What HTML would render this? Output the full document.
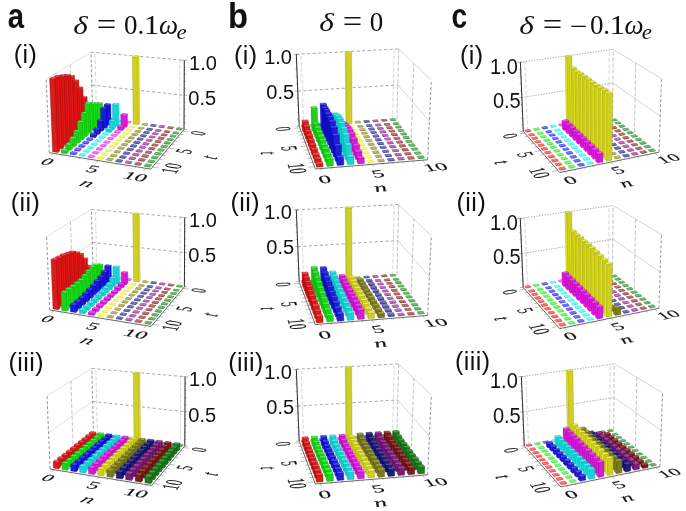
<!DOCTYPE html>
<html><head><meta charset="utf-8"><style>
html,body{margin:0;padding:0;background:#fff;}
svg{display:block;filter:blur(0.35px);}
path{stroke-width:0.35;stroke-linejoin:round} .q{stroke:none}
.s0{fill:rgb(238,15,15);stroke:rgb(158,0,0)}
.f0{fill:rgb(210,31,31);stroke:rgb(158,0,0)}
.t0{fill:rgb(246,76,76);stroke:rgb(158,0,0)}
.u0{fill:rgb(237,71,71)}
.v0{fill:rgb(248,115,115)}
.s1{fill:rgb(15,238,15);stroke:rgb(0,158,0)}
.f1{fill:rgb(31,210,31);stroke:rgb(0,158,0)}
.t1{fill:rgb(76,246,76);stroke:rgb(0,158,0)}
.u1{fill:rgb(71,237,71)}
.v1{fill:rgb(115,248,115)}
.s2{fill:rgb(15,15,238);stroke:rgb(0,0,158)}
.f2{fill:rgb(31,31,210);stroke:rgb(0,0,158)}
.t2{fill:rgb(76,76,246);stroke:rgb(0,0,158)}
.u2{fill:rgb(71,71,237)}
.v2{fill:rgb(115,115,248)}
.s3{fill:rgb(15,238,238);stroke:rgb(0,158,158)}
.f3{fill:rgb(31,210,210);stroke:rgb(0,158,158)}
.t3{fill:rgb(76,246,246);stroke:rgb(0,158,158)}
.u3{fill:rgb(71,237,237)}
.v3{fill:rgb(115,248,248)}
.s4{fill:rgb(238,15,238);stroke:rgb(158,0,158)}
.f4{fill:rgb(210,31,210);stroke:rgb(158,0,158)}
.t4{fill:rgb(246,76,246);stroke:rgb(158,0,158)}
.u4{fill:rgb(237,71,237)}
.v4{fill:rgb(248,115,248)}
.s5{fill:rgb(234,234,24);stroke:rgb(155,155,6)}
.f5{fill:rgb(207,207,38);stroke:rgb(155,155,6)}
.t5{fill:rgb(243,243,83);stroke:rgb(155,155,6)}
.u5{fill:rgb(233,233,78)}
.v5{fill:rgb(245,245,120)}
.s6{fill:rgb(127,127,15);stroke:rgb(79,79,0)}
.f6{fill:rgb(121,121,31);stroke:rgb(79,79,0)}
.t6{fill:rgb(162,162,76);stroke:rgb(79,79,0)}
.u6{fill:rgb(154,154,71)}
.v6{fill:rgb(182,182,115)}
.s7{fill:rgb(15,15,127);stroke:rgb(0,0,79)}
.f7{fill:rgb(31,31,121);stroke:rgb(0,0,79)}
.t7{fill:rgb(76,76,162);stroke:rgb(0,0,79)}
.u7{fill:rgb(71,71,154)}
.v7{fill:rgb(115,115,182)}
.s8{fill:rgb(127,15,127);stroke:rgb(79,0,79)}
.f8{fill:rgb(121,31,121);stroke:rgb(79,0,79)}
.t8{fill:rgb(162,76,162);stroke:rgb(79,0,79)}
.u8{fill:rgb(154,71,154)}
.v8{fill:rgb(182,115,182)}
.s9{fill:rgb(127,15,15);stroke:rgb(79,0,0)}
.f9{fill:rgb(121,31,31);stroke:rgb(79,0,0)}
.t9{fill:rgb(162,76,76);stroke:rgb(79,0,0)}
.u9{fill:rgb(154,71,71)}
.v9{fill:rgb(182,115,115)}
.s10{fill:rgb(15,127,15);stroke:rgb(0,79,0)}
.f10{fill:rgb(31,121,31);stroke:rgb(0,79,0)}
.t10{fill:rgb(76,162,76);stroke:rgb(0,79,0)}
.u10{fill:rgb(71,154,71)}
.v10{fill:rgb(115,182,115)}
</style></head><body>
<svg width="686" height="511" viewBox="0 0 686 511">
<rect width="686" height="511" fill="#fff"/>
<line x1="91.0" y1="52.1" x2="184.3" y2="60.3" stroke="#888" stroke-width="0.75" stroke-dasharray="3,2.5"/>
<line x1="91.9" y1="85.1" x2="184.1" y2="95.3" stroke="#888" stroke-width="0.75" stroke-dasharray="3,2.5"/>
<line x1="96.6" y1="117.9" x2="95.0" y2="52.5" stroke="#bbb" stroke-width="0.6" stroke-dasharray="4,2"/>
<line x1="179.6" y1="128.9" x2="179.8" y2="59.9" stroke="#bbb" stroke-width="0.6" stroke-dasharray="4,2"/>
<line x1="91.0" y1="52.1" x2="46.2" y2="79.2" stroke="#ccc" stroke-width="0.6"/>
<line x1="91.9" y1="85.1" x2="47.8" y2="116.4" stroke="#ccc" stroke-width="0.6"/>
<line x1="72.4" y1="133.9" x2="70.1" y2="64.8" stroke="#999" stroke-width="0.6" stroke-dasharray="4,2"/>
<line x1="49.3" y1="152.7" x2="46.2" y2="79.2" stroke="#666" stroke-width="0.7" stroke-dasharray="3,2"/>
<line x1="92.7" y1="117.4" x2="91.0" y2="52.1" stroke="#666" stroke-width="0.7" stroke-dasharray="3,2"/>
<line x1="184.0" y1="129.5" x2="184.3" y2="60.3" stroke="#bbb" stroke-width="0.6"/>
<line x1="184.0" y1="129.5" x2="184.3" y2="60.3" stroke="#333" stroke-width="1.0"/>
<path d="M184.0 129.5h3.0M184.0 122.7h1.6M184.0 115.9h1.6M184.1 109.1h1.6M184.1 102.2h1.6M184.1 95.3h3.0M184.2 88.4h1.6M184.2 81.4h1.6M184.2 74.4h1.6M184.3 67.4h1.6M184.3 60.3h3.0M184.3 60.3h-2.5" stroke="#333" stroke-width="0.7" fill="none"/>
<line x1="49.3" y1="152.7" x2="150.8" y2="169.1" stroke="#444" stroke-width="0.8"/>
<line x1="150.8" y1="169.1" x2="184.0" y2="129.5" stroke="#444" stroke-width="0.8"/>
<path d="M53.6 153.4L50.9 155.6M182.7 131.1L188.0 131.8M62.3 154.8L60.8 156.1M180.0 134.3L183.1 134.7M71.1 156.2L69.6 157.5M177.2 137.6L180.4 138.0M80.1 157.7L78.6 159.0M174.4 140.9L177.6 141.4M89.1 159.1L87.7 160.5M171.5 144.4L174.7 144.9M98.3 160.6L95.8 163.0M168.5 147.9L174.1 148.8M107.5 162.1L106.2 163.5M165.5 151.6L168.8 152.1M116.9 163.6L115.6 165.0M162.4 155.3L165.7 155.8M126.5 165.2L125.1 166.6M159.2 159.1L162.5 159.6M136.1 166.7L134.8 168.2M155.9 163.0L159.3 163.6M145.9 168.3L143.7 170.8M152.5 167.1L158.4 168.0" stroke="#444" stroke-width="0.6" fill="none"/>
<path class="u0" d="M92.9 117.9l1.7-1.4 4.7 0.6 0 0.8-1.7 1.4-4.7-0.6z"/>
<path class="v0" d="M94.6 116.5l4.7 0.6-1.7 1.5-4.7-0.7z"/>
<path class="u1" d="M100.8 119l1.7-1.4 4.7 0.6 0 0.8-1.6 1.4-4.8-0.6z"/>
<path class="v1" d="M102.5 117.6l4.7 0.6-1.7 1.4-4.7-0.6z"/>
<path class="u2" d="M108.8 120l1.6-1.4 4.8 0.6 0 0.8-1.6 1.5-4.8-0.7z"/>
<path class="v2" d="M110.4 118.6l4.8 0.6-1.6 1.5-4.9-0.7z"/>
<path class="s0" d="M93.2 123l1.8-1.5 0-1.9-1.8 1.4z"/>
<path class="f0" d="M88.5 122.3l4.7 0.7 0-2-4.8-0.6z"/>
<path class="t0" d="M90.2 118.9l4.8 0.7-1.8 1.4-4.8-0.6z"/>
<path class="u3" d="M116.8 121.1l1.6-1.4 4.9 0.6 0 0.8-1.6 1.5-4.9-0.7z"/>
<path class="v3" d="M118.4 119.7l4.9 0.6-1.6 1.5-4.9-0.7z"/>
<path class="u4" d="M125 122.2l1.6-1.5 4.9 0.7 0 0.8-1.6 1.4-4.9-0.6z"/>
<path class="v4" d="M126.6 120.7l4.9 0.7-1.6 1.5-4.9-0.7z"/>
<path class="s1" d="M101.3 124.1l1.7-1.5-0.4-19.7-1.8 1.4z"/>
<path class="f1" d="M96.5 123.4l4.8 0.7-0.5-19.8-4.9-0.6z"/>
<path class="t1" d="M97.7 102.3l4.9 0.6-1.8 1.4-4.9-0.6z"/>
<path class="s5" d="M138.2 124.8l1.6-1.5-0.8-67.2-1.5 1.1z"/>
<path class="f5" d="M133.2 124.1l5 0.7-0.7-67.6-5.1-0.4z"/>
<path class="t5" d="M134 55.6l5 0.5-1.5 1.1-5.1-0.4z"/>
<path class="s2" d="M109.4 125.2l1.7-1.5-0.4-19.8-1.7 1.4z"/>
<path class="f2" d="M104.5 124.5l4.9 0.7-0.4-19.9-4.9-0.6z"/>
<path class="t2" d="M105.8 103.3l4.9 0.6-1.7 1.4-4.9-0.6z"/>
<path class="s0" d="M89.7 126l1.8-1.5-0.4-13.2-1.8 1.4z"/>
<path class="f0" d="M84.8 125.3l4.9 0.7-0.4-13.3-4.8-0.6z"/>
<path class="t0" d="M86.3 110.7l4.8 0.6-1.8 1.4-4.8-0.6z"/>
<path class="u6" d="M141.6 124.4l1.5-1.5 5 0.7 0 0.8-1.5 1.5-5-0.7z"/>
<path class="v6" d="M143.1 122.9l5 0.7-1.5 1.5-5-0.7z"/>
<path class="s3" d="M117.6 126.3l1.7-1.5-0.4-21.2-1.7 1.4z"/>
<path class="f3" d="M112.7 125.6l4.9 0.7-0.4-21.3-5-0.6z"/>
<path class="t3" d="M113.9 103l5 0.6-1.7 1.4-5-0.6z"/>
<path class="s1" d="M97.8 127.1l1.7-1.5-0.5-22.6-1.8 1.4z"/>
<path class="f1" d="M92.9 126.4l4.9 0.7-0.6-22.7-4.9-0.6z"/>
<path class="t1" d="M94.1 102.4l4.9 0.6-1.8 1.4-4.9-0.6z"/>
<path class="u7" d="M150 125.5l1.5-1.5 5.1 0.7 0 0.8-1.5 1.5-5.1-0.7z"/>
<path class="v7" d="M151.5 124l5.1 0.7-1.5 1.5-5.1-0.7z"/>
<path class="s4" d="M125.9 127.4l1.6-1.5-0.1-12-1.7 1.5z"/>
<path class="f4" d="M120.9 126.8l5 0.6-0.2-12-5-0.6z"/>
<path class="t4" d="M122.4 113.3l5 0.6-1.7 1.5-5-0.6z"/>
<path class="s2" d="M106 128.2l1.7-1.5-0.4-19.3-1.8 1.4z"/>
<path class="f2" d="M101 127.5l5 0.7-0.5-19.4-4.9-0.6z"/>
<path class="t2" d="M102.3 106.8l5 0.6-1.8 1.4-4.9-0.6z"/>
<path class="u8" d="M158.5 126.7l1.5-1.6 5.1 0.7 0 0.8-1.4 1.6-5.2-0.7z"/>
<path class="v8" d="M160 125.1l5.1 0.7-1.4 1.6-5.2-0.7z"/>
<path class="s0" d="M86 129l1.8-1.5-0.8-30.8-1.9 1.4z"/>
<path class="f0" d="M81.1 128.3l4.9 0.7-0.9-30.9-4.9-0.6z"/>
<path class="t0" d="M82.1 96.1l4.9 0.6-1.9 1.4-4.9-0.6z"/>
<path class="u5" d="M129.2 127.1l1.6-1.5 5.1 0.6 0 0.8-1.6 1.6-5-0.7z"/>
<path class="v5" d="M130.8 125.6l5.1 0.6-1.6 1.6-5.1-0.7z"/>
<path class="u9" d="M167.2 127.8l1.4-1.5 5.2 0.7 0 0.8-1.4 1.5-5.2-0.7z"/>
<path class="v9" d="M168.5 126.3l5.2 0.7-1.3 1.5-5.3-0.7z"/>
<path class="s3" d="M114.2 129.4l1.7-1.6-0.1-8-1.7 1.5z"/>
<path class="f3" d="M109.3 128.7l4.9 0.7-0.1-8.1-5-0.6z"/>
<path class="t3" d="M110.8 119.2l5 0.6-1.7 1.5-5-0.6z"/>
<path class="s1" d="M94.2 130.2l1.8-1.6-0.7-25.5-1.8 1.4z"/>
<path class="f1" d="M89.3 129.5l4.9 0.7-0.7-25.7-5-0.6z"/>
<path class="t1" d="M90.4 102.5l4.9 0.6-1.8 1.4-5-0.6z"/>
<path class="u6" d="M137.7 128.2l1.5-1.5 5.1 0.7 0 0.8-1.5 1.5-5.1-0.7z"/>
<path class="v6" d="M139.2 126.7l5.1 0.7-1.5 1.5-5.1-0.7z"/>
<path class="u10" d="M175.9 129.8l0-0.8 1.3-1.6 5.3 0.7 0 0.8-1.3 1.6z"/>
<path class="v10" d="M177.2 127.4l5.3 0.7-1.3 1.6-5.3-0.7z"/>
<path class="s4" d="M122.6 130.5l1.7-1.5-0.1-3.4-1.6 1.6z"/>
<path class="f4" d="M117.6 129.8l5 0.7 0-3.3-5.1-0.7z"/>
<path class="t4" d="M119.2 125l5 0.6-1.6 1.6-5.1-0.7z"/>
<path class="u7" d="M146.2 129.4l1.5-1.6 5.2 0.7 0 0.8-1.5 1.6-5.2-0.7z"/>
<path class="v7" d="M147.7 127.8l5.2 0.7-1.5 1.6-5.2-0.7z"/>
<path class="s2" d="M102.4 131.3l1.8-1.5-0.2-10.1-1.8 1.5z"/>
<path class="f2" d="M97.5 130.6l4.9 0.7-0.2-10.1-5-0.6z"/>
<path class="t2" d="M99 119l5 0.7-1.8 1.5-5-0.6z"/>
<path class="s0" d="M82.2 132.1l1.9-1.5-1.3-43.5-1.9 1.4z"/>
<path class="f0" d="M77.3 131.4l4.9 0.7-1.3-43.6-5-0.6z"/>
<path class="t0" d="M77.9 86.6l4.9 0.5-1.9 1.4-5-0.6z"/>
<path class="u5" d="M126 130.2l1.6-1.6 5.1 0.7 0 0.8-1.6 1.6-5.1-0.7z"/>
<path class="v5" d="M127.6 128.6l5.1 0.7-1.6 1.6-5.1-0.7z"/>
<path class="u8" d="M154.8 130.6l1.5-1.6 5.2 0.7 0 0.8-1.4 1.6-5.3-0.7z"/>
<path class="v8" d="M156.3 129l5.2 0.7-1.4 1.6-5.2-0.7z"/>
<path class="s3" d="M110.8 132.5l1.7-1.6 0-2.7-1.8 1.6z"/>
<path class="f3" d="M105.8 131.8l5 0.7-0.1-2.7-5-0.7z"/>
<path class="t3" d="M107.5 127.6l5 0.6-1.8 1.6-5-0.7z"/>
<path class="s1" d="M90.5 133.3l1.8-1.6-0.7-29.1-1.9 1.4z"/>
<path class="f1" d="M85.5 132.6l5 0.7-0.8-29.3-5-0.6z"/>
<path class="t1" d="M86.6 101.9l5 0.7-1.9 1.4-5-0.6z"/>
<path class="u6" d="M134.5 131.4l1.6-1.6 5.1 0.7 0 0.8-1.5 1.6-5.2-0.7z"/>
<path class="v6" d="M136.1 129.8l5.1 0.7-1.5 1.6-5.2-0.7z"/>
<path class="u9" d="M163.6 131.8l1.4-1.6 5.3 0.7 0 0.8-1.4 1.6-5.3-0.7z"/>
<path class="v9" d="M165 130.2l5.3 0.7-1.4 1.6-5.3-0.7z"/>
<path class="u4" d="M114.1 131.6l1.8-1.5 5 0.7 0 1.3-1.7 1.6-5-0.7z"/>
<path class="v4" d="M115.9 130.1l5 0.7-1.7 1.6-5.1-0.8z"/>
<path class="s2" d="M98.8 134.5l1.8-1.6-0.1-4.7-1.8 1.6z"/>
<path class="f2" d="M93.8 133.8l5 0.7-0.1-4.7-5-0.7z"/>
<path class="t2" d="M95.5 127.5l5 0.7-1.8 1.6-5-0.7z"/>
<path class="u7" d="M143.1 132.6l1.6-1.6 5.2 0.7 0 0.8-1.6 1.6-5.2-0.7z"/>
<path class="v7" d="M144.7 131l5.2 0.7-1.6 1.6-5.2-0.7z"/>
<path class="u10" d="M172.4 133l1.4-1.6 5.3 0.7 0 0.8-1.3 1.6-5.4-0.7z"/>
<path class="v10" d="M173.8 131.4l5.3 0.7-1.3 1.6-5.4-0.7z"/>
<path class="s0" d="M78.4 135.3l1.9-1.6-1.6-53.6-2 1.3z"/>
<path class="f0" d="M73.5 134.6l4.9 0.7-1.7-53.9-5-0.6z"/>
<path class="t0" d="M73.7 79.5l5 0.6-2 1.3-5-0.6z"/>
<path class="u5" d="M122.7 133.4l1.7-1.6 5.1 0.7 0.1 0.8-1.7 1.6-5.1-0.7z"/>
<path class="v5" d="M124.3 131.8l5.1 0.7-1.6 1.6-5.2-0.7z"/>
<path class="u8" d="M151.8 133.8l1.6-1.6 5.2 0.7 0 0.8-1.5 1.6-5.3-0.7z"/>
<path class="v8" d="M153.4 132.2l5.2 0.7-1.5 1.6-5.3-0.7z"/>
<path class="u3" d="M102.2 133.7l1.8-1.6 5 0.8 0 1.3-1.7 1.6-5.1-0.7z"/>
<path class="v3" d="M104 132l5 0.8-1.8 1.6-5-0.8z"/>
<path class="s1" d="M86.7 136.6l1.9-1.7-0.6-22.6-1.9 1.5z"/>
<path class="f1" d="M81.7 135.8l5 0.8-0.6-22.8-5.1-0.6z"/>
<path class="t1" d="M83 111.7l5 0.6-1.9 1.5-5.1-0.6z"/>
<path class="u6" d="M131.2 134.6l1.7-1.6 5.2 0.7 0 0.8-1.6 1.7-5.2-0.8z"/>
<path class="v6" d="M132.9 133l5.2 0.7-1.6 1.6-5.3-0.7z"/>
<path class="u9" d="M160.7 135l1.5-1.6 5.3 0.7 0 0.8-1.4 1.7-5.3-0.8z"/>
<path class="v9" d="M162.1 133.4l5.3 0.7-1.4 1.6-5.3-0.7z"/>
<path class="u4" d="M110.7 135.2l1.8-1.6 5.1 0.7 0 1-1.7 1.7-5.1-0.8z"/>
<path class="v4" d="M112.4 133.6l5.1 0.7-1.7 1.6-5.2-0.7z"/>
<path class="s2" d="M95.1 137.8l1.9-1.7-0.1-2.7-1.8 1.6z"/>
<path class="f2" d="M90.1 137l5 0.8 0-2.8-5.1-0.7z"/>
<path class="t2" d="M91.9 132.7l5 0.7-1.8 1.6-5.1-0.7z"/>
<path class="u7" d="M139.9 135.8l1.6-1.6 5.3 0.7 0 0.8-1.6 1.7-5.2-0.8z"/>
<path class="v7" d="M141.5 134.2l5.3 0.7-1.6 1.7-5.3-0.8z"/>
<path class="u10" d="M169.6 136.2l1.4-1.6 5.4 0.7 0 0.9-1.4 1.6-5.4-0.7z"/>
<path class="v10" d="M171 134.6l5.4 0.7-1.4 1.7-5.4-0.8z"/>
<path class="s0" d="M74.5 138.6l1.9-1.6-1.9-61.4-2.1 1.3z"/>
<path class="f0" d="M69.5 137.9l5 0.7-2.1-61.7-5.1-0.5z"/>
<path class="t0" d="M69.4 75.1l5.1 0.5-2.1 1.3-5.1-0.5z"/>
<path class="u5" d="M119.2 136.6l1.8-1.6 5.1 0.7 0 0.9-1.7 1.6-5.2-0.7z"/>
<path class="v5" d="M120.9 135l5.2 0.7-1.7 1.7-5.2-0.8z"/>
<path class="u8" d="M148.8 137.1l1.5-1.7 5.3 0.8 0 0.8-1.5 1.6-5.3-0.7z"/>
<path class="v8" d="M150.3 135.4l5.3 0.8-1.5 1.6-5.4-0.7z"/>
<path class="u3" d="M98.5 136.9l1.8-1.6 5.1 0.7 0.1 1.4-1.8 1.6-5.2-0.7z"/>
<path class="v3" d="M100.3 135.3l5.1 0.7-1.8 1.7-5.1-0.8z"/>
<path class="s1" d="M82.9 139.9l1.9-1.7-0.5-17.3-2 1.6z"/>
<path class="f1" d="M77.8 139.1l5.1 0.8-0.6-17.4-5-0.7z"/>
<path class="t1" d="M79.2 120.2l5.1 0.7-2 1.6-5-0.7z"/>
<path class="u6" d="M127.9 137.9l1.7-1.7 5.2 0.8 0 0.8-1.6 1.7-5.3-0.8z"/>
<path class="v6" d="M129.6 136.2l5.2 0.8-1.6 1.6-5.3-0.7z"/>
<path class="u9" d="M157.7 138.3l1.6-1.7 5.3 0.8 0 0.8-1.5 1.7-5.3-0.7z"/>
<path class="v9" d="M159.2 136.6l5.3 0.8-1.5 1.7-5.3-0.8z"/>
<path class="u4" d="M107.1 138.5l1.8-1.7 5.1 0.8 0 1-1.7 1.7-5.2-0.8z"/>
<path class="v4" d="M108.9 136.8l5.1 0.8-1.7 1.7-5.2-0.8z"/>
<path class="u2" d="M86.2 139l1.9-1.7 5.1 0.8 0.1 1.3-1.9 1.7-5.2-0.7z"/>
<path class="v2" d="M88.1 137.3l5.1 0.8-1.9 1.6-5.1-0.7z"/>
<path class="s0" d="M70.4 142l2.1-1.7-2.2-65.6-2.1 1.3z"/>
<path class="f0" d="M65.4 141.2l5 0.8-2.2-66-5.2-0.6z"/>
<path class="t0" d="M65.1 74.1l5.2 0.6-2.1 1.3-5.2-0.6z"/>
<path class="u7" d="M136.7 139.2l1.6-1.7 5.3 0.7 0 0.9-1.6 1.7-5.3-0.8z"/>
<path class="v7" d="M138.3 137.5l5.3 0.7-1.6 1.7-5.3-0.8z"/>
<path class="u10" d="M166.7 139.6l1.4-1.7 5.5 0.8 0 0.8-1.5 1.7-5.4-0.8z"/>
<path class="v10" d="M168.1 137.9l5.5 0.8-1.5 1.7-5.4-0.8z"/>
<path class="u5" d="M115.7 140l1.8-1.7 5.2 0.8 0 0.8-1.7 1.7-5.2-0.8z"/>
<path class="v5" d="M117.5 138.3l5.2 0.8-1.7 1.6-5.3-0.7z"/>
<path class="u3" d="M94.8 140.6l1.8-1.7 5.2 0.8 0 1-1.8 1.7-5.2-0.8z"/>
<path class="v3" d="M96.6 138.9l5.2 0.8-1.9 1.7-5.1-0.8z"/>
<path class="u8" d="M145.6 140.4l1.6-1.7 5.3 0.8 0 0.8-1.5 1.7-5.4-0.7z"/>
<path class="v8" d="M147.2 138.7l5.3 0.8-1.5 1.7-5.4-0.8z"/>
<path class="s1" d="M78.9 143.2l2-1.7-0.3-11.1-2 1.6z"/>
<path class="f1" d="M73.8 142.5l5.1 0.7-0.3-11.2-5.2-0.7z"/>
<path class="t1" d="M75.5 129.7l5.1 0.7-2 1.6-5.2-0.7z"/>
<path class="u6" d="M124.5 141.3l1.7-1.7 5.3 0.7 0 0.9-1.7 1.7-5.3-0.8z"/>
<path class="v6" d="M126.2 139.6l5.3 0.7-1.7 1.7-5.3-0.7z"/>
<path class="u9" d="M154.6 141.7l1.5-1.7 5.5 0.8 0 0.8-1.6 1.7-5.4-0.7z"/>
<path class="v9" d="M156.1 140l5.4 0.8-1.5 1.7-5.4-0.8z"/>
<path class="u4" d="M103.4 142.1l1.8-1.7 5.3 0.8 0 0.8-1.8 1.7-5.3-0.8z"/>
<path class="v4" d="M105.2 140.4l5.3 0.8-1.9 1.7-5.2-0.8z"/>
<path class="u2" d="M82.3 142.4l2-1.7 5.1 0.7 0 1.4-1.9 1.8-5.2-0.8z"/>
<path class="v2" d="M84.3 140.7l5.1 0.7-1.9 1.7-5.2-0.7z"/>
<path class="s0" d="M66.3 145.4l2.1-1.7-2.4-68.6-2.2 1.4z"/>
<path class="f0" d="M61.2 144.6l5.1 0.8-2.5-68.9-5.2-0.6z"/>
<path class="t0" d="M60.8 74.6l5.2 0.5-2.2 1.4-5.2-0.6z"/>
<path class="u7" d="M133.4 142.6l1.6-1.8 5.4 0.8 0 0.9-1.6 1.7-5.4-0.8z"/>
<path class="v7" d="M135 140.8l5.4 0.8-1.7 1.7-5.3-0.7z"/>
<path class="u10" d="M163.7 143l1.5-1.7 5.5 0.8 0 0.8-1.5 1.8-5.5-0.8z"/>
<path class="v10" d="M165.2 141.3l5.5 0.8-1.5 1.7-5.5-0.8z"/>
<path class="u5" d="M112.2 143.4l1.8-1.7 5.2 0.7 0 0.9-1.7 1.7-5.3-0.8z"/>
<path class="v5" d="M114 141.7l5.2 0.8-1.8 1.7-5.3-0.8z"/>
<path class="u3" d="M90.9 144l1.9-1.7 5.2 0.8 0.1 1-1.9 1.8-5.2-0.8z"/>
<path class="v3" d="M92.9 142.3l5.1 0.8-1.9 1.7-5.2-0.8z"/>
<path class="u8" d="M142.3 143.9l1.7-1.8 5.4 0.8 0 0.9-1.6 1.7-5.4-0.8z"/>
<path class="v8" d="M144 142.1l5.4 0.8-1.6 1.8-5.5-0.8z"/>
<path class="s1" d="M74.9 146.7l2-1.7-0.2-7.8-2.1 1.7z"/>
<path class="f1" d="M69.7 145.9l5.2 0.8-0.3-7.8-5.1-0.7z"/>
<path class="t1" d="M71.5 136.5l5.2 0.7-2.1 1.7-5.1-0.7z"/>
<path class="u6" d="M121 144.7l1.8-1.7 5.3 0.8 0 0.8-1.7 1.8-5.4-0.8z"/>
<path class="v6" d="M122.8 143l5.3 0.8-1.7 1.7-5.4-0.8z"/>
<path class="u9" d="M151.4 145.2l1.6-1.8 5.5 0.8 0 0.9-1.6 1.7-5.5-0.8z"/>
<path class="v9" d="M153 143.4l5.5 0.8-1.6 1.8-5.5-0.8z"/>
<path class="u4" d="M99.7 145.6l1.9-1.8 5.3 0.8 0 0.8-1.8 1.8-5.3-0.8z"/>
<path class="v4" d="M101.5 143.8l5.3 0.8-1.9 1.8-5.3-0.8z"/>
<path class="u2" d="M78.3 145.8l2-1.7 5.2 0.8 0 1.4-2 1.8-5.2-0.9z"/>
<path class="v2" d="M80.3 144.1l5.2 0.8-2 1.7-5.2-0.8z"/>
<path class="s0" d="M62.1 148.9l2.1-1.8-2.6-71.5-2.2 1.4z"/>
<path class="f0" d="M57 148.1l5.1 0.8-2.7-71.9-5.2-0.6z"/>
<path class="t0" d="M56.4 75.1l5.2 0.5-2.2 1.4-5.2-0.6z"/>
<path class="u7" d="M130 146l1.7-1.7 5.4 0.8 0 0.8-1.7 1.8-5.4-0.8z"/>
<path class="v7" d="M131.7 144.3l5.4 0.8-1.7 1.8-5.4-0.9z"/>
<path class="u10" d="M160.6 146.5l1.6-1.7 5.5 0.8 0 0.8-1.5 1.8-5.6-0.8z"/>
<path class="v10" d="M162.2 144.8l5.5 0.8-1.5 1.7-5.6-0.8z"/>
<path class="u5" d="M108.5 146.9l1.8-1.8 5.3 0.8 0.1 0.9-1.9 1.8-5.3-0.8z"/>
<path class="v5" d="M110.3 145.1l5.3 0.8-1.8 1.8-5.3-0.8z"/>
<path class="u3" d="M87 147.5l2-1.7 5.2 0.8 0 1-1.9 1.8-5.3-0.8z"/>
<path class="v3" d="M89 145.8l5.2 0.8-1.9 1.7-5.3-0.8z"/>
<path class="s1" d="M70.7 150.3l2.1-1.8-0.2-5-2 1.8z"/>
<path class="f1" d="M65.5 149.5l5.2 0.8-0.1-5-5.2-0.8z"/>
<path class="t1" d="M67.5 142.7l5.1 0.8-2 1.8-5.2-0.8z"/>
<path class="u8" d="M139 147.4l1.7-1.8 5.5 0.8 0 0.9-1.7 1.8-5.5-0.9z"/>
<path class="v8" d="M140.7 145.6l5.5 0.8-1.7 1.8-5.5-0.8z"/>
<path class="u6" d="M117.4 148.2l1.8-1.7 5.4 0.8 0 0.8-1.8 1.8-5.4-0.8z"/>
<path class="v6" d="M119.2 146.5l5.4 0.8-1.8 1.8-5.4-0.8z"/>
<path class="u9" d="M148.2 148.8l1.6-1.8 5.6 0.8 0 0.8-1.6 1.8-5.6-0.8z"/>
<path class="v9" d="M149.8 147l5.6 0.8-1.6 1.8-5.6-0.8z"/>
<path class="u4" d="M95.8 149.1l1.9-1.8 5.3 0.8 0.1 0.9-1.9 1.8-5.4-0.8z"/>
<path class="v4" d="M97.7 147.3l5.3 0.8-1.9 1.8-5.3-0.8z"/>
<path class="u2" d="M74.2 149.4l2-1.8 5.3 0.8 0 1.4-2 1.8-5.3-0.8z"/>
<path class="v2" d="M76.2 147.6l5.3 0.8-2.1 1.8-5.2-0.8z"/>
<path class="s0" d="M57.8 152.5l2.1-1.8-2.8-73.1-2.2 1.4z"/>
<path class="f0" d="M52.6 151.7l5.2 0.8-2.9-73.5-5.3-0.6z"/>
<path class="t0" d="M51.9 77l5.2 0.6-2.2 1.4-5.3-0.6z"/>
<path class="u7" d="M126.5 149.6l1.7-1.8 5.5 0.8 0 0.9-1.7 1.8-5.5-0.8z"/>
<path class="v7" d="M128.2 147.8l5.5 0.8-1.8 1.9-5.4-0.9z"/>
<path class="u10" d="M157.5 150.1l1.6-1.8 5.6 0.9 0 0.8-1.6 1.8-5.6-0.8z"/>
<path class="v10" d="M159.1 148.3l5.6 0.9-1.6 1.8-5.6-0.9z"/>
<path class="u5" d="M104.7 150.5l1.9-1.8 5.4 0.8 0 0.9-1.9 1.8-5.4-0.8z"/>
<path class="v5" d="M106.6 148.7l5.4 0.8-1.9 1.8-5.4-0.8z"/>
<path class="u3" d="M83 151.1l2-1.8 5.3 0.9 0 1-2 1.8-5.3-0.8z"/>
<path class="v3" d="M85 149.3l5.3 0.8-2 1.9-5.3-0.9z"/>
<path class="s1" d="M66.5 153.9l2.1-1.8-0.1-2.9-2.1 1.8z"/>
<path class="f1" d="M61.2 153.1l5.3 0.8-0.1-2.9-5.3-0.8z"/>
<path class="t1" d="M63.3 148.4l5.2 0.8-2.1 1.8-5.3-0.8z"/>
<path class="u8" d="M135.6 151l1.7-1.8 5.5 0.8 0.1 0.9-1.7 1.8-5.6-0.8z"/>
<path class="v8" d="M137.3 149.2l5.6 0.8-1.7 1.9-5.6-0.9z"/>
<path class="u6" d="M113.7 151.9l1.9-1.9 5.4 0.9 0 0.9-1.8 1.8-5.4-0.8z"/>
<path class="v6" d="M115.6 150.1l5.4 0.8-1.8 1.8-5.5-0.8z"/>
<path class="u4" d="M91.8 152.8l2-1.9 5.4 0.9 0 0.8-1.9 1.9-5.4-0.9z"/>
<path class="v4" d="M93.8 150.9l5.4 0.9-2 1.8-5.3-0.9z"/>
<path class="u9" d="M144.9 152.4l1.7-1.8 5.6 0.8 0 0.9-1.7 1.8-5.6-0.8z"/>
<path class="v9" d="M146.6 150.6l5.5 0.8-1.6 1.9-5.6-0.9z"/>
<path class="u2" d="M69.9 153l2.2-1.8 5.3 0.8 0 1.5-2.1 1.8-5.3-0.8z"/>
<path class="v2" d="M72.1 151.2l5.2 0.8-2.1 1.9-5.3-0.9z"/>
<path class="u7" d="M122.9 153.3l1.8-1.9 5.5 0.9 0 0.9-1.8 1.8-5.5-0.8z"/>
<path class="v7" d="M124.7 151.4l5.5 0.9-1.8 1.8-5.5-0.8z"/>
<path class="u10" d="M154.3 153.8l1.6-1.8 5.7 0.8 0 0.9-1.6 1.9-5.7-0.9z"/>
<path class="v10" d="M155.9 152l5.7 0.8-1.6 1.9-5.7-0.9z"/>
<path class="u5" d="M100.9 154.2l1.9-1.9 5.4 0.9 0 0.8-1.9 1.9-5.4-0.9z"/>
<path class="v5" d="M102.8 152.3l5.4 0.9-1.9 1.8-5.4-0.8z"/>
<path class="u3" d="M78.8 154.8l2.1-1.8 5.3 0.8 0.1 1.1-2.1 1.9-5.3-0.9z"/>
<path class="v3" d="M80.9 153l5.3 0.8-2 1.9-5.4-0.9z"/>
<path class="u8" d="M132.1 154.7l1.8-1.9 5.6 0.9 0 0.9-1.7 1.9-5.7-0.9z"/>
<path class="v8" d="M133.9 152.9l5.6 0.8-1.8 1.9-5.6-0.9z"/>
<path class="u6" d="M110 155.6l1.9-1.9 5.5 0.9 0 0.9-1.9 1.9-5.5-0.9z"/>
<path class="v6" d="M111.9 153.7l5.5 0.9-1.9 1.9-5.5-0.9z"/>
<path class="u4" d="M87.8 156.5l2-1.9 5.5 0.9 0 0.8-2 1.9-5.5-0.8z"/>
<path class="v4" d="M89.8 154.6l5.5 0.9-2.1 1.9-5.4-0.9z"/>
<path class="u9" d="M141.5 156.2l1.7-1.9 5.7 0.8 0 0.9-1.7 1.9-5.7-0.9z"/>
<path class="v9" d="M143.2 154.3l5.7 0.8-1.7 1.9-5.7-0.8z"/>
<path class="u7" d="M119.2 157.1l1.8-1.8 5.6 0.8 0 0.9-1.8 1.9-5.6-0.9z"/>
<path class="v7" d="M121.1 155.2l5.5 0.8-1.8 1.9-5.6-0.9z"/>
<path class="u10" d="M151 157.6l1.6-1.9 5.8 0.9 0 0.9-1.7 1.9-5.7-0.9z"/>
<path class="v10" d="M152.6 155.7l5.8 0.9-1.7 1.9-5.7-0.9z"/>
<path class="u5" d="M96.9 157.9l2-1.9 5.5 0.9 0 0.9-2 1.9-5.5-0.9z"/>
<path class="v5" d="M98.9 156l5.5 0.9-2 1.9-5.5-0.9z"/>
<path class="u8" d="M128.6 158.5l1.8-1.9 5.6 0.9 0 0.9-1.8 1.9-5.6-0.9z"/>
<path class="v8" d="M130.4 156.6l5.6 0.9-1.8 1.9-5.6-0.9z"/>
<path class="u6" d="M106.1 159.4l1.9-1.9 5.6 0.9 0 0.9-1.9 1.9-5.6-0.9z"/>
<path class="v6" d="M108.1 157.5l5.5 0.9-1.9 1.9-5.6-0.9z"/>
<path class="u9" d="M138 160l1.8-1.9 5.7 0.9 0 0.9-1.7 1.9-5.8-0.9z"/>
<path class="v9" d="M139.8 158.1l5.7 0.9-1.7 1.9-5.8-0.9z"/>
<path class="u7" d="M115.4 160.9l1.9-1.9 5.7 0.9 0 0.9-1.9 1.9-5.7-0.9z"/>
<path class="v7" d="M117.3 159l5.7 0.9-1.9 1.9-5.7-0.9z"/>
<path class="u10" d="M147.6 161.5l1.7-1.9 5.8 0.9 0 0.9-1.7 1.9-5.8-0.9z"/>
<path class="v10" d="M149.3 159.6l5.8 0.9-1.7 1.9-5.8-0.9z"/>
<path class="u8" d="M124.9 162.4l1.8-1.9 5.7 0.9 0 0.9-1.8 1.9-5.7-0.9z"/>
<path class="v8" d="M126.7 160.5l5.7 0.9-1.8 1.9-5.7-0.9z"/>
<path class="u9" d="M134.4 164l1.8-2 5.8 0.9 0 0.9-1.7 2-5.8-0.9z"/>
<path class="v9" d="M136.2 162l5.8 0.9-1.8 2-5.8-0.9z"/>
<path class="u10" d="M144.1 165.5l1.8-2 5.8 0.9 0 0.9-1.7 2.1-5.8-1z"/>
<path class="v10" d="M145.9 163.5l5.8 0.9-1.7 2.1-5.9-1z"/>
<g font-family="Liberation Serif" fill="#111" stroke="#111" stroke-width="0.15">
<text transform="matrix(1.5507,0.2614,-0.8135,0.6784,47.60,161.50)" font-size="13" text-anchor="middle" dominant-baseline="central">0</text>
<text transform="matrix(1.6516,0.2783,-0.7351,0.7173,92.70,169.00)" font-size="13" text-anchor="middle" dominant-baseline="central">5</text>
<text transform="matrix(1.7525,0.2956,-0.6556,0.7571,135.50,176.50)" font-size="13" text-anchor="middle" dominant-baseline="central">10</text>
<text transform="matrix(1.7211,0.3077,-0.7817,0.7839,87.40,182.90)" font-size="13" font-style="italic" text-anchor="middle" dominant-baseline="central">n</text>
<text transform="matrix(0.4392,-0.5669,1.5829,0.2121,198.00,133.20)" font-size="13" text-anchor="middle" dominant-baseline="central">0</text>
<text transform="matrix(0.4992,-0.6450,1.6733,0.2461,184.10,151.50)" font-size="13" text-anchor="middle" dominant-baseline="central">5</text>
<text transform="matrix(0.5572,-0.7212,1.7549,0.2796,171.50,168.30)" font-size="13" text-anchor="middle" dominant-baseline="central">10</text>
<text transform="matrix(0.4546,-0.6738,1.7416,0.2586,209.20,157.40)" font-size="13" font-style="italic" text-anchor="middle" dominant-baseline="central">t</text>
</g>
<line x1="91.4" y1="209.4" x2="184.7" y2="217.6" stroke="#888" stroke-width="0.75" stroke-dasharray="3,2.5"/>
<line x1="92.3" y1="242.4" x2="184.5" y2="252.6" stroke="#888" stroke-width="0.75" stroke-dasharray="3,2.5"/>
<line x1="97.0" y1="275.2" x2="95.4" y2="209.8" stroke="#bbb" stroke-width="0.6" stroke-dasharray="4,2"/>
<line x1="180.0" y1="286.2" x2="180.2" y2="217.2" stroke="#bbb" stroke-width="0.6" stroke-dasharray="4,2"/>
<line x1="91.4" y1="209.4" x2="46.6" y2="236.5" stroke="#ccc" stroke-width="0.6"/>
<line x1="92.3" y1="242.4" x2="48.2" y2="273.7" stroke="#ccc" stroke-width="0.6"/>
<line x1="72.8" y1="291.2" x2="70.5" y2="222.1" stroke="#999" stroke-width="0.6" stroke-dasharray="4,2"/>
<line x1="49.7" y1="310.0" x2="46.6" y2="236.5" stroke="#666" stroke-width="0.7" stroke-dasharray="3,2"/>
<line x1="93.1" y1="274.7" x2="91.4" y2="209.4" stroke="#666" stroke-width="0.7" stroke-dasharray="3,2"/>
<line x1="184.4" y1="286.8" x2="184.7" y2="217.6" stroke="#bbb" stroke-width="0.6"/>
<line x1="184.4" y1="286.8" x2="184.7" y2="217.6" stroke="#333" stroke-width="1.0"/>
<path d="M184.4 286.8h3.0M184.4 280.0h1.6M184.4 273.2h1.6M184.5 266.4h1.6M184.5 259.5h1.6M184.5 252.6h3.0M184.6 245.7h1.6M184.6 238.7h1.6M184.6 231.7h1.6M184.7 224.7h1.6M184.7 217.6h3.0M184.7 217.6h-2.5" stroke="#333" stroke-width="0.7" fill="none"/>
<line x1="49.7" y1="310.0" x2="151.2" y2="326.4" stroke="#444" stroke-width="0.8"/>
<line x1="151.2" y1="326.4" x2="184.4" y2="286.8" stroke="#444" stroke-width="0.8"/>
<path d="M54.0 310.7L51.3 312.9M183.1 288.4L188.4 289.1M62.7 312.1L61.2 313.4M180.4 291.6L183.5 292.0M71.5 313.5L70.0 314.8M177.6 294.9L180.8 295.3M80.5 315.0L79.0 316.3M174.8 298.2L178.0 298.7M89.5 316.4L88.1 317.8M171.9 301.7L175.1 302.2M98.7 317.9L96.2 320.3M168.9 305.2L174.5 306.1M107.9 319.4L106.6 320.8M165.9 308.9L169.2 309.4M117.3 320.9L116.0 322.3M162.8 312.6L166.1 313.1M126.9 322.5L125.5 323.9M159.6 316.4L162.9 316.9M136.5 324.0L135.2 325.5M156.3 320.3L159.7 320.9M146.3 325.6L144.1 328.1M152.9 324.4L158.8 325.3" stroke="#444" stroke-width="0.6" fill="none"/>
<path class="u0" d="M93.3 275.2l1.7-1.4 4.7 0.6 0 0.8-1.7 1.4-4.7-0.6z"/>
<path class="v0" d="M95 273.8l4.7 0.6-1.7 1.5-4.7-0.7z"/>
<path class="u1" d="M101.2 276.3l1.7-1.5 4.7 0.7 0 0.7-1.6 1.5-4.8-0.6z"/>
<path class="v1" d="M102.9 274.9l4.7 0.6-1.7 1.4-4.7-0.6z"/>
<path class="u2" d="M109.2 277.3l1.6-1.4 4.8 0.6 0 0.8-1.6 1.5-4.8-0.7z"/>
<path class="v2" d="M110.8 275.9l4.8 0.6-1.6 1.5-4.9-0.7z"/>
<path class="s0" d="M93.6 280.3l1.8-1.5-0.1-5.2-1.8 1.5z"/>
<path class="f0" d="M88.9 279.6l4.7 0.7-0.1-5.2-4.8-0.7z"/>
<path class="t0" d="M90.5 273l4.8 0.6-1.8 1.5-4.8-0.7z"/>
<path class="u3" d="M117.2 278.4l1.6-1.4 4.9 0.6 0 0.8-1.6 1.4-4.9-0.6z"/>
<path class="v3" d="M118.8 277l4.9 0.6-1.6 1.5-4.9-0.7z"/>
<path class="u4" d="M125.4 279.5l1.6-1.5 4.9 0.7 0 0.8-1.6 1.5-4.9-0.7z"/>
<path class="v4" d="M127 278l4.9 0.7-1.6 1.5-4.9-0.7z"/>
<path class="s1" d="M101.7 281.4l1.7-1.5-0.4-15.7-1.7 1.4z"/>
<path class="f1" d="M96.9 280.7l4.8 0.7-0.4-15.8-4.8-0.6z"/>
<path class="t1" d="M98.2 263.6l4.8 0.6-1.7 1.4-4.8-0.6z"/>
<path class="s5" d="M138.6 282.1l1.6-1.5-0.8-67.2-1.5 1.1z"/>
<path class="f5" d="M133.6 281.4l5 0.7-0.7-67.6-5.1-0.4z"/>
<path class="t5" d="M134.4 212.9l5 0.5-1.5 1.1-5.1-0.4z"/>
<path class="s2" d="M109.8 282.5l1.7-1.5-0.3-15.8-1.7 1.4z"/>
<path class="f2" d="M104.9 281.8l4.9 0.7-0.3-15.9-4.9-0.6z"/>
<path class="t2" d="M106.3 264.6l4.9 0.6-1.7 1.4-4.9-0.6z"/>
<path class="s0" d="M90.1 283.3l1.8-1.5-0.5-16.5-1.8 1.4z"/>
<path class="f0" d="M85.2 282.6l4.9 0.7-0.5-16.6-4.8-0.6z"/>
<path class="t0" d="M86.6 264.7l4.8 0.6-1.8 1.4-4.8-0.6z"/>
<path class="u6" d="M142 281.7l1.5-1.5 5 0.7 0 0.8-1.5 1.5-5-0.7z"/>
<path class="v6" d="M143.5 280.2l5 0.7-1.5 1.5-5-0.7z"/>
<path class="s3" d="M118 283.6l1.7-1.5-0.3-15.9-1.7 1.4z"/>
<path class="f3" d="M113.1 282.9l4.9 0.7-0.3-16-4.9-0.6z"/>
<path class="t3" d="M114.4 265.6l5 0.6-1.7 1.4-4.9-0.6z"/>
<path class="s1" d="M98.2 284.4l1.7-1.5-0.4-18.6-1.8 1.4z"/>
<path class="f1" d="M93.3 283.7l4.9 0.7-0.5-18.7-4.9-0.6z"/>
<path class="t1" d="M94.6 263.7l4.9 0.6-1.8 1.4-4.9-0.6z"/>
<path class="u7" d="M150.4 282.8l1.5-1.5 5.1 0.7 0 0.8-1.5 1.5-5.1-0.7z"/>
<path class="v7" d="M151.9 281.3l5.1 0.7-1.5 1.5-5.1-0.7z"/>
<path class="s4" d="M126.3 284.7l1.6-1.5-0.1-11.3-1.7 1.5z"/>
<path class="f4" d="M121.3 284.1l5 0.6-0.2-11.3-5-0.7z"/>
<path class="t4" d="M122.8 271.3l5 0.6-1.7 1.5-5-0.7z"/>
<path class="s2" d="M106.4 285.5l1.7-1.5-0.3-13.3-1.7 1.5z"/>
<path class="f2" d="M101.4 284.8l5 0.7-0.3-13.3-5-0.7z"/>
<path class="t2" d="M102.9 270.1l4.9 0.6-1.7 1.5-5-0.7z"/>
<path class="u8" d="M158.9 284l1.5-1.6 5.1 0.7 0 0.8-1.4 1.6-5.2-0.7z"/>
<path class="v8" d="M160.4 282.4l5.1 0.7-1.4 1.6-5.2-0.7z"/>
<path class="s0" d="M86.4 286.3l1.8-1.5-0.7-26.7-1.9 1.4z"/>
<path class="f0" d="M81.5 285.6l4.9 0.7-0.8-26.8-4.9-0.6z"/>
<path class="t0" d="M82.6 257.5l4.9 0.6-1.9 1.4-4.9-0.6z"/>
<path class="u5" d="M129.7 284.4l1.6-1.5 5.1 0.6 0 0.8-1.6 1.6-5-0.7z"/>
<path class="v5" d="M131.2 282.9l5.1 0.6-1.6 1.6-5.1-0.7z"/>
<path class="u9" d="M167.6 285.1l1.4-1.5 5.2 0.7 0 0.8-1.4 1.5-5.2-0.7z"/>
<path class="v9" d="M168.9 283.6l5.2 0.7-1.3 1.5-5.3-0.7z"/>
<path class="s3" d="M114.6 286.7l1.7-1.6-0.1-8-1.7 1.5z"/>
<path class="f3" d="M109.7 286l4.9 0.7-0.1-8.1-5-0.6z"/>
<path class="t3" d="M111.2 276.5l5 0.6-1.7 1.5-5-0.6z"/>
<path class="s1" d="M94.6 287.5l1.8-1.6-0.5-20.1-1.9 1.5z"/>
<path class="f1" d="M89.7 286.8l4.9 0.7-0.6-20.2-4.9-0.7z"/>
<path class="t1" d="M90.9 265.2l5 0.6-1.9 1.5-4.9-0.7z"/>
<path class="u6" d="M138.1 285.5l1.5-1.5 5.1 0.7 0 0.8-1.5 1.5-5.1-0.7z"/>
<path class="v6" d="M139.6 284l5.1 0.7-1.5 1.5-5.1-0.7z"/>
<path class="u10" d="M176.3 287.1l0-0.8 1.3-1.6 5.3 0.7 0 0.8-1.3 1.6z"/>
<path class="v10" d="M177.6 284.7l5.3 0.7-1.3 1.6-5.3-0.7z"/>
<path class="s4" d="M123 287.8l1.7-1.5-0.1-3.4-1.6 1.6z"/>
<path class="f4" d="M118 287.1l5 0.7 0-3.3-5.1-0.7z"/>
<path class="t4" d="M119.6 282.3l5 0.6-1.6 1.6-5.1-0.7z"/>
<path class="u7" d="M146.6 286.7l1.5-1.6 5.2 0.7 0 0.8-1.5 1.6-5.2-0.7z"/>
<path class="v7" d="M148.1 285.1l5.2 0.7-1.5 1.6-5.2-0.7z"/>
<path class="s2" d="M102.8 288.6l1.8-1.5-0.3-11.4-1.7 1.5z"/>
<path class="f2" d="M97.9 287.9l4.9 0.7-0.2-11.4-5-0.7z"/>
<path class="t2" d="M99.4 275l4.9 0.7-1.7 1.5-5-0.7z"/>
<path class="s0" d="M82.6 289.4l1.9-1.5-1-34.5-1.9 1.4z"/>
<path class="f0" d="M77.7 288.7l4.9 0.7-1-34.6-5-0.6z"/>
<path class="t0" d="M78.6 252.8l4.9 0.6-1.9 1.4-5-0.6z"/>
<path class="u5" d="M126.4 287.5l1.6-1.6 5.1 0.7 0 0.8-1.6 1.6-5.1-0.7z"/>
<path class="v5" d="M128 285.9l5.1 0.7-1.6 1.6-5.1-0.7z"/>
<path class="u8" d="M155.2 287.9l1.5-1.6 5.2 0.7 0 0.8-1.4 1.6-5.3-0.7z"/>
<path class="v8" d="M156.7 286.3l5.2 0.7-1.4 1.6-5.2-0.7z"/>
<path class="s3" d="M111.2 289.8l1.7-1.6-0.1-5.3-1.7 1.5z"/>
<path class="f3" d="M106.2 289.1l5 0.7-0.1-5.4-5.1-0.7z"/>
<path class="t3" d="M107.8 282.2l5 0.7-1.7 1.5-5.1-0.7z"/>
<path class="s1" d="M90.9 290.6l1.8-1.6-0.5-18.9-1.8 1.5z"/>
<path class="f1" d="M85.9 289.9l5 0.7-0.5-19-5-0.7z"/>
<path class="t1" d="M87.3 269.5l4.9 0.6-1.8 1.5-5-0.7z"/>
<path class="u6" d="M134.9 288.7l1.6-1.6 5.1 0.7 0 0.8-1.5 1.6-5.2-0.7z"/>
<path class="v6" d="M136.5 287.1l5.1 0.7-1.5 1.6-5.2-0.7z"/>
<path class="u9" d="M164 289.1l1.4-1.6 5.3 0.7 0 0.8-1.4 1.6-5.3-0.7z"/>
<path class="v9" d="M165.4 287.5l5.3 0.7-1.4 1.6-5.3-0.7z"/>
<path class="s4" d="M119.7 291l1.6-1.6 0-2.7-1.7 1.6z"/>
<path class="f4" d="M114.6 290.3l5.1 0.7-0.1-2.7-5.1-0.7z"/>
<path class="t4" d="M116.2 286l5.1 0.7-1.7 1.6-5.1-0.7z"/>
<path class="s2" d="M99.2 291.8l1.8-1.6-0.2-10.1-1.8 1.5z"/>
<path class="f2" d="M94.2 291.1l5 0.7-0.2-10.2-5.1-0.7z"/>
<path class="t2" d="M95.8 279.4l5 0.7-1.8 1.5-5.1-0.7z"/>
<path class="u7" d="M143.5 289.9l1.6-1.6 5.2 0.7 0 0.8-1.6 1.6-5.2-0.7z"/>
<path class="v7" d="M145.1 288.3l5.2 0.7-1.6 1.6-5.2-0.7z"/>
<path class="u10" d="M172.8 290.3l1.4-1.6 5.3 0.7 0 0.8-1.3 1.6-5.4-0.7z"/>
<path class="v10" d="M174.2 288.7l5.3 0.7-1.3 1.6-5.4-0.7z"/>
<path class="s0" d="M78.8 292.6l1.9-1.6-1.2-39-1.9 1.4z"/>
<path class="f0" d="M73.9 291.9l4.9 0.7-1.2-39.2-5.1-0.6z"/>
<path class="t0" d="M74.5 251.4l5 0.6-1.9 1.4-5.1-0.6z"/>
<path class="u5" d="M123 290.7l1.7-1.6 5.1 0.7 0.1 0.8-1.7 1.6-5.1-0.7z"/>
<path class="v5" d="M124.7 289.1l5.1 0.7-1.6 1.6-5.2-0.7z"/>
<path class="u8" d="M152.2 291.1l1.6-1.6 5.2 0.7 0 0.8-1.5 1.6-5.3-0.7z"/>
<path class="v8" d="M153.8 289.5l5.2 0.7-1.5 1.6-5.3-0.7z"/>
<path class="s3" d="M107.7 293l1.7-1.6-0.1-4.7-1.7 1.6z"/>
<path class="f3" d="M102.6 292.3l5.1 0.7-0.1-4.7-5.1-0.8z"/>
<path class="t3" d="M104.3 286l5 0.7-1.7 1.6-5.1-0.8z"/>
<path class="s1" d="M87.1 293.9l1.9-1.7-0.5-17.7-1.9 1.5z"/>
<path class="f1" d="M82.1 293.1l5 0.8-0.5-17.9-5-0.7z"/>
<path class="t1" d="M83.5 273.8l5 0.7-1.9 1.5-5-0.7z"/>
<path class="u6" d="M131.7 291.9l1.7-1.6 5.2 0.7 0 0.8-1.6 1.6-5.2-0.7z"/>
<path class="v6" d="M133.3 290.3l5.2 0.7-1.6 1.6-5.3-0.7z"/>
<path class="u9" d="M161.1 292.3l1.5-1.6 5.3 0.7 0 0.8-1.4 1.7-5.3-0.8z"/>
<path class="v9" d="M162.5 290.7l5.3 0.7-1.4 1.6-5.3-0.7z"/>
<path class="s4" d="M116.2 294.3l1.7-1.7 0-2-1.7 1.6z"/>
<path class="f4" d="M111.1 293.5l5.1 0.8 0-2.1-5.2-0.7z"/>
<path class="t4" d="M112.8 289.9l5.1 0.7-1.7 1.6-5.2-0.7z"/>
<path class="s2" d="M95.5 295.1l1.9-1.7-0.2-8.9-1.9 1.6z"/>
<path class="f2" d="M90.5 294.3l5 0.8-0.2-9-5.1-0.7z"/>
<path class="t2" d="M92.1 283.8l5.1 0.7-1.9 1.6-5.1-0.7z"/>
<path class="u7" d="M140.3 293.1l1.6-1.6 5.3 0.7 0 0.8-1.6 1.7-5.2-0.7z"/>
<path class="v7" d="M141.9 291.5l5.3 0.7-1.6 1.7-5.3-0.8z"/>
<path class="s0" d="M74.9 295.9l1.9-1.6-1.3-43-2.1 1.4z"/>
<path class="f0" d="M69.9 295.2l5 0.7-1.5-43.2-5-0.6z"/>
<path class="t0" d="M70.4 250.7l5.1 0.6-2.1 1.4-5-0.6z"/>
<path class="u10" d="M170 293.5l1.4-1.6 5.4 0.7 0 0.9-1.4 1.6-5.4-0.7z"/>
<path class="v10" d="M171.4 291.9l5.4 0.7-1.4 1.7-5.4-0.8z"/>
<path class="u5" d="M119.6 293.9l1.8-1.6 5.1 0.7 0 0.9-1.7 1.6-5.2-0.7z"/>
<path class="v5" d="M121.3 292.3l5.2 0.7-1.7 1.7-5.2-0.8z"/>
<path class="u8" d="M149.2 294.4l1.5-1.7 5.3 0.7 0 0.9-1.5 1.7-5.3-0.8z"/>
<path class="v8" d="M150.7 292.7l5.3 0.8-1.5 1.6-5.4-0.7z"/>
<path class="s3" d="M104.1 296.3l1.8-1.6-0.1-4.1-1.8 1.6z"/>
<path class="f3" d="M98.9 295.6l5.2 0.7-0.1-4.1-5.2-0.7z"/>
<path class="t3" d="M100.7 289.8l5.1 0.8-1.8 1.6-5.2-0.7z"/>
<path class="s1" d="M83.3 297.2l1.9-1.7-0.5-16.6-1.9 1.6z"/>
<path class="f1" d="M78.2 296.4l5.1 0.8-0.5-16.7-5.1-0.7z"/>
<path class="t1" d="M79.7 278.2l5 0.7-1.9 1.6-5.1-0.7z"/>
<path class="u6" d="M128.3 295.2l1.7-1.7 5.2 0.8 0 0.8-1.6 1.7-5.3-0.8z"/>
<path class="v6" d="M130 293.5l5.2 0.8-1.6 1.6-5.3-0.7z"/>
<path class="u9" d="M158.1 295.6l1.6-1.6 5.3 0.7 0 0.8-1.5 1.7-5.3-0.8z"/>
<path class="v9" d="M159.6 293.9l5.3 0.8-1.5 1.7-5.3-0.8z"/>
<path class="s4" d="M112.7 297.6l1.7-1.7 0-2-1.8 1.6z"/>
<path class="f4" d="M107.5 296.8l5.2 0.8-0.1-2.1-5.2-0.7z"/>
<path class="t4" d="M109.2 293.1l5.2 0.8-1.8 1.6-5.2-0.7z"/>
<path class="s2" d="M91.8 298.4l1.9-1.6-0.3-8.4-1.9 1.7z"/>
<path class="f2" d="M86.7 297.7l5.1 0.7-0.3-8.3-5.1-0.8z"/>
<path class="t2" d="M88.3 287.7l5.1 0.7-1.9 1.7-5.1-0.8z"/>
<path class="s0" d="M70.8 299.3l2.1-1.7-1.5-44.9-2.1 1.5z"/>
<path class="f0" d="M65.8 298.5l5 0.8-1.5-45.1-5.1-0.6z"/>
<path class="t0" d="M66.3 252.1l5.1 0.6-2.1 1.5-5.1-0.6z"/>
<path class="u7" d="M137.1 296.4l1.6-1.6 5.3 0.7 0 0.9-1.6 1.6-5.3-0.7z"/>
<path class="v7" d="M138.7 294.8l5.3 0.7-1.6 1.7-5.3-0.8z"/>
<path class="u10" d="M167.1 296.9l1.4-1.7 5.5 0.8 0 0.8-1.5 1.7-5.4-0.8z"/>
<path class="v10" d="M168.5 295.2l5.5 0.8-1.5 1.7-5.4-0.8z"/>
<path class="u5" d="M116.1 297.3l1.8-1.7 5.2 0.8 0 0.8-1.7 1.7-5.2-0.8z"/>
<path class="v5" d="M117.9 295.6l5.2 0.8-1.7 1.6-5.3-0.7z"/>
<path class="s3" d="M100.4 299.7l1.8-1.7-0.1-4.2-1.8 1.7z"/>
<path class="f3" d="M95.2 298.9l5.2 0.8-0.1-4.2-5.2-0.7z"/>
<path class="t3" d="M97 293.1l5.1 0.7-1.8 1.7-5.2-0.7z"/>
<path class="u8" d="M146 297.7l1.6-1.7 5.3 0.8 0 0.8-1.5 1.7-5.4-0.7z"/>
<path class="v8" d="M147.6 296l5.3 0.8-1.5 1.7-5.4-0.8z"/>
<path class="s1" d="M79.3 300.5l2-1.7-0.5-16.7-2 1.6z"/>
<path class="f1" d="M74.2 299.8l5.1 0.7-0.5-16.8-5.1-0.7z"/>
<path class="t1" d="M75.7 281.4l5.1 0.7-2 1.6-5.1-0.7z"/>
<path class="u6" d="M124.9 298.6l1.7-1.7 5.3 0.7 0 0.9-1.7 1.7-5.3-0.8z"/>
<path class="v6" d="M126.6 296.9l5.3 0.7-1.7 1.7-5.3-0.7z"/>
<path class="u9" d="M155 299l1.5-1.7 5.5 0.8 0 0.8-1.6 1.7-5.4-0.7z"/>
<path class="v9" d="M156.5 297.3l5.4 0.8-1.5 1.7-5.4-0.8z"/>
<path class="s4" d="M109.1 301l1.8-1.7-0.1-2.1-1.8 1.7z"/>
<path class="f4" d="M103.8 300.2l5.3 0.8-0.1-2.1-5.2-0.8z"/>
<path class="t4" d="M105.6 296.4l5.2 0.8-1.8 1.7-5.2-0.8z"/>
<path class="s2" d="M87.9 301.9l1.9-1.8-0.2-7.7-1.9 1.7z"/>
<path class="f2" d="M82.7 301.1l5.2 0.8-0.2-7.8-5.2-0.7z"/>
<path class="t2" d="M84.5 291.7l5.1 0.7-1.9 1.7-5.2-0.7z"/>
<path class="s0" d="M66.7 302.7l2.1-1.7-1.7-46.8-2.1 1.5z"/>
<path class="f0" d="M61.6 301.9l5.1 0.8-1.7-47-5.1-0.7z"/>
<path class="t0" d="M62 253.6l5.1 0.6-2.1 1.5-5.1-0.7z"/>
<path class="u7" d="M133.8 299.9l1.6-1.7 5.4 0.8 0 0.9-1.6 1.7-5.4-0.8z"/>
<path class="v7" d="M135.4 298.1l5.4 0.8-1.7 1.7-5.3-0.7z"/>
<path class="u10" d="M164.1 300.3l1.5-1.7 5.5 0.8 0 0.8-1.5 1.8-5.5-0.8z"/>
<path class="v10" d="M165.6 298.6l5.5 0.8-1.5 1.7-5.5-0.8z"/>
<path class="u5" d="M112.5 300.7l1.8-1.7 5.2 0.8 0 0.8-1.7 1.7-5.3-0.8z"/>
<path class="v5" d="M114.4 299l5.2 0.8-1.8 1.7-5.3-0.8z"/>
<path class="s3" d="M96.6 303.2l1.9-1.8-0.1-3.5-1.9 1.7z"/>
<path class="f3" d="M91.3 302.4l5.3 0.8-0.1-3.6-5.2-0.7z"/>
<path class="t3" d="M93.2 297.2l5.2 0.7-1.9 1.7-5.2-0.7z"/>
<path class="u8" d="M142.7 301.2l1.7-1.8 5.4 0.8 0 0.9-1.6 1.7-5.4-0.8z"/>
<path class="v8" d="M144.4 299.4l5.4 0.8-1.6 1.8-5.5-0.8z"/>
<path class="s1" d="M75.3 304l2-1.7-0.5-17-2.1 1.7z"/>
<path class="f1" d="M70.1 303.2l5.2 0.8-0.6-17-5.2-0.7z"/>
<path class="t1" d="M71.6 284.6l5.2 0.7-2.1 1.7-5.2-0.7z"/>
<path class="u6" d="M121.4 302l1.8-1.7 5.3 0.8 0 0.8-1.7 1.8-5.4-0.8z"/>
<path class="v6" d="M123.2 300.3l5.3 0.8-1.7 1.7-5.4-0.8z"/>
<path class="u9" d="M151.8 302.5l1.6-1.8 5.5 0.8 0 0.9-1.6 1.8-5.5-0.8z"/>
<path class="v9" d="M153.4 300.7l5.5 0.8-1.6 1.8-5.5-0.8z"/>
<path class="s4" d="M105.4 304.5l1.8-1.7 0-2.2-1.9 1.8z"/>
<path class="f4" d="M100.1 303.7l5.3 0.8-0.1-2.1-5.3-0.8z"/>
<path class="t4" d="M101.9 299.8l5.3 0.8-1.9 1.8-5.3-0.8z"/>
<path class="s2" d="M83.9 305.4l2-1.8-0.2-7.1-2 1.7z"/>
<path class="f2" d="M78.7 304.6l5.2 0.8-0.2-7.2-5.2-0.7z"/>
<path class="t2" d="M80.5 295.8l5.2 0.7-2 1.7-5.2-0.7z"/>
<path class="s0" d="M62.5 306.2l2.1-1.8-1.7-48-2.2 1.5z"/>
<path class="f0" d="M57.4 305.4l5.1 0.8-1.8-48.3-5.2-0.6z"/>
<path class="t0" d="M57.7 255.8l5.2 0.6-2.2 1.5-5.2-0.6z"/>
<path class="u7" d="M130.4 303.3l1.7-1.7 5.4 0.8 0 0.8-1.7 1.8-5.4-0.8z"/>
<path class="v7" d="M132.1 301.6l5.4 0.8-1.7 1.8-5.4-0.9z"/>
<path class="u10" d="M161 303.8l1.6-1.7 5.5 0.8 0 0.8-1.5 1.8-5.6-0.8z"/>
<path class="v10" d="M162.6 302.1l5.5 0.8-1.5 1.7-5.6-0.8z"/>
<path class="u5" d="M108.9 304.2l1.8-1.8 5.3 0.8 0.1 0.9-1.9 1.8-5.3-0.9z"/>
<path class="v5" d="M110.7 302.4l5.3 0.8-1.8 1.8-5.3-0.8z"/>
<path class="s3" d="M92.7 306.7l1.9-1.8-0.1-3.5-1.9 1.7z"/>
<path class="f3" d="M87.4 305.9l5.3 0.8-0.1-3.6-5.3-0.8z"/>
<path class="t3" d="M89.3 300.6l5.2 0.8-1.9 1.7-5.3-0.8z"/>
<path class="s1" d="M71.1 307.6l2.1-1.8-0.6-17.9-2.1 1.7z"/>
<path class="f1" d="M65.9 306.8l5.2 0.8-0.6-18-5.2-0.7z"/>
<path class="t1" d="M67.4 287.2l5.2 0.7-2.1 1.7-5.2-0.7z"/>
<path class="u8" d="M139.4 304.7l1.7-1.8 5.5 0.8 0 0.9-1.7 1.8-5.5-0.8z"/>
<path class="v8" d="M141.1 302.9l5.5 0.8-1.7 1.8-5.5-0.8z"/>
<path class="u6" d="M117.8 305.6l1.8-1.8 5.4 0.8 0 0.8-1.8 1.8-5.4-0.8z"/>
<path class="v6" d="M119.6 303.8l5.4 0.8-1.8 1.8-5.4-0.8z"/>
<path class="u9" d="M148.6 306.1l1.6-1.8 5.6 0.8 0 0.8-1.6 1.9-5.6-0.9z"/>
<path class="v9" d="M150.2 304.3l5.6 0.8-1.6 1.8-5.6-0.8z"/>
<path class="s4" d="M101.6 308.1l1.9-1.8-0.1-2.2-1.9 1.8z"/>
<path class="f4" d="M96.2 307.3l5.4 0.8-0.1-2.2-5.3-0.8z"/>
<path class="t4" d="M98.1 303.3l5.3 0.8-1.9 1.8-5.3-0.8z"/>
<path class="s2" d="M79.9 309l2-1.9-0.2-7.1-2.1 1.8z"/>
<path class="f2" d="M74.6 308.1l5.3 0.9-0.3-7.2-5.2-0.8z"/>
<path class="t2" d="M76.4 299.2l5.3 0.8-2.1 1.8-5.2-0.8z"/>
<path class="s0" d="M58.2 309.8l2.1-1.8-1.8-49.3-2.3 1.5z"/>
<path class="f0" d="M53 309l5.2 0.8-2-49.6-5.2-0.6z"/>
<path class="t0" d="M53.2 258l5.3 0.7-2.3 1.5-5.2-0.6z"/>
<path class="u7" d="M126.9 306.9l1.7-1.8 5.5 0.8 0 0.9-1.7 1.8-5.5-0.8z"/>
<path class="v7" d="M128.6 305.1l5.5 0.8-1.8 1.9-5.4-0.9z"/>
<path class="u10" d="M157.9 307.4l1.6-1.8 5.6 0.8 0 0.9-1.6 1.9-5.6-0.9z"/>
<path class="v10" d="M159.5 305.6l5.6 0.9-1.6 1.8-5.6-0.9z"/>
<path class="u5" d="M105.1 307.8l1.9-1.8 5.4 0.8 0 0.9-1.9 1.8-5.4-0.9z"/>
<path class="v5" d="M107 306l5.4 0.8-1.9 1.8-5.4-0.8z"/>
<path class="s3" d="M88.7 310.4l2-1.9-0.1-3.6-2 1.8z"/>
<path class="f3" d="M83.4 309.5l5.3 0.9-0.1-3.7-5.3-0.8z"/>
<path class="t3" d="M85.3 304.1l5.3 0.8-2 1.8-5.3-0.8z"/>
<path class="s1" d="M66.9 311.2l2.1-1.8-0.6-18.1-2.2 1.8z"/>
<path class="f1" d="M61.6 310.4l5.3 0.8-0.7-18.1-5.2-0.8z"/>
<path class="t1" d="M63.1 290.6l5.3 0.7-2.2 1.8-5.2-0.8z"/>
<path class="u8" d="M136 308.3l1.7-1.8 5.5 0.8 0.1 0.9-1.7 1.8-5.6-0.8z"/>
<path class="v8" d="M137.7 306.5l5.6 0.8-1.7 1.9-5.6-0.9z"/>
<path class="u6" d="M114.1 309.2l1.9-1.8 5.4 0.8 0 0.8-1.8 1.9-5.4-0.9z"/>
<path class="v6" d="M116 307.4l5.4 0.8-1.8 1.8-5.5-0.8z"/>
<path class="s4" d="M97.7 311.8l1.9-1.9 0-2.1-2 1.8z"/>
<path class="f4" d="M92.3 310.9l5.4 0.9-0.1-2.2-5.4-0.9z"/>
<path class="t4" d="M94.2 306.9l5.4 0.9-2 1.8-5.4-0.9z"/>
<path class="u9" d="M145.3 309.7l1.7-1.8 5.6 0.8 0 0.9-1.7 1.8-5.6-0.8z"/>
<path class="v9" d="M147 307.9l5.5 0.8-1.6 1.9-5.6-0.9z"/>
<path class="s2" d="M75.7 312.6l2.1-1.8-0.2-7.2-2.1 1.8z"/>
<path class="f2" d="M70.4 311.8l5.3 0.8-0.2-7.2-5.4-0.9z"/>
<path class="t2" d="M72.3 302.7l5.3 0.9-2.1 1.8-5.4-0.9z"/>
<path class="u7" d="M123.3 310.6l1.8-1.9 5.5 0.9 0 0.9-1.8 1.8-5.5-0.8z"/>
<path class="v7" d="M125.1 308.7l5.5 0.9-1.8 1.8-5.5-0.8z"/>
<path class="u10" d="M154.7 311.1l1.6-1.8 5.7 0.8 0 0.9-1.6 1.9-5.7-0.9z"/>
<path class="v10" d="M156.3 309.3l5.7 0.8-1.6 1.9-5.7-0.9z"/>
<path class="u5" d="M101.3 311.5l1.9-1.9 5.4 0.9 0 0.8-1.9 1.9-5.4-0.9z"/>
<path class="v5" d="M103.2 309.6l5.4 0.9-1.9 1.8-5.4-0.8z"/>
<path class="s3" d="M84.6 314.1l2.1-1.9-0.1-3.6-2.1 1.8z"/>
<path class="f3" d="M79.3 313.2l5.3 0.9-0.1-3.7-5.4-0.8z"/>
<path class="t3" d="M81.2 307.7l5.4 0.9-2.1 1.8-5.4-0.8z"/>
<path class="u8" d="M132.5 312l1.8-1.8 5.6 0.8 0 0.9-1.7 1.9-5.7-0.9z"/>
<path class="v8" d="M134.3 310.2l5.6 0.8-1.8 1.9-5.6-0.9z"/>
<path class="u6" d="M110.4 312.9l1.9-1.9 5.5 0.9 0 0.9-1.9 1.8-5.5-0.8z"/>
<path class="v6" d="M112.3 311l5.5 0.9-1.9 1.9-5.5-0.9z"/>
<path class="s4" d="M93.7 315.5l2-1.9-0.1-2.2-2 1.9z"/>
<path class="f4" d="M88.2 314.7l5.5 0.8-0.1-2.2-5.4-0.8z"/>
<path class="t4" d="M90.2 310.6l5.4 0.8-2 1.9-5.4-0.8z"/>
<path class="u9" d="M141.9 313.5l1.7-1.9 5.7 0.8 0 0.9-1.7 1.9-5.7-0.8z"/>
<path class="v9" d="M143.6 311.6l5.7 0.8-1.7 1.9-5.7-0.8z"/>
<path class="u7" d="M119.6 314.4l1.8-1.9 5.6 0.8 0 0.9-1.8 1.9-5.6-0.9z"/>
<path class="v7" d="M121.5 312.5l5.5 0.8-1.8 1.9-5.6-0.9z"/>
<path class="u10" d="M151.4 314.9l1.6-1.9 5.8 0.9 0 0.9-1.7 1.9-5.7-0.9z"/>
<path class="v10" d="M153 313l5.8 0.9-1.7 1.9-5.7-0.9z"/>
<path class="u5" d="M97.3 315.2l2-1.9 5.5 0.9 0 0.9-2 1.9-5.5-0.9z"/>
<path class="v5" d="M99.3 313.3l5.5 0.9-2 1.9-5.5-0.9z"/>
<path class="u8" d="M128.9 315.8l1.8-1.9 5.6 0.9 0 0.9-1.8 1.9-5.6-0.9z"/>
<path class="v8" d="M130.8 313.9l5.6 0.9-1.8 1.9-5.6-0.9z"/>
<path class="u6" d="M106.5 316.7l1.9-1.9 5.6 0.9 0 0.9-1.9 1.9-5.6-0.9z"/>
<path class="v6" d="M108.5 314.8l5.5 0.9-1.9 1.9-5.6-0.9z"/>
<path class="u9" d="M138.4 317.3l1.8-1.9 5.7 0.9 0 0.9-1.7 1.9-5.8-0.9z"/>
<path class="v9" d="M140.2 315.4l5.7 0.9-1.7 1.9-5.8-0.9z"/>
<path class="u7" d="M115.8 318.2l1.9-1.9 5.7 0.9 0 0.8-1.9 2-5.7-0.9z"/>
<path class="v7" d="M117.7 316.3l5.7 0.9-1.9 1.9-5.7-0.9z"/>
<path class="u10" d="M148 318.8l1.7-1.9 5.8 0.9 0 0.9-1.7 1.9-5.8-0.9z"/>
<path class="v10" d="M149.7 316.9l5.8 0.9-1.7 1.9-5.8-0.9z"/>
<path class="u8" d="M125.3 319.7l1.8-1.9 5.7 0.9 0 0.9-1.8 1.9-5.7-0.9z"/>
<path class="v8" d="M127.1 317.8l5.7 0.9-1.8 1.9-5.7-0.9z"/>
<path class="u9" d="M134.8 321.3l1.8-2 5.8 0.9 0 0.9-1.7 2-5.8-0.9z"/>
<path class="v9" d="M136.6 319.3l5.8 0.9-1.8 2-5.8-0.9z"/>
<path class="u10" d="M144.5 322.8l1.8-2 5.8 0.9 0 0.9-1.7 2.1-5.8-1z"/>
<path class="v10" d="M146.3 320.8l5.8 0.9-1.7 2.1-5.9-1z"/>
<g font-family="Liberation Serif" fill="#111" stroke="#111" stroke-width="0.15">
<text transform="matrix(1.5507,0.2614,-0.8135,0.6784,48.00,318.80)" font-size="13" text-anchor="middle" dominant-baseline="central">0</text>
<text transform="matrix(1.6516,0.2783,-0.7351,0.7173,93.10,326.30)" font-size="13" text-anchor="middle" dominant-baseline="central">5</text>
<text transform="matrix(1.7525,0.2956,-0.6556,0.7571,135.90,333.80)" font-size="13" text-anchor="middle" dominant-baseline="central">10</text>
<text transform="matrix(1.7211,0.3077,-0.7817,0.7839,87.80,340.20)" font-size="13" font-style="italic" text-anchor="middle" dominant-baseline="central">n</text>
<text transform="matrix(0.4392,-0.5669,1.5829,0.2121,198.40,290.50)" font-size="13" text-anchor="middle" dominant-baseline="central">0</text>
<text transform="matrix(0.4992,-0.6450,1.6733,0.2461,184.50,308.80)" font-size="13" text-anchor="middle" dominant-baseline="central">5</text>
<text transform="matrix(0.5572,-0.7212,1.7549,0.2796,171.90,325.60)" font-size="13" text-anchor="middle" dominant-baseline="central">10</text>
<text transform="matrix(0.4546,-0.6738,1.7416,0.2586,209.60,314.70)" font-size="13" font-style="italic" text-anchor="middle" dominant-baseline="central">t</text>
</g>
<line x1="91.8" y1="368.5" x2="185.1" y2="376.7" stroke="#888" stroke-width="0.75" stroke-dasharray="3,2.5"/>
<line x1="92.7" y1="401.5" x2="184.9" y2="411.7" stroke="#888" stroke-width="0.75" stroke-dasharray="3,2.5"/>
<line x1="97.4" y1="434.3" x2="95.8" y2="368.9" stroke="#bbb" stroke-width="0.6" stroke-dasharray="4,2"/>
<line x1="180.4" y1="445.3" x2="180.6" y2="376.3" stroke="#bbb" stroke-width="0.6" stroke-dasharray="4,2"/>
<line x1="91.8" y1="368.5" x2="47.0" y2="395.6" stroke="#ccc" stroke-width="0.6"/>
<line x1="92.7" y1="401.5" x2="48.6" y2="432.8" stroke="#ccc" stroke-width="0.6"/>
<line x1="73.2" y1="450.3" x2="70.9" y2="381.2" stroke="#999" stroke-width="0.6" stroke-dasharray="4,2"/>
<line x1="50.1" y1="469.1" x2="47.0" y2="395.6" stroke="#666" stroke-width="0.7" stroke-dasharray="3,2"/>
<line x1="93.5" y1="433.8" x2="91.8" y2="368.5" stroke="#666" stroke-width="0.7" stroke-dasharray="3,2"/>
<line x1="184.8" y1="445.9" x2="185.1" y2="376.7" stroke="#bbb" stroke-width="0.6"/>
<line x1="184.8" y1="445.9" x2="185.1" y2="376.7" stroke="#333" stroke-width="1.0"/>
<path d="M184.8 445.9h3.0M184.8 439.1h1.6M184.8 432.3h1.6M184.9 425.5h1.6M184.9 418.6h1.6M184.9 411.7h3.0M185.0 404.8h1.6M185.0 397.8h1.6M185.0 390.8h1.6M185.1 383.8h1.6M185.1 376.7h3.0M185.1 376.7h-2.5" stroke="#333" stroke-width="0.7" fill="none"/>
<line x1="50.1" y1="469.1" x2="151.6" y2="485.5" stroke="#444" stroke-width="0.8"/>
<line x1="151.6" y1="485.5" x2="184.8" y2="445.9" stroke="#444" stroke-width="0.8"/>
<path d="M54.4 469.8L51.7 472.0M183.5 447.5L188.8 448.2M63.1 471.2L61.6 472.5M180.8 450.7L183.9 451.1M71.9 472.6L70.4 473.9M178.0 454.0L181.2 454.4M80.9 474.1L79.4 475.4M175.2 457.3L178.4 457.8M89.9 475.5L88.5 476.9M172.3 460.8L175.5 461.3M99.1 477.0L96.6 479.4M169.3 464.3L174.9 465.2M108.3 478.5L107.0 479.9M166.3 468.0L169.6 468.5M117.7 480.0L116.4 481.4M163.2 471.7L166.5 472.2M127.3 481.6L125.9 483.0M160.0 475.5L163.3 476.0M136.9 483.1L135.6 484.6M156.7 479.4L160.1 480.0M146.7 484.7L144.5 487.2M153.3 483.5L159.2 484.4" stroke="#444" stroke-width="0.6" fill="none"/>
<path class="u0" d="M93.7 434.3l1.7-1.4 4.7 0.6 0 0.8-1.7 1.4-4.7-0.6z"/>
<path class="v0" d="M95.4 432.9l4.7 0.6-1.7 1.5-4.7-0.7z"/>
<path class="u1" d="M101.6 435.4l1.7-1.4 4.7 0.6 0 0.8-1.6 1.4-4.8-0.6z"/>
<path class="v1" d="M103.3 434l4.7 0.6-1.7 1.4-4.7-0.6z"/>
<path class="u2" d="M109.5 436.4l1.6-1.4 4.8 0.6 0 0.8-1.6 1.5-4.8-0.7z"/>
<path class="v2" d="M111.2 435l4.8 0.6-1.6 1.5-4.9-0.7z"/>
<path class="s0" d="M94 439.4l1.8-1.5-0.1-5.8-1.8 1.4z"/>
<path class="f0" d="M89.3 438.7l4.7 0.7-0.1-5.9-4.8-0.6z"/>
<path class="t0" d="M90.9 431.4l4.8 0.7-1.8 1.4-4.8-0.6z"/>
<path class="u3" d="M117.6 437.5l1.6-1.4 4.9 0.6 0 0.8-1.6 1.5-4.9-0.7z"/>
<path class="v3" d="M119.2 436.1l4.9 0.6-1.6 1.5-4.9-0.7z"/>
<path class="s1" d="M102.1 440.5l1.7-1.5-0.1-5.9-1.8 1.5z"/>
<path class="f1" d="M97.3 439.8l4.8 0.7-0.2-5.9-4.8-0.7z"/>
<path class="t1" d="M98.9 432.5l4.8 0.6-1.8 1.5-4.8-0.7z"/>
<path class="u4" d="M125.8 438.6l1.6-1.5 4.9 0.7 0 0.8-1.6 1.4-4.9-0.6z"/>
<path class="v4" d="M127.4 437.1l4.9 0.7-1.6 1.5-4.9-0.7z"/>
<path class="s5" d="M139 441.2l1.6-1.5-0.8-67.2-1.5 1.1z"/>
<path class="f5" d="M134 440.5l5 0.7-0.7-67.6-5.1-0.4z"/>
<path class="t5" d="M134.8 372l5 0.5-1.5 1.1-5.1-0.4z"/>
<path class="s2" d="M110.2 441.6l1.7-1.5-0.1-5.9-1.7 1.4z"/>
<path class="f2" d="M105.3 440.9l4.9 0.7-0.1-6-4.9-0.6z"/>
<path class="t2" d="M106.9 433.5l4.9 0.7-1.7 1.4-4.9-0.6z"/>
<path class="s0" d="M90.5 442.4l1.8-1.5-0.2-5.9-1.8 1.4z"/>
<path class="f0" d="M85.6 441.7l4.9 0.7-0.2-6-4.8-0.6z"/>
<path class="t0" d="M87.3 434.3l4.8 0.7-1.8 1.4-4.8-0.6z"/>
<path class="u6" d="M142.4 440.8l1.5-1.5 5 0.7 0 0.8-1.5 1.5-5-0.7z"/>
<path class="v6" d="M143.9 439.3l5 0.7-1.5 1.5-5-0.7z"/>
<path class="s3" d="M118.4 442.7l1.7-1.5-0.1-5.9-1.7 1.4z"/>
<path class="f3" d="M113.5 442l4.9 0.7-0.1-6-4.9-0.6z"/>
<path class="t3" d="M115 434.6l5 0.7-1.7 1.4-4.9-0.6z"/>
<path class="s1" d="M98.6 443.5l1.7-1.5-0.1-6-1.8 1.5z"/>
<path class="f1" d="M93.7 442.8l4.9 0.7-0.2-6-4.9-0.6z"/>
<path class="t1" d="M95.3 435.4l4.9 0.6-1.8 1.5-4.9-0.6z"/>
<path class="u7" d="M150.8 441.9l1.5-1.5 5.1 0.7 0 0.8-1.5 1.5-5.1-0.7z"/>
<path class="v7" d="M152.3 440.4l5.1 0.7-1.5 1.5-5.1-0.7z"/>
<path class="s4" d="M126.7 443.8l1.6-1.5-0.1-6-1.6 1.5z"/>
<path class="f4" d="M121.7 443.2l5 0.6-0.1-6-5-0.6z"/>
<path class="t4" d="M123.3 435.7l4.9 0.6-1.6 1.5-5-0.6z"/>
<path class="s2" d="M106.8 444.6l1.7-1.5-0.1-6-1.8 1.5z"/>
<path class="f2" d="M101.8 443.9l5 0.7-0.2-6-4.9-0.6z"/>
<path class="t2" d="M103.4 436.5l5 0.6-1.8 1.5-4.9-0.6z"/>
<path class="u8" d="M159.3 443.1l1.5-1.6 5.1 0.7 0 0.8-1.4 1.6-5.2-0.7z"/>
<path class="v8" d="M160.8 441.5l5.1 0.7-1.4 1.6-5.2-0.7z"/>
<path class="s0" d="M86.8 445.4l1.8-1.5-0.1-6-1.9 1.5z"/>
<path class="f0" d="M81.9 444.7l4.9 0.7-0.2-6-4.8-0.7z"/>
<path class="t0" d="M83.6 437.3l4.9 0.6-1.9 1.5-4.8-0.7z"/>
<path class="s5" d="M135.1 445l1.6-1.6-0.1-6-1.6 1.6z"/>
<path class="f5" d="M130.1 444.3l5 0.7-0.1-6-5-0.7z"/>
<path class="t5" d="M131.6 436.8l5 0.6-1.6 1.6-5-0.7z"/>
<path class="u9" d="M167.9 444.2l1.4-1.5 5.2 0.7 0 0.8-1.4 1.5-5.2-0.7z"/>
<path class="v9" d="M169.3 442.7l5.2 0.7-1.3 1.5-5.3-0.7z"/>
<path class="s3" d="M115 445.8l1.7-1.6-0.1-6-1.7 1.5z"/>
<path class="f3" d="M110.1 445.1l4.9 0.7-0.1-6.1-5-0.6z"/>
<path class="t3" d="M111.7 437.6l4.9 0.6-1.7 1.5-5-0.6z"/>
<path class="s1" d="M95 446.6l1.8-1.6-0.2-6-1.8 1.5z"/>
<path class="f1" d="M90.1 445.9l4.9 0.7-0.2-6.1-4.9-0.6z"/>
<path class="t1" d="M91.7 438.4l4.9 0.6-1.8 1.5-4.9-0.6z"/>
<path class="s6" d="M143.6 446.1l1.5-1.5 0-6-1.6 1.5z"/>
<path class="f6" d="M138.5 445.4l5.1 0.7-0.1-6-5.1-0.7z"/>
<path class="t6" d="M140 437.9l5.1 0.7-1.6 1.5-5.1-0.7z"/>
<path class="u10" d="M176.7 446.2l0-0.8 1.3-1.6 5.3 0.7 0 0.8-1.3 1.6z"/>
<path class="v10" d="M178 443.8l5.3 0.7-1.3 1.6-5.3-0.7z"/>
<path class="s4" d="M123.4 446.9l1.7-1.5-0.1-6.1-1.7 1.6z"/>
<path class="f4" d="M118.4 446.2l5 0.7-0.1-6-5-0.7z"/>
<path class="t4" d="M120 438.7l5 0.6-1.7 1.6-5-0.7z"/>
<path class="s7" d="M152.2 447.3l1.5-1.6 0-6-1.6 1.5z"/>
<path class="f7" d="M147 446.6l5.2 0.7-0.1-6.1-5.1-0.7z"/>
<path class="t7" d="M148.5 439l5.2 0.7-1.6 1.5-5.1-0.7z"/>
<path class="s2" d="M103.2 447.7l1.8-1.5-0.1-6.1-1.8 1.6z"/>
<path class="f2" d="M98.3 447l4.9 0.7-0.1-6-5-0.7z"/>
<path class="t2" d="M99.9 439.5l5 0.6-1.8 1.6-5-0.7z"/>
<path class="s0" d="M83 448.5l1.9-1.5-0.2-6.1-1.8 1.6z"/>
<path class="f0" d="M78.1 447.8l4.9 0.7-0.1-6-5-0.7z"/>
<path class="t0" d="M79.9 440.3l4.8 0.6-1.8 1.6-5-0.7z"/>
<path class="s5" d="M131.9 448.1l1.6-1.6-0.1-6-1.6 1.5z"/>
<path class="f5" d="M126.8 447.4l5.1 0.7-0.1-6.1-5.1-0.7z"/>
<path class="t5" d="M128.3 439.8l5.1 0.7-1.6 1.5-5.1-0.7z"/>
<path class="s8" d="M160.9 448.5l1.4-1.6 0-6.1-1.4 1.6z"/>
<path class="f8" d="M155.7 447.8l5.2 0.7 0-6.1-5.3-0.7z"/>
<path class="t8" d="M157.1 440.1l5.2 0.7-1.4 1.6-5.3-0.7z"/>
<path class="s3" d="M111.6 448.9l1.7-1.6-0.1-6-1.7 1.5z"/>
<path class="f3" d="M106.6 448.2l5 0.7-0.1-6.1-5.1-0.7z"/>
<path class="t3" d="M108.2 440.6l5 0.7-1.7 1.5-5.1-0.7z"/>
<path class="s1" d="M91.3 449.7l1.8-1.6-0.1-6-1.9 1.5z"/>
<path class="f1" d="M86.3 449l5 0.7-0.2-6.1-4.9-0.7z"/>
<path class="t1" d="M88 441.4l5 0.7-1.9 1.5-4.9-0.7z"/>
<path class="s6" d="M140.5 449.3l1.5-1.6 0-6.1-1.6 1.6z"/>
<path class="f6" d="M135.3 448.6l5.2 0.7-0.1-6.1-5.2-0.7z"/>
<path class="t6" d="M136.8 440.9l5.2 0.7-1.6 1.6-5.2-0.7z"/>
<path class="s9" d="M169.7 449.7l1.4-1.6 0-6.1-1.4 1.5z"/>
<path class="f9" d="M164.4 449l5.3 0.7 0-6.2-5.3-0.7z"/>
<path class="t9" d="M165.8 441.3l5.3 0.7-1.4 1.5-5.3-0.7z"/>
<path class="s4" d="M120.1 450.1l1.6-1.6-0.1-6.1-1.7 1.6z"/>
<path class="f4" d="M115 449.4l5.1 0.7-0.2-6.1-5.1-0.7z"/>
<path class="t4" d="M116.6 441.7l5 0.7-1.7 1.6-5.1-0.7z"/>
<path class="s2" d="M99.6 450.9l1.8-1.6-0.1-6.1-1.8 1.6z"/>
<path class="f2" d="M94.6 450.2l5 0.7-0.1-6.1-5-0.7z"/>
<path class="t2" d="M96.3 442.5l5 0.7-1.8 1.6-5-0.7z"/>
<path class="s7" d="M149.1 450.5l1.6-1.6-0.1-6.1-1.5 1.6z"/>
<path class="f7" d="M143.9 449.8l5.2 0.7 0-6.1-5.2-0.8z"/>
<path class="t7" d="M145.4 442.1l5.2 0.7-1.5 1.6-5.2-0.8z"/>
<path class="s10" d="M178.6 450.9l1.3-1.6 0.1-6.2-1.4 1.6z"/>
<path class="f10" d="M173.2 450.2l5.4 0.7 0-6.2-5.4-0.7z"/>
<path class="t10" d="M174.6 442.4l5.4 0.7-1.4 1.6-5.4-0.7z"/>
<path class="s0" d="M79.2 451.7l1.9-1.6-0.2-6.1-1.9 1.6z"/>
<path class="f0" d="M74.3 451l4.9 0.7-0.2-6.1-5-0.7z"/>
<path class="t0" d="M76 443.3l4.9 0.7-1.9 1.6-5-0.7z"/>
<path class="s5" d="M128.6 451.3l1.7-1.6-0.1-6.1-1.7 1.6z"/>
<path class="f5" d="M123.5 450.6l5.1 0.7-0.1-6.1-5.1-0.7z"/>
<path class="t5" d="M125 442.9l5.2 0.7-1.7 1.6-5.1-0.7z"/>
<path class="s8" d="M157.9 451.7l1.5-1.6 0-6.2-1.5 1.6z"/>
<path class="f8" d="M152.6 451l5.3 0.7 0-6.2-5.3-0.7z"/>
<path class="t8" d="M154.1 443.2l5.3 0.7-1.5 1.6-5.3-0.7z"/>
<path class="s3" d="M108.1 452.1l1.7-1.6-0.1-6.1-1.8 1.6z"/>
<path class="f3" d="M103 451.4l5.1 0.7-0.2-6.1-5.1-0.7z"/>
<path class="t3" d="M104.6 443.7l5.1 0.7-1.8 1.6-5.1-0.7z"/>
<path class="s1" d="M87.5 453l1.9-1.7-0.2-6.1-1.9 1.6z"/>
<path class="f1" d="M82.5 452.2l5 0.8-0.2-6.2-5-0.7z"/>
<path class="t1" d="M84.3 444.5l4.9 0.7-1.9 1.6-5-0.7z"/>
<path class="s6" d="M137.3 452.6l1.6-1.7-0.1-6.1-1.6 1.6z"/>
<path class="f6" d="M132.1 451.8l5.2 0.8-0.1-6.2-5.2-0.8z"/>
<path class="t6" d="M133.6 444.1l5.2 0.7-1.6 1.6-5.2-0.8z"/>
<path class="s9" d="M166.8 453l1.4-1.7 0-6.2-1.4 1.6z"/>
<path class="f9" d="M161.5 452.2l5.3 0.8 0-6.3-5.4-0.7z"/>
<path class="t9" d="M162.9 444.4l5.3 0.7-1.4 1.6-5.4-0.7z"/>
<path class="s4" d="M116.6 453.4l1.7-1.7-0.1-6.1-1.7 1.6z"/>
<path class="f4" d="M111.5 452.6l5.1 0.8-0.1-6.2-5.2-0.7z"/>
<path class="t4" d="M113.1 444.9l5.1 0.7-1.7 1.6-5.2-0.7z"/>
<path class="s2" d="M95.9 454.2l1.9-1.7-0.2-6.1-1.8 1.6z"/>
<path class="f2" d="M90.9 453.4l5 0.8-0.1-6.2-5.1-0.7z"/>
<path class="t2" d="M92.6 445.7l5 0.7-1.8 1.6-5.1-0.7z"/>
<path class="s0" d="M75.3 455l1.9-1.6-0.2-6.2-1.9 1.6z"/>
<path class="f0" d="M70.3 454.3l5 0.7-0.2-6.2-5-0.7z"/>
<path class="t0" d="M72.1 446.5l4.9 0.7-1.9 1.6-5-0.7z"/>
<path class="s7" d="M146 453.8l1.6-1.7-0.1-6.1-1.5 1.6z"/>
<path class="f7" d="M140.8 453l5.2 0.8 0-6.2-5.3-0.8z"/>
<path class="t7" d="M142.3 445.2l5.2 0.8-1.5 1.6-5.3-0.8z"/>
<path class="s10" d="M175.8 454.2l1.4-1.6 0-6.3-1.4 1.7z"/>
<path class="f10" d="M170.4 453.5l5.4 0.7 0-6.2-5.4-0.8z"/>
<path class="t10" d="M171.8 445.6l5.4 0.7-1.4 1.7-5.4-0.8z"/>
<path class="s5" d="M125.2 454.6l1.7-1.6-0.1-6.2-1.7 1.6z"/>
<path class="f5" d="M120 453.9l5.2 0.7-0.1-6.2-5.2-0.7z"/>
<path class="t5" d="M121.7 446.1l5.1 0.7-1.7 1.6-5.2-0.7z"/>
<path class="s8" d="M154.9 455l1.5-1.6 0-6.2-1.6 1.6z"/>
<path class="f8" d="M149.6 454.3l5.3 0.7-0.1-6.2-5.3-0.7z"/>
<path class="t8" d="M151.1 446.4l5.3 0.8-1.6 1.6-5.3-0.7z"/>
<path class="s3" d="M104.5 455.4l1.8-1.6-0.2-6.2-1.8 1.6z"/>
<path class="f3" d="M99.3 454.7l5.2 0.7-0.2-6.2-5.1-0.7z"/>
<path class="t3" d="M101 446.9l5.1 0.7-1.8 1.6-5.1-0.7z"/>
<path class="s1" d="M83.7 456.3l1.9-1.7-0.2-6.2-1.9 1.6z"/>
<path class="f1" d="M78.6 455.5l5.1 0.8-0.2-6.3-5.1-0.7z"/>
<path class="t1" d="M80.4 447.7l5 0.7-1.9 1.6-5.1-0.7z"/>
<path class="s6" d="M134 455.9l1.6-1.7 0-6.2-1.7 1.6z"/>
<path class="f6" d="M128.7 455.1l5.3 0.8-0.1-6.3-5.3-0.7z"/>
<path class="t6" d="M130.3 447.3l5.3 0.7-1.7 1.6-5.3-0.7z"/>
<path class="s9" d="M163.8 456.3l1.5-1.7 0-6.2-1.5 1.6z"/>
<path class="f9" d="M158.5 455.6l5.3 0.7 0-6.3-5.4-0.7z"/>
<path class="t9" d="M159.9 447.6l5.4 0.8-1.5 1.6-5.4-0.7z"/>
<path class="s4" d="M113.1 456.7l1.7-1.7-0.1-6.2-1.8 1.6z"/>
<path class="f4" d="M107.9 455.9l5.2 0.8-0.2-6.3-5.1-0.7z"/>
<path class="t4" d="M109.6 448.1l5.1 0.7-1.8 1.6-5.1-0.7z"/>
<path class="s2" d="M92.2 457.5l1.9-1.6-0.2-6.3-1.9 1.7z"/>
<path class="f2" d="M87.1 456.8l5.1 0.7-0.2-6.2-5.1-0.8z"/>
<path class="t2" d="M88.8 448.9l5.1 0.7-1.9 1.7-5.1-0.8z"/>
<path class="s0" d="M71.2 458.4l2.1-1.7-0.2-6.3-2.1 1.7z"/>
<path class="f0" d="M66.2 457.6l5 0.8-0.2-6.3-5-0.7z"/>
<path class="t0" d="M68 449.7l5.1 0.7-2.1 1.7-5-0.7z"/>
<path class="s7" d="M142.8 457.1l1.6-1.6 0-6.3-1.6 1.7z"/>
<path class="f7" d="M137.5 456.4l5.3 0.7 0-6.2-5.4-0.8z"/>
<path class="t7" d="M139.1 448.5l5.3 0.7-1.6 1.7-5.4-0.8z"/>
<path class="s10" d="M172.9 457.6l1.5-1.7 0-6.3-1.5 1.7z"/>
<path class="f10" d="M167.5 456.8l5.4 0.8 0-6.3-5.4-0.8z"/>
<path class="t10" d="M168.9 448.9l5.5 0.7-1.5 1.7-5.4-0.8z"/>
<path class="s5" d="M121.8 458l1.7-1.7-0.1-6.3-1.7 1.7z"/>
<path class="f5" d="M116.5 457.2l5.3 0.8-0.1-6.3-5.3-0.8z"/>
<path class="t5" d="M118.2 449.3l5.2 0.7-1.7 1.7-5.3-0.8z"/>
<path class="s3" d="M100.8 458.8l1.8-1.7-0.1-6.2-1.9 1.6z"/>
<path class="f3" d="M95.6 458l5.2 0.8-0.2-6.3-5.2-0.7z"/>
<path class="t3" d="M97.3 450.1l5.2 0.8-1.9 1.6-5.2-0.7z"/>
<path class="s8" d="M151.8 458.4l1.5-1.7 0-6.3-1.6 1.7z"/>
<path class="f8" d="M146.4 457.7l5.4 0.7-0.1-6.3-5.4-0.7z"/>
<path class="t8" d="M147.9 449.7l5.4 0.7-1.6 1.7-5.4-0.7z"/>
<path class="s1" d="M79.7 459.6l2-1.7-0.2-6.2-2 1.7z"/>
<path class="f1" d="M74.6 458.9l5.1 0.7-0.2-6.2-5.1-0.8z"/>
<path class="t1" d="M76.4 450.9l5.1 0.8-2 1.7-5.1-0.8z"/>
<path class="s6" d="M130.6 459.3l1.7-1.7-0.1-6.3-1.7 1.6z"/>
<path class="f6" d="M125.3 458.5l5.3 0.8-0.1-6.4-5.3-0.7z"/>
<path class="t6" d="M126.9 450.5l5.3 0.8-1.7 1.6-5.3-0.7z"/>
<path class="s9" d="M160.8 459.7l1.5-1.7 0-6.3-1.5 1.7z"/>
<path class="f9" d="M155.4 459l5.4 0.7 0-6.3-5.5-0.8z"/>
<path class="t9" d="M156.9 450.9l5.4 0.8-1.5 1.7-5.5-0.8z"/>
<path class="s4" d="M109.5 460.1l1.8-1.7-0.2-6.3-1.8 1.7z"/>
<path class="f4" d="M104.2 459.3l5.3 0.8-0.2-6.3-5.2-0.8z"/>
<path class="t4" d="M105.9 451.4l5.2 0.7-1.8 1.7-5.2-0.8z"/>
<path class="s2" d="M88.3 461l1.9-1.8-0.1-6.3-2 1.7z"/>
<path class="f2" d="M83.1 460.2l5.2 0.8-0.2-6.4-5.2-0.7z"/>
<path class="t2" d="M84.9 452.2l5.2 0.7-2 1.7-5.2-0.7z"/>
<path class="s0" d="M67.1 461.8l2.1-1.7-0.2-6.3-2.1 1.7z"/>
<path class="f0" d="M62 461l5.1 0.8-0.2-6.3-5.1-0.8z"/>
<path class="t0" d="M63.9 453l5.1 0.8-2.1 1.7-5.1-0.8z"/>
<path class="s7" d="M139.5 460.6l1.7-1.7-0.1-6.4-1.6 1.7z"/>
<path class="f7" d="M134.2 459.8l5.3 0.8 0-6.4-5.4-0.7z"/>
<path class="t7" d="M135.8 451.8l5.3 0.7-1.6 1.7-5.4-0.7z"/>
<path class="s10" d="M170 461.1l1.5-1.8 0-6.3-1.5 1.7z"/>
<path class="f10" d="M164.5 460.3l5.5 0.8 0-6.4-5.5-0.8z"/>
<path class="t10" d="M166 452.2l5.5 0.8-1.5 1.7-5.5-0.8z"/>
<path class="s5" d="M118.3 461.4l1.7-1.7-0.1-6.3-1.8 1.7z"/>
<path class="f5" d="M113 460.6l5.3 0.8-0.2-6.3-5.3-0.8z"/>
<path class="t5" d="M114.6 452.6l5.3 0.8-1.8 1.7-5.3-0.8z"/>
<path class="s3" d="M97 462.3l1.9-1.8-0.2-6.3-1.9 1.7z"/>
<path class="f3" d="M91.7 461.5l5.3 0.8-0.2-6.4-5.2-0.8z"/>
<path class="t3" d="M93.5 453.4l5.2 0.8-1.9 1.7-5.2-0.8z"/>
<path class="s8" d="M148.6 461.9l1.6-1.7-0.1-6.4-1.6 1.7z"/>
<path class="f8" d="M143.2 461.1l5.4 0.8-0.1-6.4-5.4-0.8z"/>
<path class="t8" d="M144.7 453l5.4 0.8-1.6 1.7-5.4-0.8z"/>
<path class="s1" d="M75.7 463.1l2-1.7-0.2-6.4-2 1.8z"/>
<path class="f1" d="M70.5 462.3l5.2 0.8-0.2-6.3-5.2-0.8z"/>
<path class="t1" d="M72.4 454.3l5.1 0.7-2 1.8-5.2-0.8z"/>
<path class="s6" d="M127.2 462.8l1.7-1.8-0.1-6.4-1.7 1.8z"/>
<path class="f6" d="M121.8 462l5.4 0.8-0.1-6.4-5.4-0.8z"/>
<path class="t6" d="M123.5 453.9l5.3 0.7-1.7 1.8-5.4-0.8z"/>
<path class="s9" d="M157.7 463.3l1.6-1.8 0-6.4-1.6 1.7z"/>
<path class="f9" d="M152.2 462.4l5.5 0.9 0-6.5-5.5-0.8z"/>
<path class="t9" d="M153.8 454.3l5.5 0.8-1.6 1.7-5.5-0.8z"/>
<path class="s4" d="M105.8 463.6l1.8-1.7-0.1-6.4-1.9 1.7z"/>
<path class="f4" d="M100.5 462.8l5.3 0.8-0.2-6.4-5.3-0.8z"/>
<path class="t4" d="M102.2 454.7l5.3 0.8-1.9 1.7-5.3-0.8z"/>
<path class="s2" d="M84.3 464.5l2-1.8-0.2-6.4-2 1.8z"/>
<path class="f2" d="M79.1 463.7l5.2 0.8-0.2-6.4-5.2-0.8z"/>
<path class="t2" d="M80.9 455.6l5.2 0.7-2 1.8-5.2-0.8z"/>
<path class="s0" d="M62.9 465.3l2.1-1.8-0.2-6.3-2.1 1.7z"/>
<path class="f0" d="M57.8 464.5l5.1 0.8-0.2-6.4-5.2-0.8z"/>
<path class="t0" d="M59.7 456.4l5.1 0.8-2.1 1.7-5.2-0.8z"/>
<path class="s7" d="M136.2 464.1l1.7-1.8-0.1-6.4-1.7 1.8z"/>
<path class="f7" d="M130.8 463.3l5.4 0.8-0.1-6.4-5.4-0.8z"/>
<path class="t7" d="M132.4 455.2l5.4 0.7-1.7 1.8-5.4-0.8z"/>
<path class="s10" d="M167 464.6l1.5-1.8 0-6.4-1.5 1.7z"/>
<path class="f10" d="M161.4 463.8l5.6 0.8 0-6.5-5.6-0.8z"/>
<path class="t10" d="M162.9 455.6l5.6 0.8-1.5 1.7-5.6-0.8z"/>
<path class="s5" d="M114.6 465l1.9-1.8-0.2-6.4-1.8 1.7z"/>
<path class="f5" d="M109.3 464.1l5.3 0.9-0.1-6.5-5.3-0.8z"/>
<path class="t5" d="M111 456l5.3 0.8-1.8 1.7-5.3-0.8z"/>
<path class="s3" d="M93.1 465.8l1.9-1.8-0.1-6.4-2 1.8z"/>
<path class="f3" d="M87.8 465l5.3 0.8-0.2-6.4-5.3-0.8z"/>
<path class="t3" d="M89.6 456.9l5.3 0.7-2 1.8-5.3-0.8z"/>
<path class="s1" d="M71.5 466.7l2.1-1.8-0.2-6.4-2.1 1.7z"/>
<path class="f1" d="M66.3 465.9l5.2 0.8-0.2-6.5-5.2-0.8z"/>
<path class="t1" d="M68.2 457.7l5.2 0.8-2.1 1.7-5.2-0.8z"/>
<path class="s8" d="M145.3 465.5l1.7-1.8-0.1-6.5-1.6 1.8z"/>
<path class="f8" d="M139.8 464.7l5.5 0.8 0-6.5-5.5-0.8z"/>
<path class="t8" d="M141.4 456.5l5.5 0.7-1.6 1.8-5.5-0.8z"/>
<path class="s6" d="M123.6 466.3l1.8-1.8-0.1-6.4-1.8 1.8z"/>
<path class="f6" d="M118.2 465.5l5.4 0.8-0.1-6.4-5.4-0.8z"/>
<path class="t6" d="M119.9 457.3l5.4 0.8-1.8 1.8-5.4-0.8z"/>
<path class="s9" d="M154.6 466.9l1.6-1.9-0.1-6.4-1.6 1.7z"/>
<path class="f9" d="M149 466l5.6 0.9-0.1-6.6-5.5-0.8z"/>
<path class="t9" d="M150.6 457.8l5.5 0.8-1.6 1.7-5.5-0.8z"/>
<path class="s4" d="M102 467.2l1.9-1.8-0.2-6.4-1.9 1.7z"/>
<path class="f4" d="M96.6 466.4l5.4 0.8-0.2-6.5-5.3-0.8z"/>
<path class="t4" d="M98.4 458.2l5.3 0.8-1.9 1.7-5.3-0.8z"/>
<path class="s0" d="M58.6 468.9l2.1-1.8-0.2-6.4-2.2 1.7z"/>
<path class="f0" d="M53.4 468.1l5.2 0.8-0.3-6.5-5.2-0.8z"/>
<path class="t0" d="M55.3 459.9l5.2 0.8-2.2 1.7-5.2-0.8z"/>
<path class="s2" d="M80.3 468.1l2-1.9-0.2-6.4-2 1.8z"/>
<path class="f2" d="M75 467.2l5.3 0.9-0.2-6.5-5.3-0.8z"/>
<path class="t2" d="M76.9 459l5.2 0.8-2 1.8-5.3-0.8z"/>
<path class="s7" d="M132.8 467.7l1.7-1.8-0.1-6.5-1.7 1.8z"/>
<path class="f7" d="M127.3 466.9l5.5 0.8-0.1-6.5-5.5-0.8z"/>
<path class="t7" d="M128.9 458.6l5.5 0.8-1.7 1.8-5.5-0.8z"/>
<path class="s10" d="M163.9 468.2l1.6-1.8 0-6.5-1.6 1.8z"/>
<path class="f10" d="M158.3 467.4l5.6 0.8 0-6.5-5.6-0.8z"/>
<path class="t10" d="M159.8 459.1l5.7 0.8-1.6 1.8-5.6-0.8z"/>
<path class="s5" d="M110.9 468.6l1.9-1.8-0.1-6.5-1.9 1.8z"/>
<path class="f5" d="M105.5 467.7l5.4 0.9-0.1-6.5-5.4-0.8z"/>
<path class="t5" d="M107.3 459.5l5.4 0.8-1.9 1.8-5.4-0.8z"/>
<path class="s3" d="M89.1 469.5l2-1.9-0.2-6.4-2 1.7z"/>
<path class="f3" d="M83.8 468.6l5.3 0.9-0.2-6.6-5.3-0.8z"/>
<path class="t3" d="M85.6 460.3l5.3 0.9-2 1.7-5.3-0.8z"/>
<path class="s1" d="M67.3 470.3l2.1-1.8-0.2-6.5-2.2 1.8z"/>
<path class="f1" d="M62 469.5l5.3 0.8-0.3-6.5-5.2-0.8z"/>
<path class="t1" d="M64 461.2l5.2 0.8-2.2 1.8-5.2-0.8z"/>
<path class="s8" d="M142 469.1l1.7-1.8-0.1-6.5-1.7 1.8z"/>
<path class="f8" d="M136.4 468.3l5.6 0.8-0.1-6.5-5.5-0.8z"/>
<path class="t8" d="M138.1 460l5.5 0.8-1.7 1.8-5.5-0.8z"/>
<path class="s6" d="M120 470l1.8-1.8-0.1-6.6-1.8 1.8z"/>
<path class="f6" d="M114.6 469.1l5.4 0.9-0.1-6.6-5.5-0.8z"/>
<path class="t6" d="M116.3 460.8l5.4 0.8-1.8 1.8-5.5-0.8z"/>
<path class="s4" d="M98.1 470.9l1.9-1.9-0.1-6.5-2 1.8z"/>
<path class="f4" d="M92.7 470l5.4 0.9-0.2-6.6-5.4-0.8z"/>
<path class="t4" d="M94.5 461.7l5.4 0.8-2 1.8-5.4-0.8z"/>
<path class="s9" d="M151.3 470.5l1.7-1.8-0.1-6.6-1.6 1.9z"/>
<path class="f9" d="M145.7 469.7l5.6 0.8 0-6.5-5.7-0.9z"/>
<path class="t9" d="M147.3 461.3l5.6 0.8-1.6 1.9-5.7-0.9z"/>
<path class="s2" d="M76.1 471.7l2.1-1.8-0.2-6.5-2.1 1.8z"/>
<path class="f2" d="M70.8 470.9l5.3 0.8-0.2-6.5-5.3-0.8z"/>
<path class="t2" d="M72.7 462.6l5.3 0.8-2.1 1.8-5.3-0.8z"/>
<path class="s7" d="M129.2 471.4l1.8-1.8-0.1-6.6-1.8 1.8z"/>
<path class="f7" d="M123.7 470.6l5.5 0.8-0.1-6.6-5.5-0.8z"/>
<path class="t7" d="M125.4 462.2l5.5 0.8-1.8 1.8-5.5-0.8z"/>
<path class="s10" d="M160.8 472l1.6-1.9-0.1-6.6-1.5 1.9z"/>
<path class="f10" d="M155.1 471.1l5.7 0.9 0-6.6-5.8-0.9z"/>
<path class="t10" d="M156.7 462.7l5.6 0.8-1.5 1.9-5.8-0.9z"/>
<path class="s5" d="M107.1 472.3l1.9-1.9-0.1-6.5-1.9 1.8z"/>
<path class="f5" d="M101.7 471.4l5.4 0.9-0.1-6.6-5.5-0.8z"/>
<path class="t5" d="M103.5 463.1l5.4 0.8-1.9 1.8-5.5-0.8z"/>
<path class="s3" d="M85 473.2l2.1-1.9-0.2-6.5-2.1 1.8z"/>
<path class="f3" d="M79.7 472.3l5.3 0.9-0.2-6.6-5.4-0.8z"/>
<path class="t3" d="M81.5 463.9l5.4 0.9-2.1 1.8-5.4-0.8z"/>
<path class="s8" d="M138.5 472.9l1.8-1.9-0.1-6.6-1.7 1.8z"/>
<path class="f8" d="M132.9 472l5.6 0.9 0-6.7-5.6-0.8z"/>
<path class="t8" d="M134.6 463.6l5.6 0.8-1.7 1.8-5.6-0.8z"/>
<path class="s6" d="M116.3 473.7l1.9-1.8-0.1-6.6-1.9 1.8z"/>
<path class="f6" d="M110.8 472.9l5.5 0.8-0.1-6.6-5.5-0.8z"/>
<path class="t6" d="M112.6 464.4l5.5 0.9-1.9 1.8-5.5-0.8z"/>
<path class="s4" d="M94.1 474.6l2-1.9-0.2-6.5-2 1.8z"/>
<path class="f4" d="M88.6 473.8l5.5 0.8-0.2-6.6-5.5-0.8z"/>
<path class="t4" d="M90.5 465.3l5.4 0.9-2 1.8-5.5-0.8z"/>
<path class="s9" d="M148 474.3l1.7-1.9-0.1-6.6-1.7 1.9z"/>
<path class="f9" d="M142.3 473.4l5.7 0.9-0.1-6.6-5.7-0.9z"/>
<path class="t9" d="M144 465l5.6 0.8-1.7 1.9-5.7-0.9z"/>
<path class="s7" d="M125.6 475.2l1.8-1.9-0.1-6.6-1.8 1.9z"/>
<path class="f7" d="M120 474.3l5.6 0.9-0.1-6.6-5.6-0.9z"/>
<path class="t7" d="M121.8 465.8l5.5 0.9-1.8 1.9-5.6-0.9z"/>
<path class="s10" d="M157.5 475.8l1.7-1.9-0.1-6.7-1.6 1.9z"/>
<path class="f10" d="M151.8 474.9l5.7 0.9 0-6.7-5.8-0.9z"/>
<path class="t10" d="M153.4 466.4l5.7 0.8-1.6 1.9-5.8-0.9z"/>
<path class="s5" d="M103.2 476.1l2-1.9-0.2-6.6-1.9 1.8z"/>
<path class="f5" d="M97.7 475.2l5.5 0.9-0.1-6.7-5.5-0.8z"/>
<path class="t5" d="M99.5 466.7l5.5 0.9-1.9 1.8-5.5-0.8z"/>
<path class="s8" d="M135 476.7l1.8-1.9-0.1-6.7-1.8 1.9z"/>
<path class="f8" d="M129.4 475.8l5.6 0.9-0.1-6.7-5.6-0.9z"/>
<path class="t8" d="M131.1 467.3l5.6 0.8-1.8 1.9-5.6-0.9z"/>
<path class="s6" d="M112.5 477.6l1.9-1.9-0.1-6.7-1.9 1.9z"/>
<path class="f6" d="M106.9 476.7l5.6 0.9-0.1-6.7-5.6-0.9z"/>
<path class="t6" d="M108.7 468.1l5.6 0.9-1.9 1.9-5.6-0.9z"/>
<path class="s9" d="M144.6 478.2l1.7-1.9-0.1-6.7-1.7 1.9z"/>
<path class="f9" d="M138.8 477.3l5.8 0.9-0.1-6.7-5.7-0.9z"/>
<path class="t9" d="M140.5 468.7l5.7 0.9-1.7 1.9-5.7-0.9z"/>
<path class="s7" d="M121.9 479.1l1.9-1.9-0.1-6.7-1.9 1.9z"/>
<path class="f7" d="M116.3 478.2l5.6 0.9-0.1-6.7-5.7-0.9z"/>
<path class="t7" d="M118 469.6l5.7 0.9-1.9 1.9-5.7-0.9z"/>
<path class="s10" d="M154.2 479.7l1.7-1.9 0-6.8-1.7 2z"/>
<path class="f10" d="M148.4 478.8l5.8 0.9 0-6.7-5.8-0.9z"/>
<path class="t10" d="M150.1 470.1l5.8 0.9-1.7 2-5.8-0.9z"/>
<path class="s8" d="M131.4 480.6l1.8-1.9-0.1-6.8-1.8 2z"/>
<path class="f8" d="M125.7 479.7l5.7 0.9-0.1-6.7-5.7-0.9z"/>
<path class="t8" d="M127.4 471l5.7 0.9-1.8 2-5.7-0.9z"/>
<path class="s9" d="M141.1 482.2l1.7-2 0-6.8-1.8 2z"/>
<path class="f9" d="M135.3 481.3l5.8 0.9-0.1-6.8-5.8-0.9z"/>
<path class="t9" d="M137 472.5l5.8 0.9-1.8 2-5.8-0.9z"/>
<path class="s10" d="M150.8 483.8l1.7-2.1 0-6.8-1.7 2z"/>
<path class="f10" d="M144.9 482.8l5.9 1 0-6.9-5.9-0.9z"/>
<path class="t10" d="M146.6 474l5.9 0.9-1.7 2-5.9-0.9z"/>
<g font-family="Liberation Serif" fill="#111" stroke="#111" stroke-width="0.15">
<text transform="matrix(1.5507,0.2614,-0.8135,0.6784,48.40,477.90)" font-size="13" text-anchor="middle" dominant-baseline="central">0</text>
<text transform="matrix(1.6516,0.2783,-0.7351,0.7173,93.50,485.40)" font-size="13" text-anchor="middle" dominant-baseline="central">5</text>
<text transform="matrix(1.7525,0.2956,-0.6556,0.7571,136.30,492.90)" font-size="13" text-anchor="middle" dominant-baseline="central">10</text>
<text transform="matrix(1.7211,0.3077,-0.7817,0.7839,88.20,499.30)" font-size="13" font-style="italic" text-anchor="middle" dominant-baseline="central">n</text>
<text transform="matrix(0.4392,-0.5669,1.5829,0.2121,198.80,449.60)" font-size="13" text-anchor="middle" dominant-baseline="central">0</text>
<text transform="matrix(0.4992,-0.6450,1.6733,0.2461,184.90,467.90)" font-size="13" text-anchor="middle" dominant-baseline="central">5</text>
<text transform="matrix(0.5572,-0.7212,1.7549,0.2796,172.30,484.70)" font-size="13" text-anchor="middle" dominant-baseline="central">10</text>
<text transform="matrix(0.4546,-0.6738,1.7416,0.2586,210.00,473.80)" font-size="13" font-style="italic" text-anchor="middle" dominant-baseline="central">t</text>
</g>
<line x1="296.3" y1="54.3" x2="398.7" y2="48.9" stroke="#888" stroke-width="0.75" stroke-dasharray="3,2.5"/>
<line x1="297.8" y1="91.1" x2="397.8" y2="84.9" stroke="#888" stroke-width="0.75" stroke-dasharray="3,2.5"/>
<line x1="303.7" y1="125.9" x2="301.1" y2="54.0" stroke="#bbb" stroke-width="0.6" stroke-dasharray="4,2"/>
<line x1="392.6" y1="119.6" x2="394.1" y2="49.2" stroke="#bbb" stroke-width="0.6" stroke-dasharray="4,2"/>
<line x1="398.7" y1="48.9" x2="431.3" y2="80.2" stroke="#bbb" stroke-width="0.6"/>
<line x1="397.8" y1="84.9" x2="429.4" y2="121.1" stroke="#bbb" stroke-width="0.6"/>
<line x1="411.2" y1="138.1" x2="413.8" y2="63.4" stroke="#999" stroke-width="0.6" stroke-dasharray="4,2"/>
<line x1="427.6" y1="159.8" x2="431.3" y2="80.2" stroke="#666" stroke-width="0.7" stroke-dasharray="3,2"/>
<line x1="396.9" y1="119.3" x2="398.7" y2="48.9" stroke="#999" stroke-width="0.6" stroke-dasharray="4,2"/>
<line x1="299.2" y1="126.2" x2="296.3" y2="54.3" stroke="#bbb" stroke-width="0.6"/>
<line x1="299.2" y1="126.2" x2="296.3" y2="54.3" stroke="#333" stroke-width="1.0"/>
<path d="M299.2 126.2h-3.0M298.9 119.3h-1.6M298.6 112.4h-1.6M298.3 105.3h-1.6M298.1 98.3h-1.6M297.8 91.1h-3.0M297.5 83.9h-1.6M297.2 76.6h-1.6M296.9 69.2h-1.6M296.6 61.8h-1.6M296.3 54.3h-3.0M296.3 54.3h2.5" stroke="#333" stroke-width="0.7" fill="none"/>
<line x1="315.3" y1="169.0" x2="427.6" y2="159.8" stroke="#444" stroke-width="0.8"/>
<line x1="315.3" y1="169.0" x2="299.2" y2="126.2" stroke="#444" stroke-width="0.8"/>
<path d="M320.5 168.6L321.6 171.3M299.8 127.9L294.3 128.3M331.0 167.7L331.7 169.3M301.1 131.4L297.9 131.6M341.4 166.9L342.1 168.5M302.4 134.9L299.1 135.1M351.7 166.0L352.5 167.6M303.8 138.5L300.5 138.8M362.0 165.2L362.9 166.7M305.2 142.2L301.8 142.5M372.3 164.4L373.8 167.0M306.6 146.1L300.8 146.5M382.5 163.5L383.4 165.1M308.1 150.0L304.7 150.2M392.6 162.7L393.5 164.2M309.6 154.0L306.1 154.3M402.7 161.9L403.7 163.4M311.2 158.2L307.6 158.4M412.7 161.0L413.7 162.5M312.8 162.4L309.2 162.7M422.6 160.2L424.6 162.8M314.5 166.8L308.2 167.3" stroke="#444" stroke-width="0.6" fill="none"/>
<path class="u10" d="M389.7 119.5l0-0.8 5.3-0.4 1.2 1.6-0.1 0.8-5.2 0.4z"/>
<path class="v10" d="M389.7 118.7l5.3-0.4 1.2 1.6-5.3 0.4z"/>
<path class="u9" d="M381 120.1l0-0.8 5.3-0.4 1.1 1.6 0 0.8-5.2 0.4z"/>
<path class="v9" d="M381 119.3l5.3-0.4 1.1 1.6-5.2 0.4z"/>
<path class="u8" d="M372.3 120.7l0-0.8 5.2-0.4 1.1 1.6 0 0.9-5.2 0.3z"/>
<path class="v8" d="M372.3 119.9l5.2-0.4 1.1 1.6-5.2 0.4z"/>
<path class="u7" d="M363.5 120.5l5.3-0.4 1 1.7 0 0.8-5.3 0.4-1-1.7z"/>
<path class="v7" d="M363.5 120.5l5.3-0.4 1 1.7-5.3 0.3z"/>
<path class="u6" d="M354.7 121.1l5.3-0.3 1 1.6 0 0.8-5.4 0.4-0.9-1.6z"/>
<path class="v6" d="M354.7 121.1l5.3-0.3 1 1.6-5.4 0.4z"/>
<path class="u10" d="M392.7 123.5l0-0.8 5.3-0.4 1.2 1.7 0 0.8-5.3 0.4z"/>
<path class="v10" d="M392.7 122.7l5.3-0.4 1.2 1.7-5.3 0.4z"/>
<path class="s5" d="M346.7 124.2l-0.9-1.6-0.6-71.1 0.9 1.2z"/>
<path class="f5" d="M346.7 124.2l5.4-0.4-0.4-71.4-5.6 0.3z"/>
<path class="t5" d="M345.2 51.5l5.5-0.3 1 1.2-5.6 0.3z"/>
<path class="u4" d="M336.9 122.4l5.3-0.4 0.9 1.7 0.1 0.8-5.4 0.4-0.9-1.7z"/>
<path class="v4" d="M336.9 122.4l5.3-0.4 0.9 1.7-5.3 0.3z"/>
<path class="u9" d="M383.9 124.2l0-0.9 5.3-0.3 1.2 1.6 0 0.8-5.4 0.4z"/>
<path class="v9" d="M383.9 123.3l5.3-0.3 1.2 1.6-5.4 0.4z"/>
<path class="u3" d="M327.9 123l5.4-0.4 0.9 1.7 0 0.8-5.4 0.4-0.8-1.7z"/>
<path class="v3" d="M327.9 123l5.4-0.4 0.9 1.7-5.5 0.4z"/>
<path class="u8" d="M375 124.8l0-0.8 5.3-0.4 1.2 1.7-0.1 0.8-5.3 0.4z"/>
<path class="v8" d="M375 124l5.3-0.4 1.2 1.7-5.4 0.3z"/>
<path class="u2" d="M318.9 123.7l5.4-0.4 0.7 1.6 0.1 0.9-5.5 0.4-0.7-1.7z"/>
<path class="v2" d="M318.9 123.7l5.4-0.4 0.8 1.6-5.4 0.4z"/>
<path class="u1" d="M309.9 124.3l5.4-0.4 0.8 1.7 0 0.8-5.5 0.4-0.7-1.7z"/>
<path class="v1" d="M309.9 124.3l5.4-0.4 0.8 1.7-5.5 0.4z"/>
<path class="u7" d="M366.1 124.6l5.3-0.4 1.1 1.7 0 0.8-5.4 0.4-1-1.7z"/>
<path class="v7" d="M366.1 124.6l5.3-0.4 1.1 1.7-5.4 0.4z"/>
<path class="u0" d="M300.8 124.9l5.5-0.3 0.7 1.6 0 0.8-5.5 0.4-0.6-1.6z"/>
<path class="v0" d="M300.8 124.9l5.5-0.3 0.7 1.6-5.5 0.4z"/>
<path class="u10" d="M395.1 126.9l0-0.9 5.4-0.4 1.3 1.7-0.1 0.9-5.3 0.4z"/>
<path class="v10" d="M395.1 126l5.4-0.4 1.3 1.7-5.4 0.4z"/>
<path class="u6" d="M357.1 125.3l5.4-0.4 1 1.7 0 0.8-5.4 0.4-1-1.7z"/>
<path class="v6" d="M357.1 125.3l5.4-0.4 1 1.7-5.4 0.3z"/>
<path class="u5" d="M348.1 125.9l5.4-0.4 1 1.7 0 0.8-5.4 0.4-1-1.7z"/>
<path class="v5" d="M348.1 125.9l5.4-0.4 1 1.7-5.4 0.4z"/>
<path class="u9" d="M386.2 127.5l0-0.8 5.4-0.4 1.2 1.7 0 0.8-5.4 0.4z"/>
<path class="v9" d="M386.2 126.7l5.4-0.4 1.2 1.7-5.4 0.4z"/>
<path class="s4" d="M340 129.1l-0.9-1.7-0.1-5.6 0.9 1.7z"/>
<path class="f4" d="M340 129.1l5.4-0.4 0-5.6-5.5 0.4z"/>
<path class="t4" d="M339 121.8l5.5-0.3 0.9 1.6-5.5 0.4z"/>
<path class="u8" d="M377.2 128.2l0-0.9 5.4-0.3 1.2 1.6 0 0.9-5.5 0.4z"/>
<path class="v8" d="M377.2 127.3l5.4-0.4 1.2 1.8-5.4 0.3z"/>
<path class="s3" d="M330.8 129.7l-0.8-1.7-0.3-13.9 0.9 1.6z"/>
<path class="f3" d="M330.8 129.7l5.5-0.4-0.2-13.9-5.5 0.3z"/>
<path class="t3" d="M329.7 114.1l5.5-0.4 0.9 1.7-5.5 0.3z"/>
<path class="u7" d="M368.2 128l5.4-0.4 1.1 1.7 0 0.9-5.4 0.4-1.1-1.8z"/>
<path class="v7" d="M368.2 128l5.4-0.4 1.1 1.7-5.4 0.4z"/>
<path class="s2" d="M321.7 130.4l-0.8-1.7-0.7-25.3 0.8 1.6z"/>
<path class="f2" d="M321.7 130.4l5.5-0.4-0.6-25.4-5.6 0.4z"/>
<path class="t2" d="M320.2 103.4l5.6-0.4 0.8 1.6-5.6 0.4z"/>
<path class="u10" d="M397.6 130.3l0-0.9 5.4-0.4 1.4 1.8-0.1 0.8-5.4 0.4z"/>
<path class="v10" d="M397.6 129.4l5.5-0.3 1.3 1.7-5.5 0.4z"/>
<path class="s1" d="M312.4 131.1l-0.7-1.8-0.7-22.5 0.7 1.6z"/>
<path class="f1" d="M312.4 131.1l5.6-0.4-0.7-22.6-5.6 0.3z"/>
<path class="t1" d="M311 106.8l5.6-0.3 0.7 1.6-5.6 0.3z"/>
<path class="u6" d="M359.1 128.7l5.5-0.3 1 1.7 0 0.8-5.4 0.4-1.1-1.7z"/>
<path class="v6" d="M359.1 128.7l5.5-0.4 1 1.7-5.4 0.4z"/>
<path class="s0" d="M303.2 131.7l-0.7-1.7-0.4-9.8 0.7 1.7z"/>
<path class="f0" d="M303.2 131.7l5.5-0.4-0.3-9.8-5.6 0.4z"/>
<path class="t0" d="M302.1 120.2l5.6-0.4 0.7 1.7-5.6 0.4z"/>
<path class="u5" d="M350 129.3l5.5-0.4 1 1.7 0 0.9-5.5 0.4-1-1.7z"/>
<path class="v5" d="M350 129.3l5.5-0.4 1 1.7-5.5 0.4z"/>
<path class="u9" d="M388.6 130.9l0-0.9 5.4-0.4 1.3 1.8 0 0.8-5.5 0.4z"/>
<path class="v9" d="M388.6 130.1l5.4-0.4 1.3 1.8-5.5 0.4z"/>
<path class="s4" d="M341.8 132.6l-0.9-1.8-0.1-8.4 0.9 1.7z"/>
<path class="f4" d="M341.8 132.6l5.5-0.4-0.1-8.5-5.5 0.4z"/>
<path class="t4" d="M340.8 122.4l5.5-0.4 0.9 1.7-5.5 0.4z"/>
<path class="u8" d="M379.5 131.6l0-0.8 5.5-0.4 1.2 1.7-0.1 0.9-5.5 0.4z"/>
<path class="v8" d="M379.5 130.8l5.5-0.4 1.2 1.7-5.5 0.4z"/>
<path class="s3" d="M332.5 133.2l-0.8-1.7-0.4-18.4 0.9 1.7z"/>
<path class="f3" d="M332.5 133.2l5.6-0.4-0.3-18.4-5.6 0.4z"/>
<path class="t3" d="M331.3 113.1l5.6-0.4 0.9 1.7-5.6 0.4z"/>
<path class="u7" d="M370.4 132.3l0-0.9 5.4-0.4 1.2 1.8 0 0.8-5.5 0.5z"/>
<path class="v7" d="M370.4 131.5l5.5-0.4 1.1 1.7-5.5 0.4z"/>
<path class="s2" d="M323.2 133.9l-0.8-1.7-0.6-25.6 0.8 1.6z"/>
<path class="f2" d="M323.2 133.9l5.6-0.4-0.5-25.7-5.7 0.4z"/>
<path class="t2" d="M321.8 106.6l5.7-0.4 0.8 1.6-5.7 0.4z"/>
<path class="u10" d="M400.2 133.8l0-0.8 5.5-0.5 1.3 1.8 0 0.9-5.5 0.4z"/>
<path class="v10" d="M400.2 132.9l5.5-0.4 1.3 1.8-5.5 0.4z"/>
<path class="s1" d="M313.9 134.6l-0.7-1.8-0.4-10.5 0.8 1.7z"/>
<path class="f1" d="M313.9 134.6l5.6-0.4-0.3-10.6-5.6 0.4z"/>
<path class="t1" d="M312.8 122.3l5.7-0.4 0.7 1.7-5.6 0.4z"/>
<path class="u6" d="M361.2 132.1l5.5-0.4 1.1 1.8 0 0.8-5.6 0.5-1-1.8z"/>
<path class="v6" d="M361.2 132.1l5.5-0.4 1.1 1.8-5.6 0.4z"/>
<path class="s0" d="M304.5 135.3l-0.7-1.8-0.3-8.5 0.7 1.8z"/>
<path class="f0" d="M304.5 135.3l5.7-0.4-0.3-8.5-5.7 0.4z"/>
<path class="t0" d="M303.5 125l5.7-0.4 0.7 1.8-5.7 0.4z"/>
<path class="u9" d="M391 134.5l0-0.9 5.6-0.4 1.2 1.8 0 0.9-5.5 0.4z"/>
<path class="v9" d="M391 133.6l5.5-0.4 1.3 1.8-5.5 0.4z"/>
<path class="u5" d="M352 132.8l5.5-0.4 1 1.8 0 0.8-5.5 0.4-1-1.8z"/>
<path class="v5" d="M352 132.8l5.5-0.4 1 1.8-5.5 0.4z"/>
<path class="s4" d="M343.6 136.1l-0.9-1.8-0.1-10.6 0.9 1.7z"/>
<path class="f4" d="M343.6 136.1l5.6-0.4 0-10.7-5.7 0.4z"/>
<path class="t4" d="M342.6 123.7l5.6-0.4 1 1.7-5.7 0.4z"/>
<path class="u8" d="M381.8 135.2l0-0.9 5.6-0.4 1.2 1.8 0 0.9-5.6 0.4z"/>
<path class="v8" d="M381.8 134.3l5.6-0.4 1.2 1.8-5.6 0.4z"/>
<path class="s3" d="M334.3 136.8l-0.9-1.8-0.4-21.4 0.9 1.7z"/>
<path class="f3" d="M334.3 136.8l5.6-0.4-0.3-21.5-5.7 0.4z"/>
<path class="t3" d="M333 113.6l5.7-0.4 0.9 1.7-5.7 0.4z"/>
<path class="u7" d="M372.6 135.8l0-0.8 5.6-0.4 1.1 1.8 0 0.8-5.6 0.5z"/>
<path class="v7" d="M372.6 135l5.6-0.4 1.1 1.8-5.6 0.4z"/>
<path class="s2" d="M324.9 137.5l-0.8-1.8-0.7-26.6 0.9 1.7z"/>
<path class="f2" d="M324.9 137.5l5.6-0.4-0.5-26.7-5.7 0.4z"/>
<path class="t2" d="M323.4 109.1l5.7-0.4 0.9 1.7-5.7 0.4z"/>
<path class="u10" d="M402.8 137.4l0-0.9 5.6-0.4 1.4 1.8-0.1 0.9-5.5 0.4z"/>
<path class="v10" d="M402.8 136.5l5.6-0.4 1.4 1.8-5.6 0.5z"/>
<path class="s1" d="M315.4 138.2l-0.7-1.8-0.3-10 0.7 1.8z"/>
<path class="f1" d="M315.4 138.2l5.7-0.4-0.3-10-5.7 0.4z"/>
<path class="t1" d="M314.4 126.4l5.6-0.4 0.8 1.8-5.7 0.4z"/>
<path class="u6" d="M363.3 136.6l0-0.9 5.6-0.4 1.1 1.8 0 0.9-5.6 0.4z"/>
<path class="v6" d="M363.3 135.7l5.6-0.4 1.1 1.8-5.6 0.4z"/>
<path class="s0" d="M305.9 138.9l-0.7-1.8-0.2-7.1 0.7 1.8z"/>
<path class="f0" d="M305.9 138.9l5.7-0.4-0.2-7.1-5.7 0.4z"/>
<path class="t0" d="M305 130l5.7-0.4 0.7 1.8-5.7 0.4z"/>
<path class="u9" d="M393.5 138.1l0.1-0.9 5.5-0.4 1.3 1.8 0 0.9-5.6 0.4z"/>
<path class="v9" d="M393.6 137.2l5.5-0.4 1.3 1.9-5.6 0.4z"/>
<path class="u5" d="M354 136.4l5.6-0.4 1 1.8 0 0.8-5.6 0.5-1-1.9z"/>
<path class="v5" d="M354 136.4l5.6-0.4 1 1.8-5.6 0.4z"/>
<path class="s4" d="M345.6 139.8l-1-1.9-0.1-12.1 0.9 1.7z"/>
<path class="f4" d="M345.6 139.8l5.6-0.4 0-12.3-5.8 0.4z"/>
<path class="t4" d="M344.5 125.8l5.7-0.4 1 1.7-5.8 0.4z"/>
<path class="u8" d="M384.2 138.8l0-0.9 5.6-0.4 1.3 1.9 0 0.8-5.6 0.4z"/>
<path class="v8" d="M384.2 137.9l5.6-0.4 1.3 1.9-5.6 0.4z"/>
<path class="s3" d="M336.1 140.5l-0.9-1.9-0.4-23.8 0.9 1.7z"/>
<path class="f3" d="M336.1 140.5l5.7-0.4-0.3-24-5.8 0.4z"/>
<path class="t3" d="M334.8 114.8l5.7-0.4 1 1.7-5.8 0.4z"/>
<path class="u7" d="M374.9 138.7l5.6-0.4 1.2 1.9 0 0.8-5.7 0.5-1.1-1.9z"/>
<path class="v7" d="M374.9 138.6l5.6-0.4 1.2 1.9-5.6 0.4z"/>
<path class="s2" d="M326.5 141.2l-0.8-1.8-0.6-26.9 0.9 1.7z"/>
<path class="f2" d="M326.5 141.2l5.8-0.4-0.5-27-5.8 0.4z"/>
<path class="t2" d="M325.1 112.5l5.8-0.4 0.9 1.7-5.8 0.4z"/>
<path class="u10" d="M405.5 141.1l0-0.9 5.6-0.4 1.5 1.9-0.1 0.8-5.6 0.5z"/>
<path class="v10" d="M405.5 140.2l5.6-0.4 1.5 1.9-5.7 0.4z"/>
<path class="s1" d="M317 141.9l-0.8-1.8-0.3-9.4 0.8 1.8z"/>
<path class="f1" d="M317 141.9l5.7-0.4-0.2-9.4-5.8 0.4z"/>
<path class="t1" d="M315.9 130.7l5.8-0.4 0.8 1.8-5.8 0.4z"/>
<path class="u6" d="M365.5 140.2l0-0.8 5.6-0.5 1.2 1.9 0 0.9-5.7 0.4z"/>
<path class="v6" d="M365.5 139.4l5.6-0.5 1.2 1.9-5.7 0.4z"/>
<path class="s0" d="M307.3 142.7l-0.7-1.9-0.2-6.5 0.7 1.8z"/>
<path class="f0" d="M307.3 142.7l5.8-0.5-0.2-6.5-5.8 0.4z"/>
<path class="t0" d="M306.4 134.3l5.8-0.4 0.7 1.8-5.8 0.4z"/>
<path class="u9" d="M396.1 141.8l0.1-0.9 5.6-0.4 1.3 1.9 0 0.9-5.7 0.4z"/>
<path class="v9" d="M396.1 140.9l5.7-0.4 1.3 1.9-5.6 0.4z"/>
<path class="u5" d="M356 140.1l5.7-0.5 1.1 1.9 0 0.9-5.7 0.4-1.1-1.9z"/>
<path class="v5" d="M356 140.1l5.7-0.5 1.1 1.9-5.7 0.4z"/>
<path class="s4" d="M347.5 143.5l-1-1.8-0.1-13.1 1 1.8z"/>
<path class="f4" d="M347.5 143.5l5.8-0.4-0.1-13.1-5.8 0.4z"/>
<path class="t4" d="M346.4 128.6l5.8-0.4 1 1.8-5.8 0.4z"/>
<path class="u8" d="M386.7 142.5l0-0.8 5.7-0.5 1.3 1.9-0.1 0.9-5.6 0.4z"/>
<path class="v8" d="M386.7 141.7l5.7-0.5 1.3 1.9-5.7 0.5z"/>
<path class="s3" d="M337.9 144.3l-0.9-1.9-0.4-24.9 1 1.8z"/>
<path class="f3" d="M337.9 144.3l5.8-0.5-0.3-25-5.8 0.5z"/>
<path class="t3" d="M336.6 117.5l5.8-0.4 1 1.7-5.8 0.5z"/>
<path class="u7" d="M377.2 143.2l0-0.8 5.7-0.4 1.3 1.8 0 0.9-5.8 0.5z"/>
<path class="v7" d="M377.2 142.4l5.7-0.4 1.3 1.9-5.8 0.4z"/>
<path class="s2" d="M328.3 145l-0.9-1.9-0.6-27.2 0.9 1.8z"/>
<path class="f2" d="M328.3 145l5.8-0.4-0.5-27.3-5.9 0.4z"/>
<path class="t2" d="M326.8 115.9l5.9-0.4 0.9 1.8-5.9 0.4z"/>
<path class="u10" d="M408.3 144.9l0-0.9 5.7-0.4 1.4 1.9 0 0.9-5.7 0.4z"/>
<path class="v10" d="M408.3 144l5.7-0.4 1.4 1.9-5.7 0.4z"/>
<path class="u6" d="M367.7 144l0-0.9 5.7-0.4 1.2 1.9 0 0.9-5.8 0.4z"/>
<path class="v6" d="M367.7 143.1l5.7-0.4 1.2 1.9-5.8 0.4z"/>
<path class="s1" d="M318.6 145.7l-0.8-1.9-0.3-8.7 0.8 1.9z"/>
<path class="f1" d="M318.6 145.7l5.8-0.4-0.2-8.8-5.9 0.5z"/>
<path class="t1" d="M317.5 135.1l5.8-0.4 0.9 1.8-5.9 0.5z"/>
<path class="s0" d="M308.8 146.5l-0.7-1.9-0.2-5.9 0.7 1.9z"/>
<path class="f0" d="M308.8 146.5l5.9-0.5-0.2-5.8-5.9 0.4z"/>
<path class="t0" d="M307.9 138.7l5.8-0.4 0.8 1.9-5.9 0.4z"/>
<path class="u9" d="M398.8 145.6l0-0.9 5.7-0.4 1.4 1.9 0 0.9-5.8 0.5z"/>
<path class="v9" d="M398.8 144.7l5.7-0.4 1.4 1.9-5.7 0.5z"/>
<path class="u5" d="M358.1 143.8l5.8-0.4 1.1 1.9 0 0.9-5.8 0.4-1.1-1.9z"/>
<path class="v5" d="M358.1 143.8l5.8-0.4 1.1 1.9-5.8 0.5z"/>
<path class="s4" d="M349.5 147.4l-1-1.9-0.1-13.2 1 1.8z"/>
<path class="f4" d="M349.5 147.4l5.8-0.5 0-13.2-5.9 0.4z"/>
<path class="t4" d="M348.4 132.3l5.8-0.5 1.1 1.9-5.9 0.4z"/>
<path class="u8" d="M389.2 146.4l0-0.9 5.8-0.5 1.3 2 0 0.9-5.8 0.4z"/>
<path class="v8" d="M389.2 145.5l5.8-0.5 1.3 2-5.8 0.4z"/>
<path class="s3" d="M339.8 148.1l-0.9-1.9-0.4-24.4 1 1.8z"/>
<path class="f3" d="M339.8 148.1l5.8-0.4-0.2-24.5-5.9 0.4z"/>
<path class="t3" d="M338.5 121.8l5.9-0.4 1 1.8-5.9 0.4z"/>
<path class="u7" d="M379.6 147.1l0-0.9 5.8-0.4 1.3 1.9 0 0.9-5.8 0.5z"/>
<path class="v7" d="M379.6 146.2l5.8-0.4 1.3 1.9-5.8 0.5z"/>
<path class="u10" d="M411.1 148.8l0.1-0.9 5.7-0.5 1.5 2 0 0.9-5.8 0.5z"/>
<path class="v10" d="M411.1 147.9l5.8-0.5 1.5 2-5.8 0.5z"/>
<path class="s2" d="M330 148.9l-0.9-2-0.5-26.7 0.9 1.8z"/>
<path class="f2" d="M330 148.9l5.9-0.4-0.4-26.9-6 0.4z"/>
<path class="t2" d="M328.6 120.2l5.9-0.4 1 1.8-6 0.4z"/>
<path class="u6" d="M370 147.8l0-0.8 5.8-0.5 1.2 2 0 0.9-5.8 0.4z"/>
<path class="v6" d="M370 147l5.8-0.5 1.2 2-5.8 0.4z"/>
<path class="s1" d="M320.2 149.7l-0.8-2-0.3-8.8 0.9 1.9z"/>
<path class="f1" d="M320.2 149.7l5.9-0.5-0.2-8.8-5.9 0.4z"/>
<path class="t1" d="M319.1 138.9l5.9-0.5 0.9 2-5.9 0.4z"/>
<path class="u9" d="M401.5 149.5l0-0.9 5.8-0.4 1.4 2 0 0.9-5.8 0.4z"/>
<path class="v9" d="M401.5 148.6l5.8-0.4 1.4 2-5.8 0.4z"/>
<path class="s0" d="M310.3 150.4l-0.7-2-0.2-5.1 0.8 2z"/>
<path class="f0" d="M310.3 150.4l6-0.4-0.2-5.2-5.9 0.5z"/>
<path class="t0" d="M309.4 143.3l5.9-0.4 0.8 1.9-5.9 0.5z"/>
<path class="u5" d="M360.3 147.7l5.8-0.4 1.2 1.9 0 0.9-5.9 0.5-1.1-2z"/>
<path class="v5" d="M360.3 147.7l5.8-0.4 1.2 1.9-5.9 0.5z"/>
<path class="u8" d="M391.8 150.3l0-0.9 5.9-0.4 1.3 2 0 0.8-5.8 0.5z"/>
<path class="v8" d="M391.8 149.4l5.9-0.4 1.3 1.9-5.8 0.5z"/>
<path class="s4" d="M351.6 151.4l-1-2-0.1-11.9 1 2z"/>
<path class="f4" d="M351.6 151.4l5.9-0.5 0-11.9-6 0.5z"/>
<path class="t4" d="M350.5 137.5l5.9-0.4 1.1 1.9-6 0.5z"/>
<path class="s3" d="M341.7 152.1l-0.9-2-0.3-23.1 1 1.8z"/>
<path class="f3" d="M341.7 152.1l6-0.4-0.2-23.3-6 0.4z"/>
<path class="t3" d="M340.5 127l5.9-0.5 1.1 1.9-6 0.4z"/>
<path class="u7" d="M382.1 151.1l0-0.9 5.9-0.5 1.3 2-0.1 0.9-5.8 0.5z"/>
<path class="v7" d="M382.1 150.2l5.9-0.5 1.3 2-5.9 0.5z"/>
<path class="u10" d="M414 152.8l0.1-0.9 5.8-0.5 1.5 2 0 0.9-5.9 0.5z"/>
<path class="v10" d="M414.1 151.9l5.8-0.5 1.5 2-5.8 0.5z"/>
<path class="s2" d="M331.8 152.9l-0.9-2-0.4-24.7 0.9 1.8z"/>
<path class="f2" d="M331.8 152.9l6-0.5-0.4-24.8-6 0.4z"/>
<path class="t2" d="M330.5 126.2l6-0.5 0.9 1.9-6 0.4z"/>
<path class="u6" d="M372.3 151.8l0.1-0.9 5.8-0.4 1.3 2-0.1 0.9-5.9 0.5z"/>
<path class="v6" d="M372.3 150.9l5.9-0.4 1.3 2-6 0.5z"/>
<path class="s1" d="M321.9 153.7l-0.9-2-0.2-8.2 0.9 2z"/>
<path class="f1" d="M321.9 153.7l6-0.5-0.2-8.2-6 0.5z"/>
<path class="t1" d="M320.8 143.5l6-0.5 0.9 2-6 0.5z"/>
<path class="u9" d="M404.3 153.6l0-0.9 5.9-0.5 1.4 2 0 0.9-5.9 0.5z"/>
<path class="v9" d="M404.3 152.7l5.9-0.5 1.4 2-5.9 0.5z"/>
<path class="s0" d="M311.9 154.5l-0.8-2.1-0.1-4.4 0.7 2z"/>
<path class="f0" d="M311.9 154.5l6-0.5-0.1-4.5-6.1 0.5z"/>
<path class="t0" d="M311 148l5.9-0.5 0.9 2-6.1 0.5z"/>
<path class="u5" d="M362.5 151.7l5.9-0.5 1.2 2.1 0 0.9-5.9 0.4-1.2-2z"/>
<path class="v5" d="M362.5 151.7l5.9-0.5 1.2 2.1-5.9 0.4z"/>
<path class="u8" d="M394.5 154.3l0-0.9 5.9-0.4 1.4 2 0 0.9-5.9 0.5z"/>
<path class="v8" d="M394.5 153.4l5.9-0.4 1.4 2-5.9 0.5z"/>
<path class="s4" d="M353.7 155.4l-1-2-0.1-9.7 1.1 2z"/>
<path class="f4" d="M353.7 155.4l6-0.4 0-9.8-6 0.5z"/>
<path class="t4" d="M352.6 143.7l6-0.5 1.1 2-6 0.5z"/>
<path class="s3" d="M343.7 156.2l-1-2-0.2-21.2 1 2z"/>
<path class="f3" d="M343.7 156.2l6-0.5-0.1-21.2-6.1 0.5z"/>
<path class="t3" d="M342.5 133l6-0.4 1.1 1.9-6.1 0.5z"/>
<path class="u7" d="M384.6 155.1l0.1-0.9 5.9-0.4 1.3 2 0 0.9-5.9 0.5z"/>
<path class="v7" d="M384.7 154.2l5.9-0.4 1.3 2-5.9 0.5z"/>
<path class="u10" d="M417 156.9l0.1-0.9 5.9-0.5 1.6 2.1-0.1 0.9-5.9 0.5z"/>
<path class="v10" d="M417.1 156l5.9-0.5 1.5 2.1-5.9 0.5z"/>
<path class="s2" d="M333.7 157l-0.9-2.1-0.4-21.1 0.9 1.9z"/>
<path class="f2" d="M333.7 157l6-0.5-0.3-21.2-6.1 0.4z"/>
<path class="t2" d="M332.4 133.8l6.1-0.5 0.9 2-6.1 0.4z"/>
<path class="u6" d="M374.8 155.9l0-0.9 5.9-0.5 1.3 2.1 0 0.9-6 0.5z"/>
<path class="v6" d="M374.8 155l5.9-0.5 1.3 2.1-6 0.5z"/>
<path class="s1" d="M323.6 157.8l-0.9-2.1-0.2-8.2 0.9 2z"/>
<path class="f1" d="M323.6 157.8l6.1-0.5-0.2-8.3-6.1 0.5z"/>
<path class="t1" d="M322.5 147.5l6.1-0.5 0.9 2-6.1 0.5z"/>
<path class="u9" d="M407.2 157.7l0-0.9 5.9-0.5 1.5 2.1 0 0.9-6 0.5z"/>
<path class="v9" d="M407.2 156.8l5.9-0.5 1.5 2.1-5.9 0.5z"/>
<path class="s0" d="M313.5 158.6l-0.8-2.1-0.1-3.7 0.8 2.1z"/>
<path class="f0" d="M313.5 158.6l6.1-0.5-0.1-3.7-6.1 0.5z"/>
<path class="t0" d="M312.6 152.8l6-0.5 0.9 2.1-6.1 0.5z"/>
<path class="u5" d="M364.8 155.8l6-0.5 1.2 2.1 0 0.9-6 0.5-1.2-2.1z"/>
<path class="v5" d="M364.8 155.8l6-0.5 1.2 2.1-6 0.5z"/>
<path class="u8" d="M397.2 158.5l0.1-0.9 5.9-0.5 1.5 2.1-0.1 0.9-6 0.5z"/>
<path class="v8" d="M397.3 157.6l5.9-0.5 1.5 2.1-6 0.5z"/>
<path class="s4" d="M355.9 159.6l-1.1-2.1 0-7.5 1.1 2z"/>
<path class="f4" d="M355.9 159.6l6.1-0.5 0-7.5-6.1 0.4z"/>
<path class="t4" d="M354.8 150l6-0.5 1.2 2.1-6.1 0.4z"/>
<path class="s3" d="M345.8 160.4l-1-2.1-0.2-15.2 1 2.1z"/>
<path class="f3" d="M345.8 160.4l6.1-0.5-0.1-15.2-6.2 0.5z"/>
<path class="t3" d="M344.6 143.1l6.1-0.4 1.1 2-6.2 0.5z"/>
<path class="u7" d="M387.3 159.3l0-0.9 6-0.5 1.3 2.1 0 0.9-6 0.5z"/>
<path class="v7" d="M387.3 158.4l6-0.5 1.4 2.1-6.1 0.5z"/>
<path class="s2" d="M335.6 161.2l-0.9-2.1-0.3-15.2 1 2z"/>
<path class="f2" d="M335.6 161.2l6.1-0.4-0.2-15.3-6.1 0.4z"/>
<path class="t2" d="M334.4 143.9l6.1-0.5 1 2.1-6.1 0.4z"/>
<path class="u6" d="M377.2 160.1l0-0.9 6.1-0.5 1.3 2.1 0 1-6.1 0.5z"/>
<path class="v6" d="M377.2 159.2l6.1-0.5 1.3 2.1-6.1 0.5z"/>
<path class="s1" d="M325.4 162.1l-0.9-2.2-0.2-7.6 0.9 2.1z"/>
<path class="f1" d="M325.4 162.1l6.1-0.5-0.1-7.6-6.2 0.4z"/>
<path class="t1" d="M324.3 152.3l6.1-0.4 1 2.1-6.2 0.4z"/>
<path class="s0" d="M315.1 162.9l-0.8-2.2-0.1-3.7 0.8 2.1z"/>
<path class="f0" d="M315.1 162.9l6.2-0.5-0.1-3.8-6.2 0.5z"/>
<path class="t0" d="M314.2 157l6.1-0.5 0.9 2.1-6.2 0.5z"/>
<path class="u5" d="M367.2 160l6-0.5 1.3 2.2-0.1 0.9-6 0.5-1.2-2.2z"/>
<path class="v5" d="M367.2 160l6-0.5 1.3 2.2-6.1 0.5z"/>
<path class="s4" d="M358.2 163.9l-1.2-2.1 0-5.4 1.1 2.2z"/>
<path class="f4" d="M358.2 163.9l6.1-0.5 0-5.3-6.2 0.5z"/>
<path class="t4" d="M357 156.4l6.1-0.5 1.2 2.2-6.2 0.5z"/>
<path class="s3" d="M347.9 164.8l-1.1-2.2 0-7.7 1 2.2z"/>
<path class="f3" d="M347.9 164.8l6.2-0.5-0.1-7.7-6.2 0.5z"/>
<path class="t3" d="M346.8 154.9l6.1-0.5 1.1 2.2-6.2 0.5z"/>
<path class="s2" d="M337.6 165.6l-1-2.2-0.1-7.6 1 2.1z"/>
<path class="f2" d="M337.6 165.6l6.2-0.5-0.1-7.7-6.2 0.5z"/>
<path class="t2" d="M336.5 155.8l6.2-0.5 1 2.1-6.2 0.5z"/>
<path class="s1" d="M327.2 166.4l-0.9-2.2-0.2-6.9 1 2.2z"/>
<path class="f1" d="M327.2 166.4l6.2-0.5-0.1-6.9-6.2 0.5z"/>
<path class="t1" d="M326.1 157.3l6.3-0.5 0.9 2.2-6.2 0.5z"/>
<path class="s0" d="M316.8 167.3l-0.9-2.2 0-3.1 0.8 2.2z"/>
<path class="f0" d="M316.8 167.3l6.3-0.5-0.1-3.1-6.3 0.5z"/>
<path class="t0" d="M315.9 162l6.2-0.5 0.9 2.2-6.3 0.5z"/>
<g font-family="Liberation Serif" fill="#111" stroke="#111" stroke-width="0.15">
<text transform="matrix(1.8949,-0.1609,0.3313,0.8412,324.70,179.20)" font-size="13" text-anchor="middle" dominant-baseline="central">0</text>
<text transform="matrix(1.8372,-0.1555,0.4618,0.8126,377.90,173.60)" font-size="13" text-anchor="middle" dominant-baseline="central">5</text>
<text transform="matrix(1.7723,-0.1491,0.5958,0.7790,435.20,166.90)" font-size="13" text-anchor="middle" dominant-baseline="central">10</text>
<text transform="matrix(1.9160,-0.1691,0.4872,0.8848,379.90,187.40)" font-size="13" font-style="italic" text-anchor="middle" dominant-baseline="central">n</text>
<text transform="matrix(0.1893,0.5996,-1.6165,0.1152,283.60,128.90)" font-size="13" text-anchor="middle" dominant-baseline="central">0</text>
<text transform="matrix(0.2154,0.6889,-1.7303,0.1321,288.90,148.50)" font-size="13" text-anchor="middle" dominant-baseline="central">5</text>
<text transform="matrix(0.2520,0.7858,-1.8440,0.1504,297.60,168.40)" font-size="13" text-anchor="middle" dominant-baseline="central">10</text>
<text transform="matrix(0.1707,0.7092,-1.7645,0.1359,268.90,152.80)" font-size="13" font-style="italic" text-anchor="middle" dominant-baseline="central">t</text>
</g>
<line x1="296.3" y1="209.9" x2="398.7" y2="204.5" stroke="#888" stroke-width="0.75" stroke-dasharray="3,2.5"/>
<line x1="297.8" y1="246.7" x2="397.8" y2="240.5" stroke="#888" stroke-width="0.75" stroke-dasharray="3,2.5"/>
<line x1="303.7" y1="281.5" x2="301.1" y2="209.6" stroke="#bbb" stroke-width="0.6" stroke-dasharray="4,2"/>
<line x1="392.6" y1="275.2" x2="394.1" y2="204.8" stroke="#bbb" stroke-width="0.6" stroke-dasharray="4,2"/>
<line x1="398.7" y1="204.5" x2="431.3" y2="235.8" stroke="#bbb" stroke-width="0.6"/>
<line x1="397.8" y1="240.5" x2="429.4" y2="276.7" stroke="#bbb" stroke-width="0.6"/>
<line x1="411.2" y1="293.7" x2="413.8" y2="219.0" stroke="#999" stroke-width="0.6" stroke-dasharray="4,2"/>
<line x1="427.6" y1="315.4" x2="431.3" y2="235.8" stroke="#666" stroke-width="0.7" stroke-dasharray="3,2"/>
<line x1="396.9" y1="274.9" x2="398.7" y2="204.5" stroke="#999" stroke-width="0.6" stroke-dasharray="4,2"/>
<line x1="299.2" y1="281.8" x2="296.3" y2="209.9" stroke="#bbb" stroke-width="0.6"/>
<line x1="299.2" y1="281.8" x2="296.3" y2="209.9" stroke="#333" stroke-width="1.0"/>
<path d="M299.2 281.8h-3.0M298.9 274.9h-1.6M298.6 268.0h-1.6M298.3 260.9h-1.6M298.1 253.9h-1.6M297.8 246.7h-3.0M297.5 239.5h-1.6M297.2 232.2h-1.6M296.9 224.8h-1.6M296.6 217.4h-1.6M296.3 209.9h-3.0M296.3 209.9h2.5" stroke="#333" stroke-width="0.7" fill="none"/>
<line x1="315.3" y1="324.6" x2="427.6" y2="315.4" stroke="#444" stroke-width="0.8"/>
<line x1="315.3" y1="324.6" x2="299.2" y2="281.8" stroke="#444" stroke-width="0.8"/>
<path d="M320.5 324.2L321.6 326.9M299.8 283.5L294.3 283.9M331.0 323.3L331.7 324.9M301.1 287.0L297.9 287.2M341.4 322.5L342.1 324.1M302.4 290.5L299.1 290.7M351.7 321.6L352.5 323.2M303.8 294.1L300.5 294.4M362.0 320.8L362.9 322.3M305.2 297.8L301.8 298.1M372.3 320.0L373.8 322.6M306.6 301.7L300.8 302.1M382.5 319.1L383.4 320.7M308.1 305.6L304.7 305.8M392.6 318.3L393.5 319.8M309.6 309.6L306.1 309.9M402.7 317.5L403.7 319.0M311.2 313.8L307.6 314.0M412.7 316.6L413.7 318.1M312.8 318.0L309.2 318.3M422.6 315.8L424.6 318.4M314.5 322.4L308.2 322.9" stroke="#444" stroke-width="0.6" fill="none"/>
<path class="u10" d="M389.7 275.1l0-0.8 5.3-0.4 1.2 1.6-0.1 0.8-5.2 0.4z"/>
<path class="v10" d="M389.7 274.3l5.3-0.4 1.2 1.6-5.3 0.4z"/>
<path class="u9" d="M381 275.7l0-0.8 5.3-0.4 1.1 1.6 0 0.8-5.2 0.4z"/>
<path class="v9" d="M381 274.9l5.3-0.4 1.1 1.6-5.2 0.4z"/>
<path class="u8" d="M372.3 276.3l0-0.8 5.2-0.4 1.1 1.6 0 0.9-5.2 0.3z"/>
<path class="v8" d="M372.3 275.5l5.2-0.4 1.1 1.6-5.2 0.4z"/>
<path class="u7" d="M363.5 276.1l5.3-0.4 1 1.7 0 0.8-5.3 0.4-1-1.7z"/>
<path class="v7" d="M363.5 276.1l5.3-0.4 1 1.7-5.3 0.3z"/>
<path class="u6" d="M354.7 276.7l5.3-0.3 1 1.6 0 0.8-5.4 0.4-0.9-1.6z"/>
<path class="v6" d="M354.7 276.7l5.3-0.3 1 1.6-5.4 0.4z"/>
<path class="u10" d="M392.7 279.1l0-0.8 5.3-0.4 1.2 1.7 0 0.8-5.3 0.4z"/>
<path class="v10" d="M392.7 278.3l5.3-0.4 1.2 1.7-5.3 0.4z"/>
<path class="s5" d="M346.7 279.8l-0.9-1.6-0.6-71.1 0.9 1.2z"/>
<path class="f5" d="M346.7 279.8l5.4-0.4-0.4-71.4-5.6 0.3z"/>
<path class="t5" d="M345.2 207.1l5.5-0.3 1 1.2-5.6 0.3z"/>
<path class="u4" d="M336.9 278l5.3-0.4 0.9 1.7 0.1 0.8-5.4 0.4-0.9-1.7z"/>
<path class="v4" d="M336.9 278l5.3-0.4 0.9 1.7-5.3 0.3z"/>
<path class="u9" d="M383.9 279.8l0-0.9 5.3-0.3 1.2 1.6 0 0.8-5.4 0.4z"/>
<path class="v9" d="M383.9 278.9l5.3-0.3 1.2 1.6-5.4 0.4z"/>
<path class="u3" d="M327.9 278.6l5.4-0.4 0.9 1.7 0 0.8-5.4 0.4-0.8-1.7z"/>
<path class="v3" d="M327.9 278.6l5.4-0.4 0.9 1.7-5.5 0.4z"/>
<path class="u8" d="M375 280.4l0-0.8 5.3-0.4 1.2 1.7-0.1 0.8-5.3 0.4z"/>
<path class="v8" d="M375 279.6l5.3-0.4 1.2 1.7-5.4 0.3z"/>
<path class="u2" d="M318.9 279.3l5.4-0.4 0.7 1.6 0.1 0.9-5.5 0.4-0.7-1.7z"/>
<path class="v2" d="M318.9 279.3l5.4-0.4 0.8 1.6-5.4 0.4z"/>
<path class="u1" d="M309.9 279.9l5.4-0.4 0.8 1.7 0 0.8-5.5 0.4-0.7-1.7z"/>
<path class="v1" d="M309.9 279.9l5.4-0.4 0.8 1.7-5.5 0.4z"/>
<path class="u7" d="M366.1 281l0-1.7 5.3-0.4 1.1 1.7 0 1.7-5.4 0.4z"/>
<path class="v7" d="M366.1 279.3l5.3-0.4 1.1 1.7-5.4 0.4z"/>
<path class="u0" d="M300.8 280.5l5.5-0.3 0.7 1.6 0 0.8-5.5 0.4-0.6-1.6z"/>
<path class="v0" d="M300.8 280.5l5.5-0.3 0.7 1.6-5.5 0.4z"/>
<path class="u10" d="M395.1 282.5l0-0.9 5.4-0.4 1.3 1.7-0.1 0.9-5.3 0.4z"/>
<path class="v10" d="M395.1 281.6l5.4-0.4 1.3 1.7-5.4 0.4z"/>
<path class="s6" d="M358.1 283.4l-1-1.7 0-3.5 1 1.7z"/>
<path class="f6" d="M358.1 283.4l5.4-0.4 0-3.5-5.4 0.4z"/>
<path class="t6" d="M357.1 278.2l5.4-0.3 1 1.6-5.4 0.4z"/>
<path class="s5" d="M349.1 284l-1-1.7 0-6.2 0.9 1.7z"/>
<path class="f5" d="M349.1 284l5.4-0.4 0-6.2-5.5 0.4z"/>
<path class="t5" d="M348.1 276.1l5.4-0.4 1 1.7-5.5 0.4z"/>
<path class="u9" d="M386.2 283.1l0-0.8 5.4-0.4 1.2 1.7 0 0.8-5.4 0.4z"/>
<path class="v9" d="M386.2 282.3l5.4-0.4 1.2 1.7-5.4 0.4z"/>
<path class="s4" d="M340 284.7l-0.9-1.7-0.1-8.3 0.9 1.6z"/>
<path class="f4" d="M340 284.7l5.4-0.4 0-8.4-5.5 0.4z"/>
<path class="t4" d="M339 274.7l5.4-0.4 1 1.6-5.5 0.4z"/>
<path class="u8" d="M377.2 283.8l0-0.9 5.4-0.3 1.2 1.6 0 0.9-5.5 0.4z"/>
<path class="v8" d="M377.2 282.9l5.4-0.4 1.2 1.8-5.4 0.3z"/>
<path class="s3" d="M330.8 285.3l-0.8-1.7-0.2-12.5 0.8 1.7z"/>
<path class="f3" d="M330.8 285.3l5.5-0.4-0.2-12.5-5.5 0.4z"/>
<path class="t3" d="M329.8 271.1l5.5-0.4 0.8 1.7-5.5 0.4z"/>
<path class="u7" d="M368.2 284.4l0-1.7 5.4-0.4 1.1 1.7 0 1.8-5.4 0.4z"/>
<path class="v7" d="M368.2 282.7l5.4-0.4 1.1 1.7-5.4 0.4z"/>
<path class="s2" d="M321.7 286l-0.8-1.7-0.5-17.5 0.8 1.6z"/>
<path class="f2" d="M321.7 286l5.5-0.4-0.4-17.6-5.6 0.4z"/>
<path class="t2" d="M320.4 266.8l5.6-0.4 0.8 1.6-5.6 0.4z"/>
<path class="u10" d="M397.6 285.9l0-0.9 5.4-0.4 1.4 1.8-0.1 0.8-5.4 0.4z"/>
<path class="v10" d="M397.6 285l5.5-0.3 1.3 1.7-5.5 0.4z"/>
<path class="s1" d="M312.4 286.7l-0.7-1.8-0.6-18.2 0.8 1.6z"/>
<path class="f1" d="M312.4 286.7l5.6-0.4-0.5-18.3-5.6 0.3z"/>
<path class="t1" d="M311.1 266.7l5.6-0.4 0.8 1.7-5.6 0.3z"/>
<path class="s6" d="M360.2 286.8l-1.1-1.7 0-3.5 1.1 1.7z"/>
<path class="f6" d="M360.2 286.8l5.4-0.4 0-3.5-5.4 0.4z"/>
<path class="t6" d="M359.1 281.6l5.5-0.4 1 1.7-5.4 0.4z"/>
<path class="s0" d="M303.2 287.3l-0.7-1.7-0.5-13.3 0.7 1.7z"/>
<path class="f0" d="M303.2 287.3l5.5-0.4-0.4-13.3-5.6 0.4z"/>
<path class="t0" d="M302 272.3l5.6-0.4 0.7 1.7-5.6 0.4z"/>
<path class="s5" d="M351 287.5l-1-1.8 0-6.1 1 1.7z"/>
<path class="f5" d="M351 287.5l5.5-0.4 0-6.2-5.5 0.4z"/>
<path class="t5" d="M350 279.6l5.5-0.4 1 1.7-5.5 0.4z"/>
<path class="u9" d="M388.6 286.6l0-0.9 5.4-0.4 1.3 1.8 0 0.8-5.5 0.4z"/>
<path class="v9" d="M388.6 285.7l5.4-0.4 1.3 1.8-5.5 0.4z"/>
<path class="s4" d="M341.8 288.2l-0.9-1.8-0.1-8.4 0.9 1.7z"/>
<path class="f4" d="M341.8 288.2l5.5-0.4-0.1-8.5-5.5 0.4z"/>
<path class="t4" d="M340.8 278l5.5-0.4 0.9 1.7-5.5 0.4z"/>
<path class="u8" d="M379.5 287.2l0-0.8 5.5-0.4 1.2 1.7-0.1 0.9-5.5 0.4z"/>
<path class="v8" d="M379.5 286.4l5.5-0.4 1.2 1.7-5.5 0.4z"/>
<path class="s3" d="M332.5 288.8l-0.8-1.7-0.2-12 0.8 1.7z"/>
<path class="f3" d="M332.5 288.8l5.6-0.4-0.2-12-5.6 0.4z"/>
<path class="t3" d="M331.5 275.1l5.5-0.4 0.9 1.7-5.6 0.4z"/>
<path class="u7" d="M370.4 287.9l0-1.8 5.5-0.4 1.1 1.8 0 1.7-5.5 0.5z"/>
<path class="v7" d="M370.4 286.1l5.5-0.4 1.1 1.8-5.5 0.4z"/>
<path class="s2" d="M323.2 289.5l-0.8-1.7-0.4-16.4 0.8 1.6z"/>
<path class="f2" d="M323.2 289.5l5.6-0.4-0.3-16.4-5.7 0.3z"/>
<path class="t2" d="M322 271.4l5.6-0.4 0.9 1.7-5.7 0.3z"/>
<path class="u10" d="M400.2 289.4l0-0.8 5.5-0.5 1.3 1.8 0 0.9-5.5 0.4z"/>
<path class="v10" d="M400.2 288.5l5.5-0.4 1.3 1.8-5.5 0.4z"/>
<path class="s1" d="M313.9 290.2l-0.7-1.8-0.6-17 0.8 1.7z"/>
<path class="f1" d="M313.9 290.2l5.6-0.4-0.4-17.1-5.7 0.4z"/>
<path class="t1" d="M312.6 271.4l5.7-0.4 0.8 1.7-5.7 0.4z"/>
<path class="s6" d="M362.2 290.3l-1-1.7 0-3.5 1 1.7z"/>
<path class="f6" d="M362.2 290.3l5.6-0.4 0-3.5-5.6 0.4z"/>
<path class="t6" d="M361.2 285.1l5.5-0.4 1.1 1.7-5.6 0.4z"/>
<path class="s0" d="M304.5 290.9l-0.7-1.8-0.4-12.6 0.7 1.7z"/>
<path class="f0" d="M304.5 290.9l5.7-0.4-0.5-12.7-5.6 0.4z"/>
<path class="t0" d="M303.4 276.5l5.6-0.4 0.7 1.7-5.6 0.4z"/>
<path class="u9" d="M391 290.1l0-0.9 5.6-0.4 1.2 1.8 0 0.9-5.5 0.4z"/>
<path class="v9" d="M391 289.2l5.5-0.4 1.3 1.8-5.5 0.4z"/>
<path class="s5" d="M353 291l-1-1.8-0.1-6 1 1.7z"/>
<path class="f5" d="M353 291l5.5-0.4 0-6.1-5.6 0.4z"/>
<path class="t5" d="M351.9 283.2l5.6-0.4 1 1.7-5.6 0.4z"/>
<path class="s4" d="M343.6 291.7l-0.9-1.8-0.1-8.5 1 1.8z"/>
<path class="f4" d="M343.6 291.7l5.6-0.4 0-8.5-5.6 0.4z"/>
<path class="t4" d="M342.6 281.4l5.6-0.4 1 1.8-5.6 0.4z"/>
<path class="u8" d="M381.8 290.8l0-0.9 5.6-0.4 1.2 1.8 0 0.9-5.6 0.4z"/>
<path class="v8" d="M381.8 289.9l5.6-0.4 1.2 1.8-5.6 0.4z"/>
<path class="s3" d="M334.3 292.4l-0.9-1.8-0.2-11.3 0.9 1.7z"/>
<path class="f3" d="M334.3 292.4l5.6-0.4-0.1-11.4-5.7 0.4z"/>
<path class="t3" d="M333.2 279.3l5.6-0.4 1 1.7-5.7 0.4z"/>
<path class="u7" d="M372.6 291.4l0-1.7 5.6-0.4 1.1 1.8 0 1.7-5.6 0.5z"/>
<path class="v7" d="M372.6 289.7l5.6-0.4 1.1 1.8-5.6 0.4z"/>
<path class="s2" d="M324.9 293.1l-0.8-1.8-0.4-15.3 0.8 1.8z"/>
<path class="f2" d="M324.9 293.1l5.6-0.4-0.3-15.3-5.7 0.4z"/>
<path class="t2" d="M323.7 276l5.7-0.4 0.8 1.8-5.7 0.4z"/>
<path class="u10" d="M402.8 293l0-0.9 5.6-0.4 1.4 1.8-0.1 0.9-5.5 0.4z"/>
<path class="v10" d="M402.8 292.1l5.6-0.4 1.4 1.8-5.6 0.5z"/>
<path class="s1" d="M315.4 293.8l-0.7-1.8-0.5-15.7 0.8 1.7z"/>
<path class="f1" d="M315.4 293.8l5.7-0.4-0.4-15.8-5.7 0.4z"/>
<path class="t1" d="M314.2 276.3l5.7-0.4 0.8 1.7-5.7 0.4z"/>
<path class="s6" d="M364.4 294l-1.1-1.9 0-3.5 1.1 1.8z"/>
<path class="f6" d="M364.4 294l5.6-0.5 0-3.5-5.6 0.4z"/>
<path class="t6" d="M363.3 288.6l5.6-0.4 1.1 1.8-5.6 0.4z"/>
<path class="s0" d="M305.9 294.5l-0.7-1.8-0.4-11.9 0.7 1.8z"/>
<path class="f0" d="M305.9 294.5l5.7-0.4-0.4-11.9-5.7 0.4z"/>
<path class="t0" d="M304.8 280.8l5.7-0.4 0.7 1.8-5.7 0.4z"/>
<path class="u9" d="M393.5 293.7l0.1-0.9 5.5-0.4 1.3 1.8 0 0.9-5.6 0.4z"/>
<path class="v9" d="M393.6 292.8l5.5-0.4 1.3 1.9-5.6 0.4z"/>
<path class="s5" d="M355 294.7l-1-1.9 0-5.9 1 1.8z"/>
<path class="f5" d="M355 294.7l5.6-0.4 0-6-5.6 0.4z"/>
<path class="t5" d="M354 286.9l5.6-0.4 1 1.8-5.6 0.4z"/>
<path class="s4" d="M345.6 295.4l-1-1.9-0.1-8.5 1 1.8z"/>
<path class="f4" d="M345.6 295.4l5.6-0.4 0-8.7-5.7 0.5z"/>
<path class="t4" d="M344.5 285l5.7-0.4 1 1.7-5.7 0.5z"/>
<path class="u8" d="M384.2 294.4l0-0.9 5.6-0.4 1.3 1.9 0 0.8-5.6 0.4z"/>
<path class="v8" d="M384.2 293.5l5.6-0.4 1.3 1.9-5.6 0.4z"/>
<path class="s3" d="M336.1 296.1l-0.9-1.9-0.2-10.7 0.9 1.8z"/>
<path class="f3" d="M336.1 296.1l5.7-0.4-0.2-10.8-5.7 0.4z"/>
<path class="t3" d="M335 283.5l5.7-0.4 0.9 1.8-5.7 0.4z"/>
<path class="u7" d="M374.9 295.1l0-1.8 5.6-0.4 1.2 1.8 0 1.8-5.7 0.5z"/>
<path class="v7" d="M374.9 293.3l5.6-0.4 1.2 1.8-5.6 0.5z"/>
<path class="s2" d="M326.5 296.8l-0.8-1.8-0.3-14.2 0.8 1.7z"/>
<path class="f2" d="M326.5 296.8l5.8-0.4-0.3-14.3-5.8 0.4z"/>
<path class="t2" d="M325.4 280.8l5.7-0.4 0.9 1.7-5.8 0.4z"/>
<path class="u10" d="M405.5 296.7l0-0.9 5.6-0.4 1.5 1.9-0.1 0.8-5.6 0.5z"/>
<path class="v10" d="M405.5 295.8l5.6-0.4 1.5 1.9-5.7 0.4z"/>
<path class="s1" d="M317 297.5l-0.8-1.8-0.4-14.5 0.8 1.8z"/>
<path class="f1" d="M317 297.5l5.7-0.4-0.3-14.5-5.8 0.4z"/>
<path class="t1" d="M315.8 281.2l5.7-0.4 0.9 1.8-5.8 0.4z"/>
<path class="s6" d="M366.6 297.7l-1.1-1.9 0-3.6 1.1 1.9z"/>
<path class="f6" d="M366.6 297.7l5.7-0.4 0-3.6-5.7 0.4z"/>
<path class="t6" d="M365.5 292.2l5.6-0.4 1.2 1.9-5.7 0.4z"/>
<path class="s0" d="M307.3 298.3l-0.7-1.9-0.4-11.1 0.8 1.9z"/>
<path class="f0" d="M307.3 298.3l5.8-0.5-0.3-11.1-5.8 0.5z"/>
<path class="t0" d="M306.2 285.3l5.8-0.4 0.8 1.8-5.8 0.5z"/>
<path class="u9" d="M396.1 297.4l0.1-0.9 5.6-0.4 1.3 1.9 0 0.9-5.7 0.4z"/>
<path class="v9" d="M396.1 296.5l5.7-0.4 1.3 1.9-5.6 0.4z"/>
<path class="s5" d="M357.1 298.4l-1.1-1.9 0-5.8 1.1 1.9z"/>
<path class="f5" d="M357.1 298.4l5.7-0.4 0-5.9-5.7 0.5z"/>
<path class="t5" d="M356 290.7l5.7-0.4 1.1 1.8-5.7 0.5z"/>
<path class="s4" d="M347.5 299.1l-1-1.8 0-8.7 0.9 1.8z"/>
<path class="f4" d="M347.5 299.1l5.8-0.4-0.1-8.7-5.8 0.4z"/>
<path class="t4" d="M346.5 288.6l5.7-0.4 1 1.8-5.8 0.4z"/>
<path class="u8" d="M386.7 298.1l0-0.8 5.7-0.5 1.3 1.9-0.1 0.9-5.6 0.4z"/>
<path class="v8" d="M386.7 297.3l5.7-0.5 1.3 1.9-5.7 0.5z"/>
<path class="s3" d="M337.9 299.9l-0.9-1.9-0.2-10.2 1 1.9z"/>
<path class="f3" d="M337.9 299.9l5.8-0.5-0.1-10.2-5.8 0.5z"/>
<path class="t3" d="M336.8 287.8l5.8-0.4 1 1.8-5.8 0.5z"/>
<path class="u7" d="M377.2 298.9l0-1.8 5.7-0.4 1.3 1.9 0 1.8-5.8 0.5z"/>
<path class="v7" d="M377.2 297l5.7-0.4 1.3 1.9-5.8 0.5z"/>
<path class="s2" d="M328.3 300.6l-0.9-1.9-0.3-13 0.9 1.8z"/>
<path class="f2" d="M328.3 300.6l5.8-0.4-0.3-13.1-5.8 0.4z"/>
<path class="t2" d="M327.1 285.7l5.8-0.4 0.9 1.8-5.8 0.4z"/>
<path class="u10" d="M408.3 300.5l0-0.9 5.7-0.4 1.4 1.9 0 0.9-5.7 0.4z"/>
<path class="v10" d="M408.3 299.6l5.7-0.4 1.4 1.9-5.7 0.4z"/>
<path class="s6" d="M368.8 301.5l-1.1-1.9 0-3.6 1.2 1.9z"/>
<path class="f6" d="M368.8 301.5l5.8-0.4 0-3.7-5.7 0.5z"/>
<path class="t6" d="M367.7 296l5.8-0.5 1.1 1.9-5.7 0.5z"/>
<path class="s1" d="M318.6 301.3l-0.8-1.9-0.4-13.1 0.8 1.9z"/>
<path class="f1" d="M318.6 301.3l5.8-0.4-0.3-13.2-5.9 0.5z"/>
<path class="t1" d="M317.4 286.3l5.8-0.4 0.9 1.8-5.9 0.5z"/>
<path class="s0" d="M308.8 302.1l-0.7-1.9-0.4-10.3 0.8 1.9z"/>
<path class="f0" d="M308.8 302.1l5.9-0.5-0.3-10.3-5.9 0.5z"/>
<path class="t0" d="M307.7 289.9l5.9-0.4 0.8 1.8-5.9 0.5z"/>
<path class="u9" d="M398.8 301.2l0-0.9 5.7-0.4 1.4 1.9 0 0.9-5.8 0.5z"/>
<path class="v9" d="M398.8 300.3l5.7-0.4 1.4 1.9-5.7 0.5z"/>
<path class="s5" d="M359.2 302.3l-1.1-2 0-5.7 1.1 1.9z"/>
<path class="f5" d="M359.2 302.3l5.8-0.5 0-5.8-5.8 0.5z"/>
<path class="t5" d="M358.1 294.6l5.8-0.5 1.1 1.9-5.8 0.5z"/>
<path class="s4" d="M349.5 303l-1-1.9 0-8.8 1 1.9z"/>
<path class="f4" d="M349.5 303l5.8-0.5 0-8.8-5.8 0.5z"/>
<path class="t4" d="M348.5 292.3l5.8-0.4 1 1.8-5.8 0.5z"/>
<path class="u8" d="M389.2 302l0-0.9 5.8-0.5 1.3 2 0 0.9-5.8 0.4z"/>
<path class="v8" d="M389.2 301.1l5.8-0.5 1.3 2-5.8 0.4z"/>
<path class="s3" d="M339.8 303.7l-0.9-1.9-0.2-9.5 1 1.9z"/>
<path class="f3" d="M339.8 303.7l5.8-0.4 0-9.6-5.9 0.5z"/>
<path class="t3" d="M338.7 292.3l5.9-0.5 1 1.9-5.9 0.5z"/>
<path class="u7" d="M379.6 302.7l0.1-1.8 5.7-0.5 1.3 2 0 1.8-5.8 0.5z"/>
<path class="v7" d="M379.7 300.9l5.7-0.5 1.3 2-5.8 0.4z"/>
<path class="s2" d="M330 304.5l-0.9-2-0.2-11.8 0.9 1.9z"/>
<path class="f2" d="M330 304.5l5.9-0.4-0.2-11.9-5.9 0.4z"/>
<path class="t2" d="M328.9 290.7l5.9-0.4 0.9 1.9-5.9 0.4z"/>
<path class="u10" d="M411.1 304.4l0.1-0.9 5.7-0.5 1.5 2 0 0.9-5.8 0.5z"/>
<path class="v10" d="M411.1 303.5l5.8-0.5 1.5 2-5.8 0.5z"/>
<path class="s6" d="M371.2 305.4l-1.2-1.9 0-3.7 1.2 1.9z"/>
<path class="f6" d="M371.2 305.4l5.8-0.4 0-3.7-5.8 0.4z"/>
<path class="t6" d="M370 299.8l5.8-0.5 1.2 2-5.8 0.4z"/>
<path class="s1" d="M320.2 305.3l-0.8-2-0.3-11.8 0.8 1.9z"/>
<path class="f1" d="M320.2 305.3l5.9-0.5-0.3-11.8-5.9 0.4z"/>
<path class="t1" d="M319.1 291.5l5.9-0.4 0.8 1.9-5.9 0.4z"/>
<path class="u9" d="M401.5 305.1l0-0.9 5.8-0.4 1.4 2 0 0.9-5.8 0.4z"/>
<path class="v9" d="M401.5 304.2l5.8-0.4 1.4 2-5.8 0.4z"/>
<path class="s0" d="M310.3 306l-0.7-2-0.4-9.5 0.8 2z"/>
<path class="f0" d="M310.3 306l6-0.4-0.3-9.6-6 0.5z"/>
<path class="t0" d="M309.2 294.5l6-0.4 0.8 1.9-6 0.5z"/>
<path class="s5" d="M361.4 306.2l-1.1-2 0-5.7 1.1 2z"/>
<path class="f5" d="M361.4 306.2l5.9-0.5 0-5.7-5.9 0.5z"/>
<path class="t5" d="M360.3 298.5l5.8-0.4 1.2 1.9-5.9 0.5z"/>
<path class="u8" d="M391.8 305.9l0-0.9 5.9-0.4 1.3 2 0 0.8-5.8 0.5z"/>
<path class="v8" d="M391.8 305l5.9-0.4 1.3 1.9-5.8 0.5z"/>
<path class="s4" d="M351.6 307l-1-2-0.1-8.9 1.1 1.9z"/>
<path class="f4" d="M351.6 307l5.9-0.5 0-8.9-5.9 0.4z"/>
<path class="t4" d="M350.5 296.1l5.9-0.4 1.1 1.9-5.9 0.4z"/>
<path class="s3" d="M341.7 307.7l-0.9-2-0.1-8.9 0.9 2z"/>
<path class="f3" d="M341.7 307.7l6-0.4-0.1-8.9-6 0.4z"/>
<path class="t3" d="M340.7 296.8l5.9-0.4 1 2-6 0.4z"/>
<path class="u7" d="M382.1 306.7l0-1.9 5.9-0.4 1.3 2-0.1 1.8-5.8 0.5z"/>
<path class="v7" d="M382.1 304.8l5.9-0.4 1.3 2-5.9 0.4z"/>
<path class="u10" d="M414 308.4l0.1-0.9 5.8-0.5 1.5 2 0 0.9-5.9 0.5z"/>
<path class="v10" d="M414.1 307.5l5.8-0.5 1.5 2-5.8 0.5z"/>
<path class="s2" d="M331.8 308.5l-0.9-2-0.2-10.6 0.9 1.9z"/>
<path class="f2" d="M331.8 308.5l6-0.5-0.2-10.6-6 0.4z"/>
<path class="t2" d="M330.7 295.9l6-0.5 0.9 2-6 0.4z"/>
<path class="s6" d="M373.5 309.5l-1.2-2.1 0.1-3.7 1.2 2z"/>
<path class="f6" d="M373.5 309.5l5.9-0.5 0.1-3.7-5.9 0.4z"/>
<path class="t6" d="M372.4 303.7l5.9-0.4 1.2 2-5.9 0.4z"/>
<path class="s1" d="M321.9 309.3l-0.9-2-0.2-10.5 0.8 2z"/>
<path class="f1" d="M321.9 309.3l6-0.5-0.3-10.4-6 0.4z"/>
<path class="t1" d="M320.8 296.8l5.9-0.4 0.9 2-6 0.4z"/>
<path class="u9" d="M404.3 309.1l0-0.9 5.9-0.5 1.4 2 0 0.9-5.9 0.5z"/>
<path class="v9" d="M404.3 308.3l5.9-0.5 1.4 2-5.9 0.5z"/>
<path class="s0" d="M311.9 310.1l-0.8-2.1-0.3-8.7 0.8 2z"/>
<path class="f0" d="M311.9 310.1l6-0.5-0.3-8.7-6 0.4z"/>
<path class="t0" d="M310.8 299.3l6-0.4 0.8 2-6 0.4z"/>
<path class="s5" d="M363.7 310.2l-1.2-2 0-5.5 1.2 2z"/>
<path class="f5" d="M363.7 310.2l5.9-0.4 0-5.6-5.9 0.5z"/>
<path class="t5" d="M362.5 302.7l6-0.5 1.1 2-5.9 0.5z"/>
<path class="u8" d="M394.5 309.9l0-0.9 5.9-0.4 1.4 2 0 0.9-5.9 0.5z"/>
<path class="v8" d="M394.5 309l5.9-0.4 1.4 2-5.9 0.5z"/>
<path class="s4" d="M353.7 311l-1-2-0.1-9 1.1 2z"/>
<path class="f4" d="M353.7 311l6-0.4 0-9-6 0.4z"/>
<path class="t4" d="M352.6 300l6-0.4 1.1 2-6 0.4z"/>
<path class="s3" d="M343.7 311.8l-1-2-0.1-8.3 1.1 2.1z"/>
<path class="f3" d="M343.7 311.8l6-0.5 0-8.2-6 0.5z"/>
<path class="t3" d="M342.6 301.5l6-0.4 1.1 2-6 0.5z"/>
<path class="u7" d="M384.6 310.7l0.1-1.9 5.9-0.4 1.3 2 0 1.9-5.9 0.5z"/>
<path class="v7" d="M384.7 308.9l5.9-0.5 1.3 2-5.9 0.5z"/>
<path class="u10" d="M417 312.5l0.1-0.9 5.9-0.5 1.6 2.1-0.1 0.9-5.9 0.5z"/>
<path class="v10" d="M417.1 311.6l5.9-0.5 1.5 2.1-5.9 0.5z"/>
<path class="s2" d="M333.7 312.6l-0.9-2.1-0.2-9.4 0.9 2z"/>
<path class="f2" d="M333.7 312.6l6-0.5-0.1-9.4-6.1 0.4z"/>
<path class="t2" d="M332.6 301.1l6-0.5 1 2.1-6.1 0.4z"/>
<path class="s6" d="M376 313.6l-1.2-2.1 0-3.7 1.2 2z"/>
<path class="f6" d="M376 313.6l6-0.5 0-3.7-6 0.4z"/>
<path class="t6" d="M374.8 307.8l6-0.5 1.2 2.1-6 0.4z"/>
<path class="s1" d="M323.6 313.4l-0.9-2.1-0.2-9 0.9 2.1z"/>
<path class="f1" d="M323.6 313.4l6.1-0.5-0.2-9-6.1 0.5z"/>
<path class="t1" d="M322.5 302.3l6.1-0.4 0.9 2-6.1 0.5z"/>
<path class="u9" d="M407.2 313.3l0-0.9 5.9-0.5 1.5 2.1 0 0.9-6 0.5z"/>
<path class="v9" d="M407.2 312.4l5.9-0.5 1.5 2.1-5.9 0.5z"/>
<path class="s0" d="M313.5 314.2l-0.8-2.1-0.3-7.8 0.8 2.1z"/>
<path class="f0" d="M313.5 314.2l6.1-0.5-0.2-7.8-6.2 0.5z"/>
<path class="t0" d="M312.4 304.3l6.1-0.5 0.9 2.1-6.2 0.5z"/>
<path class="s5" d="M366 314.4l-1.2-2.1 0-5.4 1.2 2.1z"/>
<path class="f5" d="M366 314.4l6-0.5 0-5.4-6 0.5z"/>
<path class="t5" d="M364.8 306.9l6-0.5 1.2 2.1-6 0.5z"/>
<path class="u8" d="M397.2 314.1l0.1-0.9 5.9-0.5 1.5 2.1-0.1 0.9-6 0.5z"/>
<path class="v8" d="M397.3 313.2l5.9-0.5 1.5 2.1-6 0.5z"/>
<path class="s4" d="M355.9 315.2l-1.1-2.1 0-9.1 1.1 2.1z"/>
<path class="f4" d="M355.9 315.2l6.1-0.5 0-9.1-6.1 0.5z"/>
<path class="t4" d="M354.8 304l6-0.4 1.2 2-6.1 0.5z"/>
<path class="s3" d="M345.8 316l-1-2.1-0.1-7.5 1 2z"/>
<path class="f3" d="M345.8 316l6.1-0.5-0.1-7.5-6.1 0.4z"/>
<path class="t3" d="M344.7 306.4l6-0.5 1.1 2.1-6.1 0.4z"/>
<path class="u7" d="M387.3 314.9l0-1.9 6-0.5 1.4 2.1-0.1 1.9-6 0.5z"/>
<path class="v7" d="M387.3 313l6-0.5 1.4 2.1-6.1 0.5z"/>
<path class="s2" d="M335.6 316.8l-0.9-2.1-0.2-8.2 1 2.1z"/>
<path class="f2" d="M335.6 316.8l6.1-0.4-0.1-8.3-6.1 0.5z"/>
<path class="t2" d="M334.5 306.5l6.1-0.4 1 2-6.1 0.5z"/>
<path class="s6" d="M378.5 317.9l-1.3-2.2 0.1-3.8 1.3 2.1z"/>
<path class="f6" d="M378.5 317.9l6.1-0.5 0-3.8-6 0.4z"/>
<path class="t6" d="M377.3 311.9l6-0.5 1.3 2.2-6 0.4z"/>
<path class="s1" d="M325.4 317.7l-0.9-2.2-0.2-7.6 0.9 2.1z"/>
<path class="f1" d="M325.4 317.7l6.1-0.5-0.1-7.6-6.2 0.4z"/>
<path class="t1" d="M324.3 307.9l6.1-0.4 1 2.1-6.2 0.4z"/>
<path class="s0" d="M315.1 318.5l-0.8-2.2-0.2-6.9 0.8 2.1z"/>
<path class="f0" d="M315.1 318.5l6.2-0.5-0.2-7-6.2 0.5z"/>
<path class="t0" d="M314.1 309.4l6.1-0.5 0.9 2.1-6.2 0.5z"/>
<path class="s5" d="M368.4 318.7l-1.2-2.2 0-5.3 1.2 2.1z"/>
<path class="f5" d="M368.4 318.7l6.1-0.5 0-5.4-6.1 0.5z"/>
<path class="t5" d="M367.2 311.2l6.1-0.5 1.2 2.1-6.1 0.5z"/>
<path class="s4" d="M358.2 319.5l-1.2-2.1 0-9.2 1.1 2.1z"/>
<path class="f4" d="M358.2 319.5l6.1-0.5 0-9.2-6.2 0.5z"/>
<path class="t4" d="M357 308.2l6.1-0.5 1.2 2.1-6.2 0.5z"/>
<path class="s3" d="M347.9 320.4l-1.1-2.2 0-6.9 1 2.1z"/>
<path class="f3" d="M347.9 320.4l6.2-0.5-0.1-7-6.2 0.5z"/>
<path class="t3" d="M346.8 311.3l6.1-0.5 1.1 2.1-6.2 0.5z"/>
<path class="s2" d="M337.6 321.2l-1-2.2-0.1-6.9 1 2.2z"/>
<path class="f2" d="M337.6 321.2l6.2-0.5-0.1-6.9-6.2 0.5z"/>
<path class="t2" d="M336.5 312.1l6.2-0.5 1 2.2-6.2 0.5z"/>
<path class="s1" d="M327.2 322l-0.9-2.2-0.1-6.1 0.9 2.2z"/>
<path class="f1" d="M327.2 322l6.2-0.5-0.1-6.1-6.2 0.5z"/>
<path class="t1" d="M326.2 313.7l6.2-0.5 0.9 2.2-6.2 0.5z"/>
<path class="s0" d="M316.8 322.9l-0.9-2.2-0.1-6.2 0.8 2.2z"/>
<path class="f0" d="M316.8 322.9l6.3-0.5-0.2-6.2-6.3 0.5z"/>
<path class="t0" d="M315.8 314.5l6.2-0.5 0.9 2.2-6.3 0.5z"/>
<g font-family="Liberation Serif" fill="#111" stroke="#111" stroke-width="0.15">
<text transform="matrix(1.8949,-0.1609,0.3313,0.8412,324.70,334.80)" font-size="13" text-anchor="middle" dominant-baseline="central">0</text>
<text transform="matrix(1.8372,-0.1555,0.4618,0.8126,377.90,329.20)" font-size="13" text-anchor="middle" dominant-baseline="central">5</text>
<text transform="matrix(1.7723,-0.1491,0.5958,0.7790,435.20,322.50)" font-size="13" text-anchor="middle" dominant-baseline="central">10</text>
<text transform="matrix(1.9160,-0.1691,0.4872,0.8848,379.90,343.00)" font-size="13" font-style="italic" text-anchor="middle" dominant-baseline="central">n</text>
<text transform="matrix(0.1893,0.5996,-1.6165,0.1152,283.60,284.50)" font-size="13" text-anchor="middle" dominant-baseline="central">0</text>
<text transform="matrix(0.2154,0.6889,-1.7303,0.1321,288.90,304.10)" font-size="13" text-anchor="middle" dominant-baseline="central">5</text>
<text transform="matrix(0.2520,0.7858,-1.8440,0.1504,297.60,324.00)" font-size="13" text-anchor="middle" dominant-baseline="central">10</text>
<text transform="matrix(0.1707,0.7092,-1.7645,0.1359,268.90,308.40)" font-size="13" font-style="italic" text-anchor="middle" dominant-baseline="central">t</text>
</g>
<line x1="296.3" y1="369.3" x2="398.7" y2="363.9" stroke="#888" stroke-width="0.75" stroke-dasharray="3,2.5"/>
<line x1="297.8" y1="406.1" x2="397.8" y2="399.9" stroke="#888" stroke-width="0.75" stroke-dasharray="3,2.5"/>
<line x1="303.7" y1="440.9" x2="301.1" y2="369.0" stroke="#bbb" stroke-width="0.6" stroke-dasharray="4,2"/>
<line x1="392.6" y1="434.6" x2="394.1" y2="364.2" stroke="#bbb" stroke-width="0.6" stroke-dasharray="4,2"/>
<line x1="398.7" y1="363.9" x2="431.3" y2="395.2" stroke="#bbb" stroke-width="0.6"/>
<line x1="397.8" y1="399.9" x2="429.4" y2="436.1" stroke="#bbb" stroke-width="0.6"/>
<line x1="411.2" y1="453.1" x2="413.8" y2="378.4" stroke="#999" stroke-width="0.6" stroke-dasharray="4,2"/>
<line x1="427.6" y1="474.8" x2="431.3" y2="395.2" stroke="#666" stroke-width="0.7" stroke-dasharray="3,2"/>
<line x1="396.9" y1="434.3" x2="398.7" y2="363.9" stroke="#999" stroke-width="0.6" stroke-dasharray="4,2"/>
<line x1="299.2" y1="441.2" x2="296.3" y2="369.3" stroke="#bbb" stroke-width="0.6"/>
<line x1="299.2" y1="441.2" x2="296.3" y2="369.3" stroke="#333" stroke-width="1.0"/>
<path d="M299.2 441.2h-3.0M298.9 434.3h-1.6M298.6 427.4h-1.6M298.3 420.3h-1.6M298.1 413.3h-1.6M297.8 406.1h-3.0M297.5 398.9h-1.6M297.2 391.6h-1.6M296.9 384.2h-1.6M296.6 376.8h-1.6M296.3 369.3h-3.0M296.3 369.3h2.5" stroke="#333" stroke-width="0.7" fill="none"/>
<line x1="315.3" y1="484.0" x2="427.6" y2="474.8" stroke="#444" stroke-width="0.8"/>
<line x1="315.3" y1="484.0" x2="299.2" y2="441.2" stroke="#444" stroke-width="0.8"/>
<path d="M320.5 483.6L321.6 486.3M299.8 442.9L294.3 443.3M331.0 482.7L331.7 484.3M301.1 446.4L297.9 446.6M341.4 481.9L342.1 483.5M302.4 449.9L299.1 450.1M351.7 481.0L352.5 482.6M303.8 453.5L300.5 453.8M362.0 480.2L362.9 481.7M305.2 457.2L301.8 457.5M372.3 479.4L373.8 482.0M306.6 461.1L300.8 461.5M382.5 478.5L383.4 480.1M308.1 465.0L304.7 465.2M392.6 477.7L393.5 479.2M309.6 469.0L306.1 469.3M402.7 476.9L403.7 478.4M311.2 473.2L307.6 473.4M412.7 476.0L413.7 477.5M312.8 477.4L309.2 477.7M422.6 475.2L424.6 477.8M314.5 481.8L308.2 482.3" stroke="#444" stroke-width="0.6" fill="none"/>
<path class="u10" d="M389.7 434.5l0-0.8 5.3-0.4 1.2 1.6-0.1 0.8-5.2 0.4z"/>
<path class="v10" d="M389.7 433.7l5.3-0.4 1.2 1.6-5.3 0.4z"/>
<path class="u9" d="M381 435.1l0-0.8 5.3-0.4 1.1 1.6 0 0.8-5.2 0.4z"/>
<path class="v9" d="M381 434.3l5.3-0.4 1.1 1.6-5.2 0.4z"/>
<path class="u8" d="M372.3 435.7l0-0.8 5.2-0.4 1.1 1.6 0 0.9-5.2 0.3z"/>
<path class="v8" d="M372.3 434.9l5.2-0.4 1.1 1.6-5.2 0.4z"/>
<path class="u7" d="M363.5 435.5l5.3-0.4 1 1.7 0 0.8-5.3 0.4-1-1.7z"/>
<path class="v7" d="M363.5 435.5l5.3-0.4 1 1.7-5.3 0.3z"/>
<path class="u6" d="M354.7 436.1l5.3-0.3 1 1.6 0 0.8-5.4 0.4-0.9-1.6z"/>
<path class="v6" d="M354.7 436.1l5.3-0.3 1 1.6-5.4 0.4z"/>
<path class="s10" d="M393.9 440.2l-1.2-1.7 0.2-7.8 1.2 1.6z"/>
<path class="f10" d="M393.9 440.2l5.3-0.4 0.2-7.9-5.3 0.4z"/>
<path class="t10" d="M392.9 430.7l5.3-0.4 1.2 1.6-5.3 0.4z"/>
<path class="s5" d="M346.7 439.2l-0.9-1.6-0.6-71.1 0.9 1.2z"/>
<path class="f5" d="M346.7 439.2l5.4-0.4-0.4-71.4-5.6 0.3z"/>
<path class="t5" d="M345.2 366.5l5.5-0.3 1 1.2-5.6 0.3z"/>
<path class="u4" d="M336.9 437.4l5.3-0.4 0.9 1.7 0.1 0.8-5.4 0.4-0.9-1.7z"/>
<path class="v4" d="M336.9 437.4l5.3-0.4 0.9 1.7-5.3 0.3z"/>
<path class="s9" d="M385 440.8l-1.1-1.6 0.1-7.9 1.2 1.6z"/>
<path class="f9" d="M385 440.8l5.4-0.4 0.1-7.9-5.3 0.4z"/>
<path class="t9" d="M384 431.3l5.3-0.4 1.2 1.6-5.3 0.4z"/>
<path class="u3" d="M327.9 438l5.4-0.4 0.9 1.7 0 0.8-5.4 0.4-0.8-1.7z"/>
<path class="v3" d="M327.9 438l5.4-0.4 0.9 1.7-5.5 0.4z"/>
<path class="u2" d="M318.9 438.7l5.4-0.4 0.7 1.6 0.1 0.9-5.5 0.4-0.7-1.7z"/>
<path class="v2" d="M318.9 438.7l5.4-0.4 0.8 1.6-5.4 0.4z"/>
<path class="s8" d="M376.1 441.5l-1.1-1.7 0.1-7.9 1.1 1.6z"/>
<path class="f8" d="M376.1 441.5l5.4-0.4 0.1-8-5.4 0.4z"/>
<path class="t8" d="M375.1 431.9l5.3-0.4 1.2 1.6-5.4 0.4z"/>
<path class="u1" d="M309.9 439.3l5.4-0.4 0.8 1.7 0 0.8-5.5 0.4-0.7-1.7z"/>
<path class="v1" d="M309.9 439.3l5.4-0.4 0.8 1.7-5.5 0.4z"/>
<path class="s7" d="M367.1 442.1l-1-1.7 0-7.9 1.1 1.7z"/>
<path class="f7" d="M367.1 442.1l5.4-0.4 0.1-7.9-5.4 0.4z"/>
<path class="t7" d="M366.1 432.5l5.4-0.4 1.1 1.7-5.4 0.4z"/>
<path class="u0" d="M300.8 439.9l5.5-0.3 0.7 1.6 0 0.8-5.5 0.4-0.6-1.6z"/>
<path class="v0" d="M300.8 439.9l5.5-0.3 0.7 1.6-5.5 0.4z"/>
<path class="s10" d="M396.4 443.6l-1.3-1.7 0.2-7 1.2 1.7z"/>
<path class="f10" d="M396.4 443.6l5.3-0.4 0.2-7-5.4 0.4z"/>
<path class="t10" d="M395.3 434.9l5.4-0.3 1.2 1.6-5.4 0.4z"/>
<path class="s6" d="M358.1 442.8l-1-1.7 0-8 1 1.7z"/>
<path class="f6" d="M358.1 442.8l5.4-0.4 0-8-5.4 0.4z"/>
<path class="t6" d="M357.1 433.1l5.4-0.3 1 1.6-5.4 0.4z"/>
<path class="s5" d="M349.1 443.4l-1-1.7 0-6.2 0.9 1.7z"/>
<path class="f5" d="M349.1 443.4l5.4-0.4 0-6.2-5.5 0.4z"/>
<path class="t5" d="M348.1 435.5l5.4-0.4 1 1.7-5.5 0.4z"/>
<path class="s9" d="M387.4 444.2l-1.2-1.7 0.1-6.9 1.2 1.7z"/>
<path class="f9" d="M387.4 444.2l5.4-0.4 0.1-6.9-5.4 0.4z"/>
<path class="t9" d="M386.3 435.6l5.4-0.4 1.2 1.7-5.4 0.4z"/>
<path class="s4" d="M340 444.1l-0.9-1.7-0.1-8 0.9 1.7z"/>
<path class="f4" d="M340 444.1l5.4-0.4 0-8-5.5 0.4z"/>
<path class="t4" d="M339 434.4l5.4-0.4 1 1.7-5.5 0.4z"/>
<path class="s8" d="M378.3 444.9l-1.1-1.7 0.1-7 1.1 1.7z"/>
<path class="f8" d="M378.3 444.9l5.5-0.4 0.1-7-5.5 0.4z"/>
<path class="t8" d="M377.3 436.2l5.4-0.4 1.2 1.7-5.5 0.4z"/>
<path class="s3" d="M330.8 444.7l-0.8-1.7-0.2-7.9 0.9 1.6z"/>
<path class="f3" d="M330.8 444.7l5.5-0.4-0.1-8-5.5 0.4z"/>
<path class="t3" d="M329.8 435.1l5.5-0.4 0.9 1.6-5.5 0.4z"/>
<path class="s7" d="M369.3 445.5l-1.1-1.7 0-6.9 1.1 1.7z"/>
<path class="f7" d="M369.3 445.5l5.4-0.4 0.1-6.9-5.5 0.4z"/>
<path class="t7" d="M368.2 436.9l5.5-0.4 1.1 1.7-5.5 0.4z"/>
<path class="s2" d="M321.7 445.4l-0.8-1.7-0.2-8 0.8 1.7z"/>
<path class="f2" d="M321.7 445.4l5.5-0.4-0.2-8-5.5 0.4z"/>
<path class="t2" d="M320.7 435.7l5.5-0.4 0.8 1.7-5.5 0.4z"/>
<path class="s1" d="M312.4 446.1l-0.7-1.8-0.2-8 0.7 1.7z"/>
<path class="f1" d="M312.4 446.1l5.6-0.4-0.3-8.1-5.5 0.4z"/>
<path class="t1" d="M311.5 436.3l5.5-0.4 0.7 1.7-5.5 0.4z"/>
<path class="s10" d="M398.9 447l-1.3-1.7 0.2-6.3 1.3 1.7z"/>
<path class="f10" d="M398.9 447l5.4-0.4 0.2-6.3-5.4 0.4z"/>
<path class="t10" d="M397.8 439l5.4-0.4 1.3 1.7-5.4 0.4z"/>
<path class="s6" d="M360.2 446.2l-1.1-1.7 0-7 1.1 1.7z"/>
<path class="f6" d="M360.2 446.2l5.4-0.4 0.1-7-5.5 0.4z"/>
<path class="t6" d="M359.1 437.5l5.5-0.4 1.1 1.7-5.5 0.4z"/>
<path class="s0" d="M303.2 446.7l-0.7-1.7-0.3-8 0.7 1.7z"/>
<path class="f0" d="M303.2 446.7l5.5-0.4-0.2-8-5.6 0.4z"/>
<path class="t0" d="M302.2 437l5.6-0.4 0.7 1.7-5.6 0.4z"/>
<path class="s5" d="M351 446.9l-1-1.8 0-6.2 1 1.7z"/>
<path class="f5" d="M351 446.9l5.5-0.4 0-6.3-5.5 0.4z"/>
<path class="t5" d="M350 438.9l5.5-0.4 1 1.7-5.5 0.4z"/>
<path class="s9" d="M389.8 447.7l-1.2-1.7 0.1-6.3 1.2 1.7z"/>
<path class="f9" d="M389.8 447.7l5.5-0.4 0.1-6.3-5.5 0.4z"/>
<path class="t9" d="M388.7 439.7l5.5-0.4 1.2 1.7-5.5 0.4z"/>
<path class="s4" d="M341.8 447.6l-0.9-1.8-0.1-7 0.9 1.7z"/>
<path class="f4" d="M341.8 447.6l5.5-0.4 0-7.1-5.6 0.4z"/>
<path class="t4" d="M340.8 438.8l5.5-0.4 1 1.7-5.6 0.4z"/>
<path class="s8" d="M380.7 448.4l-1.2-1.8 0.1-6.3 1.1 1.7z"/>
<path class="f8" d="M380.7 448.4l5.4-0.4 0.2-6.4-5.6 0.4z"/>
<path class="t8" d="M379.6 440.3l5.5-0.4 1.2 1.7-5.6 0.4z"/>
<path class="s3" d="M332.5 448.2l-0.8-1.7-0.1-7 0.8 1.7z"/>
<path class="f3" d="M332.5 448.2l5.6-0.4-0.1-7-5.6 0.4z"/>
<path class="t3" d="M331.6 439.5l5.5-0.4 0.9 1.7-5.6 0.4z"/>
<path class="s7" d="M371.5 449.1l-1.1-1.8 0-6.3 1.1 1.7z"/>
<path class="f7" d="M371.5 449.1l5.5-0.4 0.1-6.4-5.6 0.4z"/>
<path class="t7" d="M370.4 441l5.5-0.4 1.2 1.7-5.6 0.4z"/>
<path class="s2" d="M323.2 448.9l-0.8-1.7-0.1-7.1 0.8 1.8z"/>
<path class="f2" d="M323.2 448.9l5.6-0.4-0.1-7-5.6 0.4z"/>
<path class="t2" d="M322.3 440.1l5.5-0.4 0.9 1.8-5.6 0.4z"/>
<path class="s10" d="M401.5 450.6l-1.3-1.8 0.2-6.4 1.3 1.8z"/>
<path class="f10" d="M401.5 450.6l5.5-0.4 0.2-6.4-5.5 0.4z"/>
<path class="t10" d="M400.4 442.4l5.4-0.4 1.4 1.8-5.5 0.4z"/>
<path class="s1" d="M313.9 449.6l-0.7-1.8-0.3-7 0.8 1.7z"/>
<path class="f1" d="M313.9 449.6l5.6-0.4-0.2-7.1-5.6 0.4z"/>
<path class="t1" d="M312.9 440.8l5.6-0.4 0.8 1.7-5.6 0.4z"/>
<path class="s6" d="M362.2 449.7l-1-1.7 0-6.4 1.1 1.8z"/>
<path class="f6" d="M362.2 449.7l5.6-0.4 0-6.3-5.5 0.4z"/>
<path class="t6" d="M361.2 441.6l5.5-0.4 1.1 1.8-5.5 0.4z"/>
<path class="s0" d="M304.5 450.3l-0.7-1.8-0.2-7 0.7 1.7z"/>
<path class="f0" d="M304.5 450.3l5.7-0.4-0.3-7.1-5.6 0.4z"/>
<path class="t0" d="M303.6 441.5l5.6-0.4 0.7 1.7-5.6 0.4z"/>
<path class="s9" d="M392.3 451.3l-1.3-1.8 0.2-6.4 1.2 1.8z"/>
<path class="f9" d="M392.3 451.3l5.5-0.4 0.2-6.4-5.6 0.4z"/>
<path class="t9" d="M391.2 443.1l5.5-0.4 1.3 1.8-5.6 0.4z"/>
<path class="s5" d="M353 450.4l-1-1.8-0.1-6.3 1 1.8z"/>
<path class="f5" d="M353 450.4l5.5-0.4 0-6.3-5.6 0.4z"/>
<path class="t5" d="M351.9 442.3l5.6-0.4 1 1.8-5.6 0.4z"/>
<path class="s4" d="M343.6 451.1l-0.9-1.8-0.1-6.3 1 1.7z"/>
<path class="f4" d="M343.6 451.1l5.6-0.4 0-6.4-5.6 0.4z"/>
<path class="t4" d="M342.6 443l5.6-0.4 1 1.7-5.6 0.4z"/>
<path class="s8" d="M383 452l-1.2-1.8 0.1-6.4 1.2 1.8z"/>
<path class="f8" d="M383 452l5.6-0.4 0.1-6.5-5.6 0.5z"/>
<path class="t8" d="M381.9 443.8l5.6-0.4 1.2 1.7-5.6 0.5z"/>
<path class="s3" d="M334.3 451.8l-0.9-1.8-0.1-6.4 0.9 1.8z"/>
<path class="f3" d="M334.3 451.8l5.6-0.4-0.1-6.4-5.6 0.4z"/>
<path class="t3" d="M333.3 443.6l5.6-0.4 0.9 1.8-5.6 0.4z"/>
<path class="s7" d="M373.7 452.7l-1.1-1.8 0-6.4 1.2 1.7z"/>
<path class="f7" d="M373.7 452.7l5.6-0.5 0.1-6.4-5.6 0.4z"/>
<path class="t7" d="M372.6 444.5l5.6-0.4 1.2 1.7-5.6 0.4z"/>
<path class="s2" d="M324.9 452.5l-0.8-1.8-0.2-6.4 0.8 1.8z"/>
<path class="f2" d="M324.9 452.5l5.6-0.4-0.1-6.4-5.7 0.4z"/>
<path class="t2" d="M323.9 444.3l5.6-0.4 0.9 1.8-5.7 0.4z"/>
<path class="s10" d="M404.1 454.2l-1.3-1.8 0.2-6.4 1.3 1.8z"/>
<path class="f10" d="M404.1 454.2l5.6-0.4 0.2-6.4-5.6 0.4z"/>
<path class="t10" d="M403 446l5.6-0.4 1.3 1.8-5.6 0.4z"/>
<path class="s1" d="M315.4 453.2l-0.7-1.8-0.2-6.4 0.7 1.8z"/>
<path class="f1" d="M315.4 453.2l5.7-0.4-0.2-6.4-5.7 0.4z"/>
<path class="t1" d="M314.5 445l5.6-0.4 0.8 1.8-5.7 0.4z"/>
<path class="s6" d="M364.4 453.4l-1.1-1.9 0-6.4 1.1 1.8z"/>
<path class="f6" d="M364.4 453.4l5.6-0.5 0-6.4-5.6 0.4z"/>
<path class="t6" d="M363.3 445.1l5.6-0.4 1.1 1.8-5.6 0.4z"/>
<path class="s0" d="M305.9 453.9l-0.7-1.8-0.2-6.4 0.7 1.8z"/>
<path class="f0" d="M305.9 453.9l5.7-0.4-0.2-6.4-5.7 0.4z"/>
<path class="t0" d="M305 445.7l5.7-0.4 0.7 1.8-5.7 0.4z"/>
<path class="s9" d="M394.8 454.9l-1.3-1.8 0.2-6.4 1.3 1.8z"/>
<path class="f9" d="M394.8 454.9l5.6-0.4 0.2-6.4-5.6 0.4z"/>
<path class="t9" d="M393.7 446.7l5.6-0.5 1.3 1.9-5.6 0.4z"/>
<path class="s5" d="M355 454.1l-1-1.9-0.1-6.4 1.1 1.8z"/>
<path class="f5" d="M355 454.1l5.6-0.4 0-6.5-5.6 0.4z"/>
<path class="t5" d="M353.9 445.8l5.7-0.4 1 1.8-5.6 0.4z"/>
<path class="s4" d="M345.6 454.8l-1-1.9-0.1-6.4 1 1.8z"/>
<path class="f4" d="M345.6 454.8l5.6-0.4 0-6.5-5.7 0.4z"/>
<path class="t4" d="M344.5 446.5l5.7-0.4 1 1.8-5.7 0.4z"/>
<path class="s8" d="M385.5 455.7l-1.3-1.9 0.1-6.4 1.3 1.8z"/>
<path class="f8" d="M385.5 455.7l5.6-0.5 0.1-6.4-5.6 0.4z"/>
<path class="t8" d="M384.3 447.4l5.7-0.5 1.2 1.9-5.6 0.4z"/>
<path class="s3" d="M336.1 455.5l-0.9-1.9-0.1-6.4 0.9 1.8z"/>
<path class="f3" d="M336.1 455.5l5.7-0.4-0.1-6.5-5.7 0.4z"/>
<path class="t3" d="M335.1 447.2l5.7-0.4 0.9 1.8-5.7 0.4z"/>
<path class="s7" d="M376 456.4l-1.1-1.9 0-6.5 1.2 1.9z"/>
<path class="f7" d="M376 456.4l5.7-0.5 0.1-6.4-5.7 0.4z"/>
<path class="t7" d="M374.9 448l5.7-0.4 1.2 1.9-5.7 0.4z"/>
<path class="s2" d="M326.5 456.2l-0.8-1.8-0.1-6.5 0.8 1.8z"/>
<path class="f2" d="M326.5 456.2l5.8-0.4-0.1-6.5-5.8 0.4z"/>
<path class="t2" d="M325.6 447.9l5.7-0.4 0.9 1.8-5.8 0.4z"/>
<path class="s10" d="M406.9 458l-1.4-1.9 0.2-6.5 1.4 1.8z"/>
<path class="f10" d="M406.9 458l5.6-0.5 0.3-6.5-5.7 0.4z"/>
<path class="t10" d="M405.7 449.6l5.6-0.4 1.5 1.8-5.7 0.4z"/>
<path class="s1" d="M317 456.9l-0.8-1.8-0.2-6.5 0.8 1.8z"/>
<path class="f1" d="M317 456.9l5.7-0.4-0.1-6.5-5.8 0.4z"/>
<path class="t1" d="M316 448.6l5.7-0.4 0.9 1.8-5.8 0.4z"/>
<path class="s6" d="M366.6 457.1l-1.1-1.9 0-6.5 1.1 1.9z"/>
<path class="f6" d="M366.6 457.1l5.7-0.4 0-6.5-5.7 0.4z"/>
<path class="t6" d="M365.5 448.7l5.7-0.4 1.1 1.9-5.7 0.4z"/>
<path class="s0" d="M307.3 457.7l-0.7-1.9-0.2-6.5 0.7 1.8z"/>
<path class="f0" d="M307.3 457.7l5.8-0.5-0.2-6.5-5.8 0.4z"/>
<path class="t0" d="M306.4 449.3l5.8-0.4 0.7 1.8-5.8 0.4z"/>
<path class="s9" d="M397.4 458.7l-1.3-1.9 0.2-6.5 1.3 1.9z"/>
<path class="f9" d="M397.4 458.7l5.7-0.4 0.2-6.6-5.7 0.5z"/>
<path class="t9" d="M396.3 450.3l5.6-0.4 1.4 1.8-5.7 0.5z"/>
<path class="s5" d="M357.1 457.8l-1.1-1.9 0-6.4 1.1 1.8z"/>
<path class="f5" d="M357.1 457.8l5.7-0.4 0-6.5-5.7 0.4z"/>
<path class="t5" d="M356 449.5l5.7-0.5 1.1 1.9-5.7 0.4z"/>
<path class="s4" d="M347.5 458.5l-1-1.8 0-6.5 1 1.8z"/>
<path class="f4" d="M347.5 458.5l5.8-0.4-0.1-6.5-5.7 0.4z"/>
<path class="t4" d="M346.5 450.2l5.7-0.5 1 1.9-5.7 0.4z"/>
<path class="s8" d="M388 459.4l-1.3-1.9 0.1-6.5 1.3 1.9z"/>
<path class="f8" d="M388 459.4l5.7-0.4 0.1-6.5-5.7 0.4z"/>
<path class="t8" d="M386.8 451l5.7-0.4 1.3 1.9-5.7 0.4z"/>
<path class="s3" d="M337.9 459.3l-0.9-1.9-0.1-6.5 0.9 1.8z"/>
<path class="f3" d="M337.9 459.3l5.8-0.5-0.1-6.5-5.8 0.4z"/>
<path class="t3" d="M336.9 450.9l5.7-0.5 1 1.9-5.8 0.4z"/>
<path class="s7" d="M378.4 460.2l-1.2-1.9 0.1-6.6 1.2 1.9z"/>
<path class="f7" d="M378.4 460.2l5.7-0.5 0.2-6.5-5.8 0.4z"/>
<path class="t7" d="M377.3 451.7l5.7-0.4 1.3 1.9-5.8 0.4z"/>
<path class="s2" d="M328.3 460l-0.9-1.9-0.1-6.5 0.8 1.9z"/>
<path class="f2" d="M328.3 460l5.8-0.4-0.2-6.6-5.8 0.5z"/>
<path class="t2" d="M327.3 451.6l5.7-0.4 0.9 1.8-5.8 0.5z"/>
<path class="s10" d="M409.7 461.8l-1.4-1.9 0.2-6.6 1.4 1.9z"/>
<path class="f10" d="M409.7 461.8l5.7-0.4 0.2-6.6-5.7 0.4z"/>
<path class="t10" d="M408.5 453.3l5.7-0.4 1.4 1.9-5.7 0.4z"/>
<path class="s6" d="M368.8 460.9l-1.1-1.9 0-6.6 1.2 1.9z"/>
<path class="f6" d="M368.8 460.9l5.8-0.4 0.1-6.6-5.8 0.4z"/>
<path class="t6" d="M367.7 452.4l5.8-0.4 1.2 1.9-5.8 0.4z"/>
<path class="s1" d="M318.6 460.7l-0.8-1.9-0.2-6.5 0.8 1.9z"/>
<path class="f1" d="M318.6 460.7l5.8-0.4-0.2-6.6-5.8 0.5z"/>
<path class="t1" d="M317.6 452.3l5.8-0.4 0.8 1.8-5.8 0.5z"/>
<path class="s0" d="M308.8 461.5l-0.7-1.9-0.2-6.6 0.7 1.9z"/>
<path class="f0" d="M308.8 461.5l5.9-0.5-0.2-6.5-5.9 0.4z"/>
<path class="t0" d="M307.9 453l5.8-0.4 0.8 1.9-5.9 0.4z"/>
<path class="s9" d="M400.1 462.6l-1.3-2 0.1-6.6 1.4 2z"/>
<path class="f9" d="M400.1 462.6l5.8-0.5 0.2-6.6-5.8 0.5z"/>
<path class="t9" d="M398.9 454l5.8-0.4 1.4 1.9-5.8 0.5z"/>
<path class="s5" d="M359.2 461.7l-1.1-2 0-6.5 1.1 1.9z"/>
<path class="f5" d="M359.2 461.7l5.8-0.5 0-6.6-5.8 0.5z"/>
<path class="t5" d="M358.1 453.2l5.8-0.5 1.1 1.9-5.8 0.5z"/>
<path class="s4" d="M349.5 462.4l-1-1.9 0-6.6 1 1.9z"/>
<path class="f4" d="M349.5 462.4l5.8-0.5 0-6.5-5.8 0.4z"/>
<path class="t4" d="M348.5 453.9l5.8-0.4 1 1.9-5.8 0.4z"/>
<path class="s8" d="M390.5 463.3l-1.3-1.9 0.2-6.6 1.3 1.9z"/>
<path class="f8" d="M390.5 463.3l5.8-0.4 0.2-6.7-5.8 0.5z"/>
<path class="t8" d="M389.4 454.8l5.7-0.5 1.4 1.9-5.8 0.5z"/>
<path class="s3" d="M339.8 463.1l-0.9-1.9-0.1-6.6 0.9 1.9z"/>
<path class="f3" d="M339.8 463.1l5.8-0.4 0-6.6-5.9 0.4z"/>
<path class="t3" d="M338.8 454.6l5.8-0.4 1 1.9-5.9 0.4z"/>
<path class="s7" d="M380.9 464.1l-1.3-2 0.1-6.6 1.3 1.9z"/>
<path class="f7" d="M380.9 464.1l5.8-0.5 0.1-6.6-5.8 0.4z"/>
<path class="t7" d="M379.7 455.5l5.8-0.4 1.3 1.9-5.8 0.4z"/>
<path class="s2" d="M330 463.9l-0.9-2-0.1-6.5 0.9 1.9z"/>
<path class="f2" d="M330 463.9l5.9-0.4-0.1-6.7-5.9 0.5z"/>
<path class="t2" d="M329 455.4l5.9-0.5 0.9 1.9-5.9 0.5z"/>
<path class="s10" d="M412.6 465.8l-1.5-2 0.2-6.7 1.5 2z"/>
<path class="f10" d="M412.6 465.8l5.8-0.5 0.2-6.7-5.8 0.5z"/>
<path class="t10" d="M411.3 457.1l5.8-0.4 1.5 1.9-5.8 0.5z"/>
<path class="s6" d="M371.2 464.8l-1.2-1.9 0-6.7 1.2 2z"/>
<path class="f6" d="M371.2 464.8l5.8-0.4 0.1-6.7-5.9 0.5z"/>
<path class="t6" d="M370 456.2l5.9-0.4 1.2 1.9-5.9 0.5z"/>
<path class="s1" d="M320.2 464.7l-0.8-2-0.2-6.6 0.8 1.9z"/>
<path class="f1" d="M320.2 464.7l5.9-0.5-0.1-6.6-6 0.4z"/>
<path class="t1" d="M319.2 456.1l5.9-0.5 0.9 2-6 0.4z"/>
<path class="s9" d="M402.9 466.5l-1.4-2 0.2-6.6 1.4 1.9z"/>
<path class="f9" d="M402.9 466.5l5.8-0.4 0.2-6.7-5.8 0.4z"/>
<path class="t9" d="M401.7 457.9l5.8-0.5 1.4 2-5.8 0.4z"/>
<path class="s0" d="M310.3 465.4l-0.7-2-0.3-6.6 0.8 2z"/>
<path class="f0" d="M310.3 465.4l6-0.4-0.2-6.7-6 0.5z"/>
<path class="t0" d="M309.3 456.8l6-0.4 0.8 1.9-6 0.5z"/>
<path class="s5" d="M361.4 465.6l-1.1-2 0-6.6 1.1 1.9z"/>
<path class="f5" d="M361.4 465.6l5.9-0.5 0-6.6-5.9 0.4z"/>
<path class="t5" d="M360.3 457l5.8-0.5 1.2 2-5.9 0.4z"/>
<path class="s8" d="M393.2 467.3l-1.4-2 0.2-6.7 1.3 2z"/>
<path class="f8" d="M393.2 467.3l5.8-0.5 0.2-6.6-5.9 0.4z"/>
<path class="t8" d="M392 458.6l5.8-0.4 1.4 2-5.9 0.4z"/>
<path class="s4" d="M351.6 466.4l-1-2-0.1-6.7 1.1 2z"/>
<path class="f4" d="M351.6 466.4l5.9-0.5 0-6.7-5.9 0.5z"/>
<path class="t4" d="M350.5 457.7l5.9-0.4 1.1 1.9-5.9 0.5z"/>
<path class="s3" d="M341.7 467.1l-0.9-2-0.1-6.6 1 1.9z"/>
<path class="f3" d="M341.7 467.1l6-0.4-0.1-6.7-5.9 0.4z"/>
<path class="t3" d="M340.7 458.5l5.9-0.5 1 2-5.9 0.4z"/>
<path class="s7" d="M383.4 468.1l-1.3-2 0.1-6.7 1.3 2z"/>
<path class="f7" d="M383.4 468.1l5.8-0.5 0.2-6.7-5.9 0.5z"/>
<path class="t7" d="M382.2 459.4l5.9-0.5 1.3 2-5.9 0.5z"/>
<path class="s10" d="M415.5 469.8l-1.5-2 0.3-6.7 1.5 2z"/>
<path class="f10" d="M415.5 469.8l5.9-0.5 0.3-6.7-5.9 0.5z"/>
<path class="t10" d="M414.3 461.1l5.8-0.5 1.6 2-5.9 0.5z"/>
<path class="s2" d="M331.8 467.9l-0.9-2-0.1-6.7 0.9 2z"/>
<path class="f2" d="M331.8 467.9l6-0.5-0.1-6.7-6 0.5z"/>
<path class="t2" d="M330.8 459.2l5.9-0.4 1 1.9-6 0.5z"/>
<path class="s6" d="M373.5 468.9l-1.2-2.1 0.1-6.7 1.2 2z"/>
<path class="f6" d="M373.5 468.9l5.9-0.5 0.1-6.7-5.9 0.4z"/>
<path class="t6" d="M372.4 460.1l5.9-0.4 1.2 2-5.9 0.4z"/>
<path class="s1" d="M321.9 468.7l-0.9-2-0.1-6.7 0.8 2z"/>
<path class="f1" d="M321.9 468.7l6-0.5-0.2-6.7-6 0.5z"/>
<path class="t1" d="M320.9 460l5.9-0.5 0.9 2-6 0.5z"/>
<path class="s9" d="M405.7 470.6l-1.4-2 0.2-6.8 1.4 2.1z"/>
<path class="f9" d="M405.7 470.6l5.9-0.5 0.2-6.7-5.9 0.5z"/>
<path class="t9" d="M404.5 461.8l5.9-0.4 1.4 2-5.9 0.5z"/>
<path class="s0" d="M311.9 469.5l-0.8-2.1-0.2-6.7 0.8 2z"/>
<path class="f0" d="M311.9 469.5l6-0.5-0.2-6.7-6 0.4z"/>
<path class="t0" d="M310.9 460.7l6-0.4 0.8 2-6 0.4z"/>
<path class="s5" d="M363.7 469.6l-1.2-2 0-6.7 1.2 2z"/>
<path class="f5" d="M363.7 469.6l5.9-0.4 0-6.8-5.9 0.5z"/>
<path class="t5" d="M362.5 460.9l6-0.4 1.1 1.9-5.9 0.5z"/>
<path class="s8" d="M395.9 471.4l-1.4-2.1 0.2-6.7 1.3 2z"/>
<path class="f8" d="M395.9 471.4l5.9-0.5 0.2-6.7-6 0.4z"/>
<path class="t8" d="M394.7 462.6l5.9-0.5 1.4 2.1-6 0.4z"/>
<path class="s4" d="M353.7 470.4l-1-2-0.1-6.7 1.1 2z"/>
<path class="f4" d="M353.7 470.4l6-0.4 0-6.8-6 0.5z"/>
<path class="t4" d="M352.6 461.7l6-0.5 1.1 2-6 0.5z"/>
<path class="s3" d="M343.7 471.2l-1-2 0-6.8 1 2.1z"/>
<path class="f3" d="M343.7 471.2l6-0.5 0-6.7-6 0.5z"/>
<path class="t3" d="M342.7 462.4l5.9-0.4 1.1 2-6 0.5z"/>
<path class="s7" d="M385.9 472.2l-1.2-2.1 0.1-6.7 1.3 2z"/>
<path class="f7" d="M385.9 472.2l6-0.5 0.2-6.8-6 0.5z"/>
<path class="t7" d="M384.8 463.4l5.9-0.5 1.4 2-6 0.5z"/>
<path class="s10" d="M418.6 474l-1.6-2.1 0.3-6.8 1.5 2.1z"/>
<path class="f10" d="M418.6 474l5.9-0.5 0.3-6.8-6 0.5z"/>
<path class="t10" d="M417.3 465.1l5.9-0.5 1.6 2.1-6 0.5z"/>
<path class="s2" d="M333.7 472l-0.9-2.1-0.2-6.7 1 2z"/>
<path class="f2" d="M333.7 472l6-0.5-0.1-6.7-6 0.4z"/>
<path class="t2" d="M332.6 463.2l6.1-0.5 0.9 2.1-6 0.4z"/>
<path class="s6" d="M376 473l-1.2-2.1 0-6.7 1.3 2z"/>
<path class="f6" d="M376 473l6-0.5 0.1-6.8-6 0.5z"/>
<path class="t6" d="M374.8 464.2l6-0.5 1.3 2-6 0.5z"/>
<path class="s1" d="M323.6 472.8l-0.9-2.1-0.1-6.7 0.8 2z"/>
<path class="f1" d="M323.6 472.8l6.1-0.5-0.2-6.7-6.1 0.4z"/>
<path class="t1" d="M322.6 464l6-0.5 0.9 2.1-6.1 0.4z"/>
<path class="s9" d="M408.6 474.8l-1.4-2.1 0.2-6.8 1.5 2.1z"/>
<path class="f9" d="M408.6 474.8l6-0.5 0.3-6.8-6 0.5z"/>
<path class="t9" d="M407.4 465.9l5.9-0.5 1.6 2.1-6 0.5z"/>
<path class="s0" d="M313.5 473.6l-0.8-2.1-0.2-6.7 0.8 2z"/>
<path class="f0" d="M313.5 473.6l6.1-0.5-0.2-6.8-6.1 0.5z"/>
<path class="t0" d="M312.5 464.8l6-0.5 0.9 2-6.1 0.5z"/>
<path class="s5" d="M366 473.8l-1.2-2.1 0-6.8 1.2 2.1z"/>
<path class="f5" d="M366 473.8l6-0.5 0-6.8-6 0.5z"/>
<path class="t5" d="M364.8 464.9l6-0.4 1.2 2-6 0.5z"/>
<path class="s8" d="M398.6 475.6l-1.4-2.1 0.2-6.8 1.4 2.1z"/>
<path class="f8" d="M398.6 475.6l6-0.5 0.3-6.8-6.1 0.5z"/>
<path class="t8" d="M397.4 466.7l6-0.5 1.5 2.1-6.1 0.5z"/>
<path class="s4" d="M355.9 474.6l-1.1-2.1 0-6.8 1.1 2.1z"/>
<path class="f4" d="M355.9 474.6l6.1-0.5 0-6.8-6.1 0.5z"/>
<path class="t4" d="M354.8 465.7l6-0.4 1.2 2-6.1 0.5z"/>
<path class="s3" d="M345.8 475.4l-1-2.1-0.1-6.8 1 2.1z"/>
<path class="f3" d="M345.8 475.4l6.1-0.5-0.1-6.8-6.1 0.5z"/>
<path class="t3" d="M344.7 466.5l6.1-0.5 1 2.1-6.1 0.5z"/>
<path class="s7" d="M388.6 476.4l-1.3-2.1 0.1-6.8 1.3 2.1z"/>
<path class="f7" d="M388.6 476.4l6-0.5 0.2-6.8-6.1 0.5z"/>
<path class="t7" d="M387.4 467.5l6-0.5 1.4 2.1-6.1 0.5z"/>
<path class="s2" d="M335.6 476.2l-0.9-2.1-0.2-6.8 1 2.1z"/>
<path class="f2" d="M335.6 476.2l6.1-0.4-0.1-6.9-6.1 0.5z"/>
<path class="t2" d="M334.5 467.3l6.1-0.5 1 2.1-6.1 0.5z"/>
<path class="s6" d="M378.5 477.3l-1.3-2.2 0.1-6.8 1.3 2.1z"/>
<path class="f6" d="M378.5 477.3l6.1-0.5 0.1-6.9-6.1 0.5z"/>
<path class="t6" d="M377.3 468.3l6.1-0.5 1.3 2.1-6.1 0.5z"/>
<path class="s1" d="M325.4 477.1l-0.9-2.2-0.2-6.8 0.9 2.1z"/>
<path class="f1" d="M325.4 477.1l6.1-0.5-0.1-6.9-6.2 0.5z"/>
<path class="t1" d="M324.3 468.1l6.2-0.5 0.9 2.1-6.2 0.5z"/>
<path class="s0" d="M315.1 477.9l-0.8-2.2-0.2-6.8 0.8 2.1z"/>
<path class="f0" d="M315.1 477.9l6.2-0.5-0.2-6.9-6.2 0.5z"/>
<path class="t0" d="M314.1 468.9l6.1-0.5 0.9 2.1-6.2 0.5z"/>
<path class="s5" d="M368.4 478.1l-1.2-2.2 0-6.8 1.2 2.1z"/>
<path class="f5" d="M368.4 478.1l6.1-0.5 0-6.9-6.1 0.5z"/>
<path class="t5" d="M367.2 469.1l6.1-0.5 1.2 2.1-6.1 0.5z"/>
<path class="s4" d="M358.2 478.9l-1.2-2.1 0-6.9 1.1 2.1z"/>
<path class="f4" d="M358.2 478.9l6.1-0.5 0-6.9-6.2 0.5z"/>
<path class="t4" d="M357 469.9l6.1-0.5 1.2 2.1-6.2 0.5z"/>
<path class="s3" d="M347.9 479.8l-1.1-2.2 0-6.9 1 2.1z"/>
<path class="f3" d="M347.9 479.8l6.2-0.5-0.1-7-6.2 0.5z"/>
<path class="t3" d="M346.8 470.7l6.1-0.5 1.1 2.1-6.2 0.5z"/>
<path class="s2" d="M337.6 480.6l-1-2.2-0.1-6.9 1 2.2z"/>
<path class="f2" d="M337.6 480.6l6.2-0.5-0.1-6.9-6.2 0.5z"/>
<path class="t2" d="M336.5 471.5l6.2-0.5 1 2.2-6.2 0.5z"/>
<path class="s1" d="M327.2 481.4l-0.9-2.2-0.2-6.9 1 2.2z"/>
<path class="f1" d="M327.2 481.4l6.2-0.5-0.1-6.9-6.2 0.5z"/>
<path class="t1" d="M326.1 472.3l6.3-0.5 0.9 2.2-6.2 0.5z"/>
<path class="s0" d="M316.8 482.3l-0.9-2.2-0.2-6.9 0.9 2.1z"/>
<path class="f0" d="M316.8 482.3l6.3-0.5-0.2-7-6.3 0.5z"/>
<path class="t0" d="M315.7 473.2l6.3-0.5 0.9 2.1-6.3 0.5z"/>
<g font-family="Liberation Serif" fill="#111" stroke="#111" stroke-width="0.15">
<text transform="matrix(1.8949,-0.1609,0.3313,0.8412,324.70,494.20)" font-size="13" text-anchor="middle" dominant-baseline="central">0</text>
<text transform="matrix(1.8372,-0.1555,0.4618,0.8126,377.90,488.60)" font-size="13" text-anchor="middle" dominant-baseline="central">5</text>
<text transform="matrix(1.7723,-0.1491,0.5958,0.7790,435.20,481.90)" font-size="13" text-anchor="middle" dominant-baseline="central">10</text>
<text transform="matrix(1.9160,-0.1691,0.4872,0.8848,379.90,502.40)" font-size="13" font-style="italic" text-anchor="middle" dominant-baseline="central">n</text>
<text transform="matrix(0.1893,0.5996,-1.6165,0.1152,283.60,443.90)" font-size="13" text-anchor="middle" dominant-baseline="central">0</text>
<text transform="matrix(0.2154,0.6889,-1.7303,0.1321,288.90,463.50)" font-size="13" text-anchor="middle" dominant-baseline="central">5</text>
<text transform="matrix(0.2520,0.7858,-1.8440,0.1504,297.60,483.40)" font-size="13" text-anchor="middle" dominant-baseline="central">10</text>
<text transform="matrix(0.1707,0.7092,-1.7645,0.1359,268.90,467.80)" font-size="13" font-style="italic" text-anchor="middle" dominant-baseline="central">t</text>
</g>
<line x1="520.4" y1="62.3" x2="613.2" y2="49.4" stroke="#888" stroke-width="0.75" stroke-dasharray="1.3,1.4"/>
<line x1="521.9" y1="97.5" x2="613.0" y2="83.1" stroke="#888" stroke-width="0.75" stroke-dasharray="1.3,1.4"/>
<line x1="527.6" y1="130.6" x2="524.8" y2="61.7" stroke="#bbb" stroke-width="0.6" stroke-dasharray="4,2"/>
<line x1="608.8" y1="116.2" x2="609.2" y2="50.0" stroke="#bbb" stroke-width="0.6" stroke-dasharray="4,2"/>
<line x1="613.2" y1="49.4" x2="661.5" y2="78.5" stroke="#bbb" stroke-width="0.6"/>
<line x1="613.0" y1="83.1" x2="660.2" y2="116.1" stroke="#bbb" stroke-width="0.6"/>
<line x1="634.4" y1="132.7" x2="635.8" y2="63.0" stroke="#999" stroke-width="0.6" stroke-dasharray="4,2"/>
<line x1="659.0" y1="152.2" x2="661.5" y2="78.5" stroke="#666" stroke-width="0.7" stroke-dasharray="3,2"/>
<line x1="612.7" y1="115.5" x2="613.2" y2="49.4" stroke="#999" stroke-width="0.6" stroke-dasharray="4,2"/>
<line x1="523.3" y1="131.4" x2="520.4" y2="62.3" stroke="#bbb" stroke-width="0.6"/>
<line x1="523.3" y1="131.4" x2="520.4" y2="62.3" stroke="#333" stroke-width="1.0"/>
<path d="M523.3 131.4h-3.0M523.0 124.7h-1.6M522.7 118.0h-1.6M522.5 111.2h-1.6M522.2 104.4h-1.6M521.9 97.5h-3.0M521.6 90.6h-1.6M521.3 83.6h-1.6M521.0 76.6h-1.6M520.7 69.5h-1.6M520.4 62.3h-3.0M520.4 62.3h2.5" stroke="#333" stroke-width="0.7" fill="none"/>
<line x1="559.8" y1="172.5" x2="659.0" y2="152.2" stroke="#444" stroke-width="0.8"/>
<line x1="559.8" y1="172.5" x2="523.3" y2="131.4" stroke="#444" stroke-width="0.8"/>
<path d="M564.6 171.5L566.9 174.1M524.8 133.0L519.6 134.0M574.0 169.6L575.4 171.1M527.8 136.4L524.7 136.9M583.4 167.7L584.8 169.1M530.8 139.8L527.7 140.4M592.6 165.8L594.1 167.2M533.9 143.3L530.8 143.9M601.8 163.9L603.3 165.3M537.1 146.9L534.0 147.5M610.8 162.1L613.4 164.5M540.4 150.6L534.9 151.6M619.8 160.2L621.3 161.6M543.7 154.4L540.5 155.0M628.7 158.4L630.2 159.8M547.1 158.2L543.9 158.9M637.4 156.6L639.1 158.0M550.6 162.2L547.4 162.8M646.1 154.8L647.8 156.2M554.2 166.2L550.9 166.9M654.7 153.1L657.6 155.4M557.9 170.4L552.2 171.6" stroke="#444" stroke-width="0.6" fill="none"/>
<path class="u10" d="M606.1 116.3l0-0.8 4.6-0.8 1.9 1.5 0 0.8-4.7 0.8z"/>
<path class="v10" d="M606.2 115.5l4.6-0.8 1.9 1.5-4.7 0.8z"/>
<path class="u9" d="M598.4 116.9l4.6-0.8 1.9 1.5 0 0.8-4.7 0.8-1.8-1.5z"/>
<path class="v9" d="M598.3 116.9l4.7-0.8 1.9 1.5-4.8 0.8z"/>
<path class="u8" d="M590.5 118.3l4.7-0.8 1.8 1.5 0 0.8-4.8 0.8-1.7-1.5z"/>
<path class="v8" d="M590.5 118.3l4.7-0.8 1.8 1.5-4.8 0.8z"/>
<path class="u10" d="M610.8 120.1l0-0.8 4.7-0.9 1.9 1.6 0 0.7-4.7 0.9z"/>
<path class="v10" d="M610.8 119.3l4.7-0.9 1.9 1.6-4.7 0.8z"/>
<path class="u7" d="M582.5 119.7l4.8-0.8 1.7 1.5 0 0.8-4.8 0.8-1.7-1.5z"/>
<path class="v7" d="M582.5 119.7l4.8-0.8 1.7 1.5-4.8 0.9z"/>
<path class="u9" d="M602.9 120.7l4.7-0.9 1.9 1.6 0 0.8-4.8 0.8-1.8-1.5z"/>
<path class="v9" d="M602.9 120.7l4.7-0.9 1.9 1.6-4.8 0.8z"/>
<path class="u6" d="M574.5 121.2l4.8-0.9 1.7 1.5 0 0.8-4.8 0.9-1.7-1.6z"/>
<path class="v6" d="M574.5 121.2l4.8-0.9 1.7 1.5-4.8 0.9z"/>
<path class="u8" d="M594.9 122.1l4.8-0.8 1.9 1.5 0 0.8-4.9 0.9-1.8-1.6z"/>
<path class="v8" d="M594.9 122.1l4.8-0.8 1.9 1.5-4.9 0.9z"/>
<path class="u10" d="M614.6 122.3l4.7-0.9 2 1.5 0 0.8-4.8 0.9-1.9-1.6z"/>
<path class="v10" d="M614.6 122.4l4.7-0.9 2 1.5-4.8 0.9z"/>
<path class="s5" d="M568.1 124.9l-1.7-1.5-1.3-67.6 1.8 1.2z"/>
<path class="f5" d="M568.1 124.9l4.8-0.8-1-67.8-5 0.7z"/>
<path class="t5" d="M565.1 55.8l5.1-0.7 1.7 1.2-5 0.7z"/>
<path class="u4" d="M558.2 124l4.9-0.8 1.7 1.5 0 0.8-5 0.9-1.6-1.6z"/>
<path class="v4" d="M558.2 124l4.9-0.8 1.7 1.5-5 0.9z"/>
<path class="u7" d="M586.9 123.6l4.8-0.9 1.8 1.6 0 0.8-4.8 0.8-1.8-1.5z"/>
<path class="v7" d="M586.9 123.6l4.8-0.9 1.8 1.6-4.8 0.9z"/>
<path class="u9" d="M606.6 123.8l4.8-0.9 1.9 1.6 0 0.8-4.8 0.9-1.9-1.6z"/>
<path class="v9" d="M606.6 123.8l4.8-0.9 1.9 1.6-4.8 0.9z"/>
<path class="u3" d="M549.9 125.5l5-0.9 1.6 1.6 0 0.8-4.9 0.9-1.6-1.6z"/>
<path class="v3" d="M549.9 125.5l5-0.9 1.6 1.6-5 0.9z"/>
<path class="u6" d="M578.8 125l4.8-0.8 1.8 1.5 0 0.8-4.9 0.9-1.7-1.6z"/>
<path class="v6" d="M578.8 125l4.8-0.8 1.8 1.5-4.9 0.9z"/>
<path class="u8" d="M598.6 125.3l4.8-0.9 1.9 1.6 0 0.8-4.9 0.8-1.8-1.6z"/>
<path class="v8" d="M598.6 125.3l4.8-0.9 1.9 1.6-4.9 0.9z"/>
<path class="u10" d="M618.5 126.3l0.1-0.8 4.7-0.9 2 1.6 0 0.8-4.8 0.9z"/>
<path class="v10" d="M618.5 125.5l4.7-0.9 2 1.6-4.8 0.9z"/>
<path class="u2" d="M541.6 127l5-0.9 1.6 1.6 0 0.8-5 0.9-1.6-1.6z"/>
<path class="v2" d="M541.6 127l5-0.9 1.6 1.6-5 0.9z"/>
<path class="s5" d="M572.3 128.9l-1.7-1.6-1-59.9 1.8 1.3z"/>
<path class="f5" d="M572.3 128.9l4.9-0.9-0.7-60-5.1 0.7z"/>
<path class="t5" d="M569.6 67.4l5.1-0.8 1.8 1.4-5.1 0.7z"/>
<path class="u7" d="M590.5 126.7l4.8-0.9 1.9 1.6 0 0.8-4.9 0.9-1.8-1.6z"/>
<path class="v7" d="M590.5 126.7l4.8-0.8 1.9 1.5-4.9 0.9z"/>
<path class="u9" d="M610.4 127.8l0-0.8 4.9-0.9 1.9 1.6 0 0.8-4.8 0.9z"/>
<path class="v9" d="M610.4 127l4.9-0.9 1.9 1.6-4.8 0.9z"/>
<path class="u1" d="M533.2 128.5l5.1-0.9 1.5 1.6 0 0.8-5.1 0.9-1.5-1.6z"/>
<path class="v1" d="M533.2 128.5l5.1-0.9 1.5 1.6-5.1 0.9z"/>
<path class="s4" d="M564 130.4l-1.7-1.6-0.2-8.6 1.7 1.5z"/>
<path class="f4" d="M564 130.4l5-0.9-0.2-8.6-5 0.8z"/>
<path class="t4" d="M562.1 120.2l5-0.9 1.7 1.6-5 0.8z"/>
<path class="u6" d="M582.3 128.2l4.9-0.9 1.8 1.7 0 0.7-4.9 0.9-1.8-1.6z"/>
<path class="v6" d="M582.3 128.2l4.9-0.9 1.8 1.6-4.9 1z"/>
<path class="u0" d="M524.7 130l5.1-0.9 1.5 1.6 0 0.8-5.1 0.9-1.5-1.6z"/>
<path class="v0" d="M524.7 130l5.1-0.9 1.5 1.6-5.1 0.9z"/>
<path class="u8" d="M602.3 128.5l4.9-0.9 1.9 1.6 0 0.8-4.9 0.9-1.9-1.6z"/>
<path class="v8" d="M602.3 128.5l4.9-0.9 1.9 1.6-4.9 0.9z"/>
<path class="u10" d="M622.4 129.5l0-0.8 4.9-0.9 2 1.6 0 0.8-4.9 0.9z"/>
<path class="v10" d="M622.4 128.7l4.9-0.9 2 1.6-4.9 0.9z"/>
<path class="u3" d="M553.9 129.5l5.1-0.9 1.6 1.6 0 0.8-5 0.9-1.6-1.6z"/>
<path class="v3" d="M553.9 129.5l5.1-0.9 1.6 1.6-5 0.9z"/>
<path class="s5" d="M575.8 132.2l-1.8-1.7-0.8-59.8 1.8 1.4z"/>
<path class="f5" d="M575.8 132.2l5-0.9-0.7-60-5.1 0.8z"/>
<path class="t5" d="M573.2 70.7l5.1-0.7 1.8 1.3-5.1 0.8z"/>
<path class="u7" d="M594.1 130l4.9-0.9 1.9 1.6 0 0.8-4.9 0.9-1.9-1.6z"/>
<path class="v7" d="M594.1 130l5-0.9 1.8 1.6-4.9 0.9z"/>
<path class="u9" d="M614.3 130.2l4.9-0.9 2 1.6 0 0.8-4.9 0.9-2-1.6z"/>
<path class="v9" d="M614.3 130.2l4.9-0.9 2 1.6-4.9 0.9z"/>
<path class="u2" d="M545.5 131l5.1-0.9 1.6 1.7 0 0.8-5.1 0.9-1.6-1.7z"/>
<path class="v2" d="M545.5 131l5.1-0.9 1.6 1.6-5.1 1z"/>
<path class="s4" d="M567.4 133.7l-1.7-1.6-0.2-8.7 1.7 1.6z"/>
<path class="f4" d="M567.4 133.7l5-0.9-0.1-8.7-5.1 0.9z"/>
<path class="t4" d="M565.5 123.4l5-0.9 1.8 1.6-5.1 0.9z"/>
<path class="u1" d="M537 132.6l5.1-1 1.6 1.7 0 0.8-5.1 0.9-1.6-1.6z"/>
<path class="v1" d="M537 132.6l5.1-1 1.6 1.7-5.1 0.9z"/>
<path class="u6" d="M585.9 131.5l4.9-0.9 1.9 1.6 0 0.8-5 1-1.8-1.7z"/>
<path class="v6" d="M585.9 131.5l4.9-0.9 1.9 1.6-5 1z"/>
<path class="u8" d="M606.1 131.7l5-0.9 1.9 1.7 0 0.8-4.9 0.9-2-1.7z"/>
<path class="v8" d="M606.1 131.7l5-0.9 1.9 1.7-4.9 0.9z"/>
<path class="u10" d="M626.5 132.8l0-0.8 4.9-1 2 1.7 0 0.8-4.9 0.9z"/>
<path class="v10" d="M626.5 132l4.9-1 2 1.7-4.9 0.9z"/>
<path class="u3" d="M557.2 132.8l5.1-0.9 1.7 1.6 0 0.8-5.1 1-1.7-1.7z"/>
<path class="v3" d="M557.2 132.8l5.1-0.9 1.7 1.6-5.1 1z"/>
<path class="u0" d="M528.4 134.1l5.2-0.9 1.5 1.6 0 0.8-5.1 1-1.6-1.7z"/>
<path class="v0" d="M528.4 134.1l5.2-0.9 1.5 1.6-5.2 1z"/>
<path class="s5" d="M579.3 135.5l-1.8-1.7-0.7-61.1 1.8 1.4z"/>
<path class="f5" d="M579.3 135.5l5.1-0.9-0.6-61.3-5.2 0.8z"/>
<path class="t5" d="M576.8 72.7l5.2-0.7 1.8 1.3-5.2 0.8z"/>
<path class="u7" d="M597.9 133.3l4.9-0.9 2 1.6 0 0.8-5 1-1.9-1.7z"/>
<path class="v7" d="M597.9 133.3l4.9-1 2 1.7-5 1z"/>
<path class="u9" d="M618.3 134.3l0-0.8 4.9-0.9 2.1 1.7 0 0.8-5 0.9z"/>
<path class="v9" d="M618.3 133.5l4.9-0.9 2.1 1.7-5 0.9z"/>
<path class="u2" d="M548.7 134.3l5.1-0.9 1.7 1.7 0 0.8-5.1 0.9-1.7-1.6z"/>
<path class="v2" d="M548.7 134.3l5.1-0.9 1.7 1.7-5.2 0.9z"/>
<path class="s4" d="M570.9 137.1l-1.8-1.7-0.1-8.7 1.7 1.7z"/>
<path class="f4" d="M570.9 137.1l5-1-0.1-8.6-5.1 0.9z"/>
<path class="t4" d="M569 126.7l5-0.9 1.8 1.7-5.1 0.9z"/>
<path class="u6" d="M589.5 134.8l5.1-0.9 1.8 1.7 0 0.8-5 0.9-1.9-1.7z"/>
<path class="v6" d="M589.5 134.8l5.1-0.9 1.8 1.7-5 0.9z"/>
<path class="u1" d="M540.1 135.9l5.2-0.9 1.6 1.7 0 0.8-5.2 0.9-1.5-1.7z"/>
<path class="v1" d="M540.1 135.9l5.2-0.9 1.6 1.7-5.2 0.9z"/>
<path class="u10" d="M630.6 136.1l0-0.8 5-0.9 2.1 1.7 0 0.8-5 0.9z"/>
<path class="v10" d="M630.6 135.3l4.9-0.9 2.2 1.7-5 0.9z"/>
<path class="u8" d="M610 135.1l5-1 2 1.7 0 0.8-5 1-2-1.7z"/>
<path class="v8" d="M610.1 135.1l4.9-1 2 1.7-5 1z"/>
<path class="u3" d="M560.6 136.2l5.1-1 1.7 1.7 0 0.8-5.1 1-1.7-1.7z"/>
<path class="v3" d="M560.6 136.2l5.1-1 1.7 1.7-5.1 1z"/>
<path class="u0" d="M531.4 137.5l5.3-1 1.5 1.7 0.1 0.9-5.3 0.9-1.5-1.7z"/>
<path class="v0" d="M531.4 137.5l5.3-1 1.5 1.7-5.2 1z"/>
<path class="s5" d="M582.9 138.9l-1.8-1.7-0.6-61.7 1.9 1.4z"/>
<path class="f5" d="M582.9 138.9l5.1-0.9-0.4-61.9-5.2 0.8z"/>
<path class="t5" d="M580.5 75.5l5.2-0.8 1.9 1.4-5.2 0.8z"/>
<path class="u7" d="M601.7 136.7l5-0.9 2 1.7 0 0.8-5 1-2-1.7z"/>
<path class="v7" d="M601.7 136.7l5-1 2 1.7-5 1z"/>
<path class="u9" d="M622.4 137.7l0-0.8 4.9-0.9 2.1 1.7 0 0.8-5 0.9z"/>
<path class="v9" d="M622.4 136.9l4.9-0.9 2.1 1.7-4.9 0.9z"/>
<path class="u2" d="M552 137.7l5.2-0.9 1.6 1.7 0.1 0.8-5.2 1-1.7-1.7z"/>
<path class="v2" d="M552 137.7l5.2-0.9 1.6 1.7-5.1 1z"/>
<path class="s4" d="M574.4 140.5l-1.8-1.7-0.1-8.7 1.8 1.7z"/>
<path class="f4" d="M574.4 140.5l5.1-0.9-0.1-8.7-5.1 0.9z"/>
<path class="t4" d="M572.5 130.1l5.1-0.9 1.8 1.7-5.1 0.9z"/>
<path class="u6" d="M593.3 138.2l5.1-0.9 1.9 1.7 0 0.8-5.1 1-1.9-1.7z"/>
<path class="v6" d="M593.3 138.2l5.1-0.9 1.9 1.7-5.1 1z"/>
<path class="u10" d="M634.9 139.6l0-0.8 4.9-1 2.2 1.7 0 0.9-5 0.9z"/>
<path class="v10" d="M634.9 138.8l4.9-1 2.2 1.7-5 1z"/>
<path class="u1" d="M543.3 139.3l5.2-0.9 1.7 1.7 0 0.8-5.2 1-1.7-1.7z"/>
<path class="v1" d="M543.3 139.3l5.2-0.9 1.7 1.7-5.3 1z"/>
<path class="u8" d="M614 139.3l0-0.8 5.1-1 2 1.8 0 0.8-5 1z"/>
<path class="v8" d="M614.1 138.5l5-1 2 1.8-5 0.9z"/>
<path class="u3" d="M564 139.6l5.2-1 1.8 1.8 0 0.8-5.2 1-1.8-1.8z"/>
<path class="v3" d="M564 139.6l5.2-1 1.8 1.8-5.2 0.9z"/>
<path class="u0" d="M534.5 140.9l5.2-1 1.6 1.7 0 0.9-5.2 0.9-1.6-1.7z"/>
<path class="v0" d="M534.5 140.9l5.3-0.9 1.6 1.7-5.3 1z"/>
<path class="s5" d="M586.7 142.4l-1.9-1.7-0.5-62.3 1.9 1.4z"/>
<path class="f5" d="M586.7 142.4l5.1-1-0.3-62.4-5.3 0.8z"/>
<path class="t5" d="M584.3 78.4l5.3-0.9 1.9 1.5-5.3 0.8z"/>
<path class="u7" d="M605.6 140.9l0-0.8 5.1-1 2 1.8 0 0.8-5.1 1z"/>
<path class="v7" d="M605.6 140.1l5.1-1 2 1.8-5.1 1z"/>
<path class="u9" d="M626.5 141.2l0.1-0.8 5-1 2.1 1.8 0 0.8-5 1z"/>
<path class="v9" d="M626.6 140.4l5-1 2.1 1.7-5 1z"/>
<path class="u2" d="M555.3 141.2l5.3-1 1.7 1.8 0 0.8-5.2 1-1.7-1.8z"/>
<path class="v2" d="M555.3 141.2l5.3-1 1.7 1.8-5.3 1z"/>
<path class="s4" d="M578 144.1l-1.8-1.8-0.1-8.7 1.8 1.7z"/>
<path class="f4" d="M578 144.1l5.2-1-0.1-8.7-5.2 0.9z"/>
<path class="t4" d="M576.1 133.6l5.2-1 1.8 1.8-5.2 0.9z"/>
<path class="u10" d="M639.2 143.1l0-0.8 5-1 2.3 1.8-0.1 0.8-5 1z"/>
<path class="v10" d="M639.2 142.3l5-1 2.3 1.8-5.1 0.9z"/>
<path class="u6" d="M597.1 141.7l5.1-0.9 2 1.7 0 0.9-5.1 0.9-2-1.7z"/>
<path class="v6" d="M597.1 141.7l5.1-0.9 2 1.7-5.1 1z"/>
<path class="u8" d="M618.1 142.8l0.1-0.8 5-1 2.1 1.8 0 0.8-5.1 1z"/>
<path class="v8" d="M618.1 142l5.1-1 2.1 1.8-5.1 1z"/>
<path class="u1" d="M546.6 142.8l5.2-0.9 1.7 1.7 0.1 0.9-5.3 1-1.7-1.8z"/>
<path class="v1" d="M546.6 142.8l5.2-0.9 1.7 1.7-5.3 1z"/>
<path class="u3" d="M567.5 143.1l5.2-1 1.9 1.8 0 0.8-5.3 1-1.8-1.8z"/>
<path class="v3" d="M567.5 143.1l5.2-1 1.9 1.8-5.3 1z"/>
<path class="u0" d="M537.7 144.5l5.3-1 1.7 1.8 0 0.8-5.3 1-1.6-1.8z"/>
<path class="v0" d="M537.7 144.5l5.3-1 1.7 1.8-5.4 1z"/>
<path class="s5" d="M590.5 146l-1.9-1.8-0.4-62.9 2 1.4z"/>
<path class="f5" d="M590.5 146l5.2-1-0.2-63.1-5.3 0.8z"/>
<path class="t5" d="M588.2 81.3l5.3-0.9 2 1.5-5.3 0.8z"/>
<path class="u9" d="M630.8 144.8l0-0.9 5.1-1 2.2 1.8-0.1 0.9-5 1z"/>
<path class="v9" d="M630.8 143.9l5.1-1 2.2 1.8-5.1 1z"/>
<path class="u7" d="M609.6 143.7l5.2-0.9 2 1.7 0 0.9-5.1 1-2.1-1.8z"/>
<path class="v7" d="M609.7 143.6l5.1-0.9 2 1.7-5.1 1z"/>
<path class="u2" d="M558.8 144.8l5.2-1 1.8 1.8 0 0.8-5.3 1-1.7-1.8z"/>
<path class="v2" d="M558.8 144.8l5.2-1 1.8 1.8-5.3 1z"/>
<path class="s4" d="M581.8 147.7l-1.9-1.8-0.1-8.7 1.9 1.8z"/>
<path class="f4" d="M581.8 147.7l5.2-1-0.1-8.7-5.2 1z"/>
<path class="t4" d="M579.8 137.2l5.2-0.9 1.9 1.7-5.2 1z"/>
<path class="u10" d="M643.6 146.7l0.1-0.8 5-1.1 2.3 1.9 0 0.8-5.1 1z"/>
<path class="v10" d="M643.7 145.9l5-1 2.3 1.8-5.1 1z"/>
<path class="u6" d="M601.1 145.3l5.1-1 2.1 1.8-0.1 0.9-5.1 1-2-1.9z"/>
<path class="v6" d="M601.1 145.3l5.1-1 2.1 1.8-5.2 1z"/>
<path class="u8" d="M622.3 146.4l0-0.8 5.1-1 2.2 1.8 0 0.8-5.1 1z"/>
<path class="v8" d="M622.3 145.6l5.1-1 2.2 1.8-5.1 1z"/>
<path class="u1" d="M549.9 146.4l5.3-1 1.8 1.8 0 0.9-5.4 1-1.7-1.8z"/>
<path class="v1" d="M549.9 146.4l5.3-1 1.8 1.9-5.4 1z"/>
<path class="u3" d="M571.1 146.7l5.3-1 1.8 1.8 0.1 0.9-5.3 1-1.9-1.8z"/>
<path class="v3" d="M571.1 146.7l5.3-1 1.8 1.8-5.2 1z"/>
<path class="u0" d="M541 148.1l5.4-1 1.6 1.9 0.1 0.8-5.4 1-1.7-1.8z"/>
<path class="v0" d="M541 148.1l5.4-1 1.6 1.8-5.4 1.1z"/>
<path class="u9" d="M635.2 148.4l0-0.8 5.1-1.1 2.2 1.9 0 0.8-5.1 1z"/>
<path class="v9" d="M635.2 147.5l5.1-1 2.2 1.9-5.1 1z"/>
<path class="s5" d="M594.4 149.7l-2-1.9-0.2-63.6 2 1.6z"/>
<path class="f5" d="M594.4 149.7l5.2-1.1 0-63.7-5.4 0.9z"/>
<path class="t5" d="M592.2 84.2l5.4-0.8 2 1.5-5.4 0.9z"/>
<path class="u7" d="M613.8 147.3l5.1-1.1 2.1 1.9 0 0.8-5.2 1.1-2-1.9z"/>
<path class="v7" d="M613.8 147.3l5.1-1 2.1 1.8-5.1 1z"/>
<path class="u2" d="M562.3 148.4l5.3-1 1.8 1.8 0 0.9-5.3 1-1.8-1.9z"/>
<path class="v2" d="M562.3 148.4l5.3-1 1.8 1.8-5.3 1.1z"/>
<path class="s4" d="M585.6 151.4l-1.9-1.9-0.1-8.6 1.9 1.8z"/>
<path class="f4" d="M585.6 151.4l5.3-1-0.1-8.7-5.3 1z"/>
<path class="t4" d="M583.6 140.9l5.3-1 1.9 1.8-5.3 1z"/>
<path class="u10" d="M648.2 150.4l0-0.9 5.1-1 2.4 1.9-0.1 0.8-5.1 1.1z"/>
<path class="v10" d="M648.2 149.5l5.1-1 2.4 1.9-5.2 1z"/>
<path class="u6" d="M605.1 149l5.2-1 2.1 1.8 0 0.8-5.2 1.1-2.1-1.9z"/>
<path class="v6" d="M605.1 149l5.2-1.1 2.1 1.9-5.2 1z"/>
<path class="u8" d="M626.6 150.1l0-0.9 5.2-1 2.2 1.9 0 0.8-5.2 1.1z"/>
<path class="v8" d="M626.6 149.3l5.2-1.1 2.2 1.9-5.2 1z"/>
<path class="u1" d="M553.3 150.1l5.4-1 1.8 1.9 0 0.8-5.4 1-1.7-1.8z"/>
<path class="v1" d="M553.3 150.1l5.4-1 1.8 1.9-5.4 1z"/>
<path class="u3" d="M574.8 150.4l5.3-1 1.9 1.8 0 0.9-5.3 1-1.9-1.9z"/>
<path class="v3" d="M574.8 150.4l5.3-1 1.9 1.8-5.3 1.1z"/>
<path class="u9" d="M639.6 152.1l0.1-0.8 5.1-1.1 2.3 1.9 0 0.9-5.2 1z"/>
<path class="v9" d="M639.7 151.3l5.1-1.1 2.3 1.9-5.2 1.1z"/>
<path class="s5" d="M598.4 153.4l-2-1.9-0.1-65 2 1.6z"/>
<path class="f5" d="M598.4 153.4l5.2-1 0.2-65.2-5.5 0.9z"/>
<path class="t5" d="M596.3 86.5l5.4-0.8 2.1 1.5-5.5 0.9z"/>
<path class="u7" d="M618 151.8l0-0.8 5.2-1.1 2.1 1.9 0 0.9-5.2 1z"/>
<path class="v7" d="M618 151l5.2-1.1 2.1 1.9-5.2 1.1z"/>
<path class="u0" d="M544.3 151.8l5.4-1 1.8 1.9 0 0.8-5.5 1.1-1.7-1.9z"/>
<path class="v0" d="M544.3 151.8l5.4-1 1.8 1.9-5.5 1z"/>
<path class="u2" d="M565.9 152.1l5.3-1 1.9 1.9 0 0.8-5.4 1.1-1.8-1.9z"/>
<path class="v2" d="M565.9 152.1l5.3-1 1.9 1.9-5.4 1z"/>
<path class="s4" d="M589.5 155.2l-2-1.9 0-8.7 1.9 1.9z"/>
<path class="f4" d="M589.5 155.2l5.3-1.1 0-8.7-5.4 1.1z"/>
<path class="t4" d="M587.5 144.6l5.3-1 2 1.8-5.4 1.1z"/>
<path class="u8" d="M631 153.9l0-0.9 5.2-1 2.3 1.9 0 0.8-5.3 1.1z"/>
<path class="v8" d="M631 153l5.2-1 2.3 1.9-5.2 1z"/>
<path class="u6" d="M609.2 153.6l0-0.9 5.3-1 2.1 1.9 0 0.8-5.3 1.1z"/>
<path class="v6" d="M609.2 152.7l5.3-1 2.1 1.9-5.3 1z"/>
<path class="u1" d="M556.9 153.9l5.5-1.1 1.8 1.9 0 0.9-5.4 1.1-1.8-2z"/>
<path class="v1" d="M556.9 153.9l5.4-1.1 1.8 1.9-5.5 1.1z"/>
<path class="u3" d="M578.6 154.2l5.4-1.1 1.9 1.9 0 0.9-5.4 1.1-1.9-2z"/>
<path class="v3" d="M578.6 154.2l5.4-1.1 1.9 1.9-5.4 1.1z"/>
<path class="u7" d="M622.3 155.6l0-0.8 5.2-1.1 2.3 1.9-0.1 0.9-5.2 1.1z"/>
<path class="v7" d="M622.3 154.8l5.2-1.1 2.3 1.9-5.3 1.1z"/>
<path class="s5" d="M602.5 157.3l-2.1-2 0-66.4 2.2 1.6z"/>
<path class="f5" d="M602.5 157.3l5.3-1.1 0.3-66.6-5.5 0.9z"/>
<path class="t5" d="M600.4 88.9l5.6-0.9 2.1 1.6-5.5 0.9z"/>
<path class="u0" d="M547.7 155.7l5.5-1.1 1.8 1.9 0 0.9-5.5 1-1.7-1.9z"/>
<path class="v0" d="M547.7 155.7l5.5-1.1 1.8 1.9-5.5 1.1z"/>
<path class="u2" d="M569.6 156l5.4-1.1 1.9 1.9 0 0.9-5.5 1.1-1.8-2z"/>
<path class="v2" d="M569.6 156l5.4-1.1 1.9 1.9-5.5 1.1z"/>
<path class="s4" d="M593.5 159.1l-2-2-0.1-8.7 2.1 1.9z"/>
<path class="f4" d="M593.5 159.1l5.4-1.1 0-8.7-5.4 1z"/>
<path class="t4" d="M591.4 148.4l5.4-1 2.1 1.9-5.4 1z"/>
<path class="u6" d="M613.5 157.4l0.1-0.8 5.3-1.1 2.1 1.9 0 0.9-5.3 1.1z"/>
<path class="v6" d="M613.5 156.6l5.3-1.1 2.1 1.9-5.3 1.1z"/>
<path class="u1" d="M560.4 157.8l5.5-1.1 1.9 1.9 0 0.9-5.5 1.1-1.8-2z"/>
<path class="v1" d="M560.4 157.7l5.5-1 1.9 1.9-5.5 1.1z"/>
<path class="u3" d="M582.5 158.1l5.5-1 2 1.9 0 0.9-5.5 1.1-1.9-2z"/>
<path class="v3" d="M582.4 158.1l5.5-1.1 2 1.9-5.5 1.1z"/>
<path class="s5" d="M606.6 161.2l-2.1-2 0.2-67.1 2.2 1.6z"/>
<path class="f5" d="M606.6 161.2l5.4-1.1 0.5-67.3-5.6 0.9z"/>
<path class="t5" d="M604.7 92.1l5.6-0.9 2.2 1.6-5.6 0.9z"/>
<path class="u0" d="M551.2 159.6l5.6-1.1 1.8 1.9 0 0.9-5.6 1.1-1.8-2z"/>
<path class="v0" d="M551.2 159.6l5.6-1.1 1.8 1.9-5.6 1.1z"/>
<path class="u2" d="M573.3 159.9l5.5-1.1 2 2 0 0.8-5.5 1.1-1.9-2z"/>
<path class="v2" d="M573.3 159.9l5.5-1.1 2 2-5.5 1.1z"/>
<path class="s4" d="M597.6 163.1l-2.1-2.1 0-8.7 2.1 2z"/>
<path class="f4" d="M597.6 163.1l5.4-1.2 0.1-8.7-5.5 1.1z"/>
<path class="t4" d="M595.5 152.3l5.5-1 2.1 1.9-5.5 1.1z"/>
<path class="u1" d="M564.1 161.7l5.6-1.1 1.9 2 0 0.9-5.6 1.1-1.9-2z"/>
<path class="v1" d="M564.1 161.7l5.6-1.1 1.9 2-5.6 1.1z"/>
<path class="u3" d="M586.4 162l5.5-1.1 2 2 0 0.9-5.5 1.1-2-2z"/>
<path class="v3" d="M586.4 162l5.5-1.1 2 2-5.5 1.1z"/>
<path class="u0" d="M554.8 163.6l5.6-1.2 1.9 2.1 0 0.8-5.6 1.2-1.9-2.1z"/>
<path class="v0" d="M554.8 163.6l5.6-1.2 1.9 2.1-5.7 1.1z"/>
<path class="u2" d="M577.2 163.9l5.5-1.1 2 2 0.1 0.9-5.6 1.1-2-2z"/>
<path class="v2" d="M577.2 163.9l5.5-1.1 2 2-5.5 1.1z"/>
<path class="u1" d="M567.9 165.8l5.6-1.2 1.9 2.1 0.1 0.9-5.7 1.1-1.9-2.1z"/>
<path class="v1" d="M567.9 165.8l5.6-1.2 1.9 2.1-5.6 1.1z"/>
<path class="u0" d="M558.5 167.7l5.7-1.2 1.8 2.1 0.1 0.9-5.7 1.1-1.9-2.1z"/>
<path class="v0" d="M558.5 167.7l5.6-1.2 2 2.1-5.7 1.2z"/>
<g font-family="Liberation Serif" fill="#111" stroke="#111" stroke-width="0.15">
<text transform="matrix(1.7003,-0.3577,0.7005,0.7801,570.10,180.00)" font-size="13" text-anchor="middle" dominant-baseline="central">0</text>
<text transform="matrix(1.6103,-0.3391,0.7883,0.7379,617.80,170.30)" font-size="13" text-anchor="middle" dominant-baseline="central">5</text>
<text transform="matrix(1.5105,-0.3170,0.8708,0.6880,668.30,158.50)" font-size="13" text-anchor="middle" dominant-baseline="central">10</text>
<text transform="matrix(1.6646,-0.3647,0.8363,0.7959,625.50,183.10)" font-size="13" font-style="italic" text-anchor="middle" dominant-baseline="central">n</text>
<text transform="matrix(0.4906,0.5908,-1.5298,0.2738,510.40,135.90)" font-size="13" text-anchor="middle" dominant-baseline="central">0</text>
<text transform="matrix(0.5525,0.6676,-1.6128,0.3079,525.10,154.60)" font-size="13" text-anchor="middle" dominant-baseline="central">5</text>
<text transform="matrix(0.6166,0.7472,-1.6927,0.3432,539.40,172.90)" font-size="13" text-anchor="middle" dominant-baseline="central">10</text>
<text transform="matrix(0.5159,0.6993,-1.6708,0.3220,502.30,162.20)" font-size="13" font-style="italic" text-anchor="middle" dominant-baseline="central">t</text>
</g>
<line x1="520.3" y1="218.4" x2="613.1" y2="205.5" stroke="#888" stroke-width="0.75" stroke-dasharray="1.3,1.4"/>
<line x1="521.8" y1="253.6" x2="612.9" y2="239.2" stroke="#888" stroke-width="0.75" stroke-dasharray="1.3,1.4"/>
<line x1="527.5" y1="286.7" x2="524.7" y2="217.8" stroke="#bbb" stroke-width="0.6" stroke-dasharray="4,2"/>
<line x1="608.7" y1="272.3" x2="609.1" y2="206.1" stroke="#bbb" stroke-width="0.6" stroke-dasharray="4,2"/>
<line x1="613.1" y1="205.5" x2="661.4" y2="234.6" stroke="#bbb" stroke-width="0.6"/>
<line x1="612.9" y1="239.2" x2="660.1" y2="272.2" stroke="#bbb" stroke-width="0.6"/>
<line x1="634.3" y1="288.8" x2="635.7" y2="219.1" stroke="#999" stroke-width="0.6" stroke-dasharray="4,2"/>
<line x1="658.9" y1="308.3" x2="661.4" y2="234.6" stroke="#666" stroke-width="0.7" stroke-dasharray="3,2"/>
<line x1="612.6" y1="271.6" x2="613.1" y2="205.5" stroke="#999" stroke-width="0.6" stroke-dasharray="4,2"/>
<line x1="523.2" y1="287.5" x2="520.3" y2="218.4" stroke="#bbb" stroke-width="0.6"/>
<line x1="523.2" y1="287.5" x2="520.3" y2="218.4" stroke="#333" stroke-width="1.0"/>
<path d="M523.2 287.5h-3.0M522.9 280.8h-1.6M522.6 274.1h-1.6M522.4 267.3h-1.6M522.1 260.5h-1.6M521.8 253.6h-3.0M521.5 246.7h-1.6M521.2 239.7h-1.6M520.9 232.7h-1.6M520.6 225.6h-1.6M520.3 218.4h-3.0M520.3 218.4h2.5" stroke="#333" stroke-width="0.7" fill="none"/>
<line x1="559.7" y1="328.6" x2="658.9" y2="308.3" stroke="#444" stroke-width="0.8"/>
<line x1="559.7" y1="328.6" x2="523.2" y2="287.5" stroke="#444" stroke-width="0.8"/>
<path d="M564.5 327.6L566.8 330.2M524.7 289.1L519.5 290.1M573.9 325.7L575.3 327.2M527.7 292.5L524.6 293.0M583.3 323.8L584.7 325.2M530.7 295.9L527.6 296.5M592.5 321.9L594.0 323.3M533.8 299.4L530.7 300.0M601.7 320.0L603.2 321.4M537.0 303.0L533.9 303.6M610.7 318.2L613.3 320.6M540.3 306.7L534.8 307.7M619.7 316.3L621.2 317.7M543.6 310.5L540.4 311.1M628.6 314.5L630.1 315.9M547.0 314.3L543.8 315.0M637.3 312.7L639.0 314.1M550.5 318.3L547.3 318.9M646.0 310.9L647.7 312.3M554.1 322.3L550.8 323.0M654.6 309.2L657.5 311.5M557.8 326.5L552.1 327.7" stroke="#444" stroke-width="0.6" fill="none"/>
<path class="u10" d="M606 272.4l0.1-0.8 4.6-0.8 1.9 1.5 0 0.8-4.7 0.8z"/>
<path class="v10" d="M606.1 271.6l4.6-0.8 1.9 1.5-4.7 0.8z"/>
<path class="u9" d="M598.2 273l4.7-0.8 1.9 1.5 0 0.8-4.8 0.8-1.8-1.5z"/>
<path class="v9" d="M598.2 273l4.7-0.8 1.9 1.5-4.8 0.8z"/>
<path class="u8" d="M590.4 274.4l4.7-0.8 1.8 1.5 0 0.8-4.8 0.8-1.7-1.5z"/>
<path class="v8" d="M590.4 274.4l4.7-0.8 1.8 1.5-4.8 0.8z"/>
<path class="u10" d="M610.7 276.2l0-0.8 4.7-0.9 1.9 1.5 0 0.8-4.7 0.9z"/>
<path class="v10" d="M610.7 275.4l4.7-0.9 1.9 1.6-4.7 0.8z"/>
<path class="u7" d="M582.4 275.8l4.8-0.8 1.8 1.5 0 0.8-4.8 0.8-1.8-1.5z"/>
<path class="v7" d="M582.4 275.8l4.8-0.8 1.7 1.5-4.8 0.9z"/>
<path class="u9" d="M602.8 276.8l4.7-0.8 1.9 1.5 0 0.8-4.8 0.8-1.8-1.5z"/>
<path class="v9" d="M602.8 276.8l4.7-0.9 1.9 1.6-4.8 0.8z"/>
<path class="u6" d="M574.4 277.2l4.8-0.8 1.7 1.5 0 0.8-4.8 0.9-1.7-1.6z"/>
<path class="v6" d="M574.4 277.3l4.8-0.9 1.7 1.5-4.8 0.9z"/>
<path class="u8" d="M594.8 278.2l4.8-0.8 1.8 1.5 0 0.8-4.8 0.9-1.8-1.6z"/>
<path class="v8" d="M594.8 278.2l4.8-0.8 1.9 1.5-4.9 0.9z"/>
<path class="u10" d="M614.5 278.4l4.7-0.8 2 1.5 0 0.8-4.8 0.9-1.9-1.6z"/>
<path class="v10" d="M614.5 278.5l4.7-0.9 2 1.5-4.8 0.9z"/>
<path class="s5" d="M568 281l-1.7-1.5-1.3-67.6 1.8 1.2z"/>
<path class="f5" d="M568 281l4.8-0.8-1-67.8-5 0.7z"/>
<path class="t5" d="M565 211.9l5.1-0.7 1.7 1.2-5 0.7z"/>
<path class="u4" d="M558.1 280.1l4.9-0.8 1.7 1.5 0 0.8-5 0.9-1.6-1.6z"/>
<path class="v4" d="M558.1 280.1l4.9-0.8 1.7 1.5-5 0.9z"/>
<path class="u7" d="M586.8 279.7l4.8-0.9 1.8 1.6 0 0.8-4.8 0.8-1.8-1.5z"/>
<path class="v7" d="M586.8 279.7l4.8-0.9 1.8 1.6-4.8 0.9z"/>
<path class="u9" d="M606.5 279.9l4.8-0.9 1.9 1.6 0 0.8-4.8 0.9-1.9-1.6z"/>
<path class="v9" d="M606.5 279.9l4.8-0.9 1.9 1.6-4.8 0.9z"/>
<path class="u3" d="M549.8 281.6l5-0.9 1.6 1.6 0 0.8-5 0.9-1.5-1.6z"/>
<path class="v3" d="M549.8 281.6l5-0.9 1.6 1.6-5 0.9z"/>
<path class="u6" d="M578.7 281.1l4.8-0.8 1.8 1.5 0 0.8-4.9 0.9-1.7-1.6z"/>
<path class="v6" d="M578.7 281.1l4.8-0.8 1.8 1.5-4.9 0.9z"/>
<path class="u8" d="M598.5 281.4l4.8-0.9 1.9 1.6 0 0.8-4.9 0.9-1.8-1.6z"/>
<path class="v8" d="M598.5 281.4l4.8-0.9 1.9 1.6-4.9 0.9z"/>
<path class="u10" d="M618.4 282.4l0-0.8 4.8-0.9 1.9 1.6 0 0.8-4.8 0.9z"/>
<path class="v10" d="M618.4 281.6l4.7-0.9 2 1.6-4.8 0.9z"/>
<path class="u2" d="M541.5 283.1l5-0.9 1.6 1.6 0 0.8-5 0.9-1.6-1.6z"/>
<path class="v2" d="M541.5 283.1l5-0.9 1.6 1.6-5 0.9z"/>
<path class="s5" d="M572.2 285l-1.7-1.6-0.9-52.9 1.8 1.4z"/>
<path class="f5" d="M572.2 285l4.9-0.9-0.6-53-5.1 0.8z"/>
<path class="t5" d="M569.6 230.5l5.1-0.8 1.8 1.4-5.1 0.8z"/>
<path class="u7" d="M590.4 282.8l4.8-0.8 1.9 1.6 0 0.7-4.9 0.9-1.8-1.6z"/>
<path class="v7" d="M590.4 282.8l4.8-0.8 1.9 1.5-4.9 0.9z"/>
<path class="u9" d="M610.3 283.9l0-0.8 4.9-0.9 1.9 1.6 0 0.8-4.8 0.9z"/>
<path class="v9" d="M610.3 283.1l4.9-0.9 1.9 1.6-4.8 0.9z"/>
<path class="u1" d="M533.1 284.6l5.1-0.9 1.5 1.6 0 0.8-5.1 0.9-1.5-1.6z"/>
<path class="v1" d="M533.1 284.6l5.1-0.9 1.5 1.6-5.1 0.9z"/>
<path class="s4" d="M563.9 286.5l-1.7-1.6-0.3-12.7 1.7 1.6z"/>
<path class="f4" d="M563.9 286.5l5-0.9-0.2-12.7-5.1 0.9z"/>
<path class="t4" d="M561.9 272.2l5.1-0.8 1.7 1.5-5.1 0.9z"/>
<path class="u6" d="M582.2 284.3l4.9-0.9 1.8 1.6 0 0.8-4.9 1-1.8-1.7z"/>
<path class="v6" d="M582.2 284.3l4.9-0.9 1.8 1.6-4.9 1z"/>
<path class="u0" d="M524.6 286.1l5.1-0.9 1.5 1.6 0 0.8-5.1 0.9-1.5-1.6z"/>
<path class="v0" d="M524.6 286.1l5.1-0.9 1.5 1.6-5.1 0.9z"/>
<path class="u8" d="M602.2 284.6l4.9-0.9 1.9 1.6 0 0.8-4.9 0.9-1.9-1.6z"/>
<path class="v8" d="M602.2 284.6l4.9-0.9 1.9 1.6-4.9 0.9z"/>
<path class="u10" d="M622.3 285.6l0-0.8 4.9-0.9 2 1.6 0 0.8-4.9 0.9z"/>
<path class="v10" d="M622.3 284.8l4.9-0.9 2 1.6-4.9 0.9z"/>
<path class="u3" d="M553.8 285.6l5.1-0.9 1.6 1.6 0 0.8-5 0.9-1.6-1.6z"/>
<path class="v3" d="M553.8 285.6l5.1-0.9 1.6 1.6-5 0.9z"/>
<path class="s5" d="M575.7 288.3l-1.8-1.7-0.7-52.7 1.8 1.4z"/>
<path class="f5" d="M575.7 288.3l5-0.9-0.6-52.9-5.1 0.8z"/>
<path class="t5" d="M573.2 233.9l5.1-0.8 1.8 1.4-5.1 0.8z"/>
<path class="u7" d="M594 286.1l5-0.9 1.8 1.6 0 0.8-4.9 0.9-1.9-1.6z"/>
<path class="v7" d="M594 286.1l5-0.9 1.8 1.6-4.9 0.9z"/>
<path class="u9" d="M614.2 286.3l4.9-0.9 2 1.6 0 0.8-4.9 1-2-1.7z"/>
<path class="v9" d="M614.2 286.3l4.9-0.9 2 1.6-4.9 0.9z"/>
<path class="u2" d="M545.4 287.1l5.1-0.9 1.6 1.6 0 0.8-5.1 1-1.6-1.7z"/>
<path class="v2" d="M545.4 287.1l5.1-0.9 1.6 1.6-5.1 1z"/>
<path class="s4" d="M567.3 289.8l-1.7-1.6-0.3-12.6 1.7 1.6z"/>
<path class="f4" d="M567.3 289.8l5-0.9-0.2-12.6-5.1 0.9z"/>
<path class="t4" d="M565.3 275.6l5.1-0.9 1.7 1.6-5.1 0.9z"/>
<path class="u1" d="M536.9 288.6l5.1-0.9 1.6 1.7 0 0.8-5.1 0.9-1.6-1.7z"/>
<path class="v1" d="M536.9 288.7l5.1-1 1.6 1.7-5.1 0.9z"/>
<path class="u6" d="M585.8 287.6l4.9-0.9 1.9 1.6 0 0.8-5 1-1.8-1.7z"/>
<path class="v6" d="M585.8 287.6l4.9-0.9 1.9 1.6-5 1z"/>
<path class="u8" d="M606 287.8l5-0.9 1.9 1.7 0 0.8-4.9 0.9-2-1.7z"/>
<path class="v8" d="M606 287.8l5-0.9 1.9 1.7-4.9 0.9z"/>
<path class="u10" d="M626.4 288.9l0-0.8 4.9-0.9 2 1.6 0 0.8-4.9 0.9z"/>
<path class="v10" d="M626.4 288.1l4.9-1 2 1.7-4.9 0.9z"/>
<path class="u3" d="M557.1 288.9l5.1-0.9 1.7 1.6 0 0.8-5.1 1-1.7-1.7z"/>
<path class="v3" d="M557.1 288.9l5.1-0.9 1.7 1.6-5.1 1z"/>
<path class="u0" d="M528.3 290.2l5.2-0.9 1.5 1.6 0 0.9-5.2 0.9-1.5-1.7z"/>
<path class="v0" d="M528.3 290.2l5.2-0.9 1.5 1.6-5.2 1z"/>
<path class="s5" d="M579.2 291.6l-1.8-1.7-0.6-53.2 1.8 1.4z"/>
<path class="f5" d="M579.2 291.6l5.1-0.9-0.5-53.4-5.2 0.8z"/>
<path class="t5" d="M576.8 236.7l5.1-0.8 1.9 1.4-5.2 0.8z"/>
<path class="u7" d="M597.8 289.4l5-1 1.9 1.7 0 0.8-5 1-1.9-1.7z"/>
<path class="v7" d="M597.8 289.4l4.9-1 2 1.7-5 1z"/>
<path class="u9" d="M618.2 290.4l0-0.8 4.9-0.9 2.1 1.7 0 0.8-5 0.9z"/>
<path class="v9" d="M618.2 289.6l4.9-0.9 2.1 1.7-5 0.9z"/>
<path class="u2" d="M548.6 290.4l5.1-0.9 1.7 1.7 0 0.8-5.1 0.9-1.7-1.7z"/>
<path class="v2" d="M548.6 290.4l5.1-0.9 1.7 1.7-5.2 0.9z"/>
<path class="s4" d="M570.8 293.2l-1.8-1.7-0.2-12.4 1.8 1.6z"/>
<path class="f4" d="M570.8 293.2l5-1-0.1-12.4-5.1 0.9z"/>
<path class="t4" d="M568.8 279.1l5.1-0.9 1.8 1.6-5.1 0.9z"/>
<path class="u6" d="M589.4 290.9l5-0.9 1.9 1.7 0 0.8-5 0.9-1.9-1.7z"/>
<path class="v6" d="M589.4 290.9l5.1-0.9 1.8 1.7-5 0.9z"/>
<path class="u1" d="M540 292l5.2-0.9 1.6 1.7 0 0.8-5.2 0.9-1.6-1.7z"/>
<path class="v1" d="M540 292l5.2-0.9 1.6 1.7-5.2 0.9z"/>
<path class="u10" d="M630.5 292.2l0-0.8 4.9-0.9 2.2 1.7 0 0.8-5 0.9z"/>
<path class="v10" d="M630.5 291.4l4.9-0.9 2.2 1.7-5 0.9z"/>
<path class="u8" d="M610 291.2l4.9-1 2 1.7 0 0.8-5 1-1.9-1.7z"/>
<path class="v8" d="M610 291.2l4.9-1 2 1.7-5 1z"/>
<path class="u3" d="M560.5 292.2l5.1-0.9 1.7 1.7 0 0.8-5.1 1-1.7-1.7z"/>
<path class="v3" d="M560.5 292.3l5.1-1 1.7 1.7-5.1 1z"/>
<path class="u0" d="M531.3 293.6l5.3-1 1.5 1.8 0.1 0.8-5.3 0.9-1.5-1.7z"/>
<path class="v0" d="M531.3 293.6l5.3-1 1.5 1.7-5.2 1z"/>
<path class="s5" d="M582.8 295l-1.8-1.7-0.5-53 1.9 1.4z"/>
<path class="f5" d="M582.8 295l5.1-0.9-0.3-53.2-5.2 0.8z"/>
<path class="t5" d="M580.5 240.3l5.2-0.8 1.9 1.4-5.2 0.8z"/>
<path class="u7" d="M601.6 292.8l5-1 2 1.7 0 0.8-5 1-2-1.7z"/>
<path class="v7" d="M601.6 292.8l5-1 2 1.7-5 1z"/>
<path class="u9" d="M622.3 293.8l0-0.8 4.9-1 2.1 1.8 0 0.8-4.9 0.9z"/>
<path class="v9" d="M622.3 293l4.9-0.9 2.1 1.7-4.9 0.9z"/>
<path class="u2" d="M551.9 293.8l5.1-0.9 1.7 1.7 0.1 0.8-5.2 1-1.7-1.8z"/>
<path class="v2" d="M551.9 293.8l5.2-0.9 1.6 1.7-5.1 1z"/>
<path class="s4" d="M574.3 296.6l-1.8-1.7-0.2-12.3 1.8 1.7z"/>
<path class="f4" d="M574.3 296.6l5.1-0.9-0.1-12.4-5.2 1z"/>
<path class="t4" d="M572.3 282.6l5.2-0.9 1.8 1.6-5.2 1z"/>
<path class="u6" d="M593.2 294.3l5-0.9 2 1.7 0 0.8-5.1 1-1.9-1.7z"/>
<path class="v6" d="M593.2 294.3l5.1-0.9 1.9 1.7-5.1 1z"/>
<path class="u10" d="M634.8 295.7l0-0.9 4.9-0.9 2.2 1.7 0 0.8-5 1z"/>
<path class="v10" d="M634.8 294.9l4.9-1 2.2 1.7-5 1z"/>
<path class="u1" d="M543.2 295.4l5.2-0.9 1.7 1.7 0 0.8-5.2 1-1.7-1.8z"/>
<path class="v1" d="M543.2 295.4l5.2-0.9 1.7 1.7-5.3 1z"/>
<path class="u8" d="M613.9 295.4l0.1-0.8 5-1 2 1.8 0 0.8-5 1z"/>
<path class="v8" d="M614 294.6l5-1 2 1.8-5 0.9z"/>
<path class="u3" d="M563.9 295.7l5.2-1 1.7 1.8 0.1 0.8-5.2 1-1.8-1.8z"/>
<path class="v3" d="M563.9 295.7l5.2-1 1.8 1.8-5.2 0.9z"/>
<path class="u0" d="M534.5 297.1l5.3-0.9 1.6 1.7 0.1 0.8-5.3 1-1.6-1.7z"/>
<path class="v0" d="M534.4 297l5.3-0.9 1.6 1.7-5.3 1z"/>
<path class="s5" d="M586.6 298.5l-1.9-1.7-0.4-53.6 1.9 1.5z"/>
<path class="f5" d="M586.6 298.5l5.1-1-0.2-53.6-5.3 0.8z"/>
<path class="t5" d="M584.3 243.2l5.2-0.8 2 1.5-5.3 0.8z"/>
<path class="u7" d="M605.5 297l0-0.8 5.1-1 2 1.8 0 0.8-5.1 1z"/>
<path class="v7" d="M605.5 296.2l5.1-1 2 1.8-5.1 1z"/>
<path class="u9" d="M626.4 297.3l0-0.8 5.1-1 2.1 1.7 0 0.9-5 1z"/>
<path class="v9" d="M626.5 296.5l5-1 2.1 1.7-5 1z"/>
<path class="u2" d="M555.2 297.3l5.2-1 1.8 1.8 0 0.8-5.2 1-1.7-1.8z"/>
<path class="v2" d="M555.2 297.3l5.3-1 1.7 1.8-5.3 1z"/>
<path class="s4" d="M577.9 300.2l-1.8-1.8-0.1-12.2 1.8 1.7z"/>
<path class="f4" d="M577.9 300.2l5.2-1-0.1-12.3-5.2 1z"/>
<path class="t4" d="M576 286.2l5.1-1 1.9 1.7-5.2 1z"/>
<path class="u10" d="M639.1 299.2l0-0.8 5-1 2.3 1.8-0.1 0.8-5 1z"/>
<path class="v10" d="M639.1 298.4l5-1 2.3 1.8-5.1 0.9z"/>
<path class="u6" d="M597 297.8l5.2-0.9 1.9 1.7 0 0.8-5.1 1-2-1.7z"/>
<path class="v6" d="M597 297.8l5.1-0.9 2 1.7-5.1 1z"/>
<path class="u8" d="M618 298.9l0-0.8 5.1-1 2.1 1.8 0 0.8-5.1 1z"/>
<path class="v8" d="M618 298.1l5.1-1 2.1 1.8-5.1 1z"/>
<path class="u1" d="M546.5 298.9l5.2-0.9 1.7 1.7 0 0.9-5.2 1-1.7-1.8z"/>
<path class="v1" d="M546.5 298.9l5.2-0.9 1.7 1.7-5.3 1z"/>
<path class="u3" d="M567.4 299.2l5.2-1 1.9 1.8 0 0.8-5.3 1-1.8-1.8z"/>
<path class="v3" d="M567.4 299.2l5.2-1 1.9 1.8-5.3 1z"/>
<path class="u0" d="M537.6 300.6l5.4-1 1.6 1.8 0 0.8-5.3 1-1.6-1.8z"/>
<path class="v0" d="M537.6 300.6l5.3-1 1.7 1.8-5.4 1z"/>
<path class="s5" d="M590.4 302.1l-1.9-1.8-0.4-53.4 2 1.6z"/>
<path class="f5" d="M590.4 302.1l5.2-1-0.2-53.5-5.3 0.9z"/>
<path class="t5" d="M588.1 246.9l5.4-0.8 1.9 1.5-5.3 0.9z"/>
<path class="u9" d="M630.7 300.9l0-0.8 5.1-1 2.2 1.8 0 0.8-5.1 1.1z"/>
<path class="v9" d="M630.7 300l5.1-1 2.2 1.8-5.1 1z"/>
<path class="u7" d="M609.5 299.8l5.1-1 2 1.7 0 0.9-5.1 1-2-1.8z"/>
<path class="v7" d="M609.6 299.7l5.1-0.9 2 1.7-5.1 1z"/>
<path class="u2" d="M558.7 300.9l5.2-1 1.8 1.8 0 0.8-5.3 1-1.7-1.8z"/>
<path class="v2" d="M558.7 300.9l5.2-1 1.8 1.8-5.3 1z"/>
<path class="s4" d="M581.7 303.8l-1.9-1.8-0.1-12.1 1.8 1.8z"/>
<path class="f4" d="M581.7 303.8l5.2-1-0.1-12.1-5.3 1z"/>
<path class="t4" d="M579.7 289.9l5.2-1 1.9 1.8-5.3 1z"/>
<path class="u10" d="M643.5 302.8l0-0.8 5-1 2.3 1.8 0 0.8-5.1 1z"/>
<path class="v10" d="M643.6 302l5-1 2.3 1.8-5.1 1z"/>
<path class="u6" d="M601 300.9l5.1-1 2.1 1.9 0 1.3-5.2 1.1-2-1.9z"/>
<path class="v6" d="M601 300.9l5.1-1 2.1 1.8-5.2 1z"/>
<path class="u8" d="M622.2 302.5l0-0.8 5.1-1 2.2 1.8 0 0.8-5.1 1.1z"/>
<path class="v8" d="M622.2 301.7l5.1-1 2.2 1.8-5.1 1z"/>
<path class="u1" d="M549.8 302.5l5.3-1 1.8 1.9 0 0.8-5.4 1-1.7-1.8z"/>
<path class="v1" d="M549.8 302.5l5.3-1 1.8 1.9-5.4 1z"/>
<path class="u3" d="M571 302.8l5.3-1 1.9 1.8 0 0.9-5.3 1-1.9-1.9z"/>
<path class="v3" d="M571 302.8l5.3-1 1.8 1.8-5.2 1z"/>
<path class="u0" d="M540.9 304.2l5.4-1 1.6 1.8 0.1 0.9-5.4 1-1.7-1.8z"/>
<path class="v0" d="M540.9 304.2l5.4-1 1.6 1.8-5.4 1.1z"/>
<path class="s5" d="M594.3 305.8l-2-1.9-0.2-53.1 2 1.5z"/>
<path class="f5" d="M594.3 305.8l5.2-1.1 0-53.3-5.4 0.9z"/>
<path class="t5" d="M592.1 250.8l5.4-0.9 2 1.5-5.4 0.9z"/>
<path class="u9" d="M635.1 304.5l0-0.9 5.1-1 2.2 1.9 0 0.8-5.1 1z"/>
<path class="v9" d="M635.1 303.6l5.1-1 2.2 1.9-5.1 1z"/>
<path class="u7" d="M613.7 303.4l5.1-1 2.1 1.8 0 0.8-5.1 1-2.1-1.8z"/>
<path class="v7" d="M613.7 303.4l5.1-1 2.1 1.8-5.1 1z"/>
<path class="u2" d="M562.2 304.5l5.3-1 1.8 1.8 0 0.9-5.3 1-1.8-1.8z"/>
<path class="v2" d="M562.2 304.5l5.3-1 1.8 1.8-5.3 1.1z"/>
<path class="s4" d="M585.5 307.5l-1.9-1.9-0.1-12 1.9 1.8z"/>
<path class="f4" d="M585.5 307.5l5.3-1-0.1-12.1-5.3 1z"/>
<path class="t4" d="M583.5 293.6l5.3-0.9 1.9 1.7-5.3 1z"/>
<path class="u10" d="M648.1 306.5l0-0.9 5.1-1 2.4 1.9-0.1 0.8-5.1 1.1z"/>
<path class="v10" d="M648.1 305.6l5.1-1 2.4 1.9-5.2 1z"/>
<path class="s6" d="M607 307.8l-2-1.9 0-2.1 2.1 1.9z"/>
<path class="f6" d="M607 307.8l5.3-1.1 0-2.1-5.2 1.1z"/>
<path class="t6" d="M605 303.8l5.2-1 2.1 1.8-5.2 1.1z"/>
<path class="u8" d="M626.5 306.2l0-0.8 5.2-1.1 2.2 1.9 0 0.8-5.2 1.1z"/>
<path class="v8" d="M626.5 305.4l5.2-1.1 2.2 1.9-5.2 1z"/>
<path class="u1" d="M553.2 306.2l5.4-1 1.8 1.8 0 0.9-5.4 1-1.7-1.8z"/>
<path class="v1" d="M553.2 306.2l5.4-1 1.8 1.9-5.4 1z"/>
<path class="u3" d="M574.7 306.5l5.3-1 1.9 1.8 0 0.9-5.3 1-1.9-1.8z"/>
<path class="v3" d="M574.7 306.5l5.3-1 1.9 1.8-5.3 1.1z"/>
<path class="u9" d="M639.5 308.2l0-0.8 5.1-1.1 2.3 1.9 0 0.9-5.2 1z"/>
<path class="v9" d="M639.6 307.4l5.1-1.1 2.3 1.9-5.2 1.1z"/>
<path class="s5" d="M598.3 309.5l-2-1.9-0.1-52.9 2 1.6z"/>
<path class="f5" d="M598.3 309.5l5.2-1 0.2-53.1-5.5 0.9z"/>
<path class="t5" d="M596.2 254.7l5.4-0.9 2.1 1.6-5.5 0.9z"/>
<path class="u7" d="M617.9 307.9l0-0.8 5.2-1.1 2.1 1.9 0 0.9-5.2 1z"/>
<path class="v7" d="M617.9 307.1l5.2-1.1 2.1 1.9-5.2 1.1z"/>
<path class="u0" d="M544.2 307.9l5.4-1.1 1.8 1.9 0 0.8-5.5 1.1-1.7-1.9z"/>
<path class="v0" d="M544.2 307.9l5.4-1 1.8 1.9-5.5 1z"/>
<path class="u2" d="M565.8 308.2l5.4-1 1.8 1.9 0 0.8-5.4 1.1-1.8-1.9z"/>
<path class="v2" d="M565.8 308.2l5.3-1 1.9 1.9-5.4 1z"/>
<path class="s4" d="M589.4 311.3l-2-1.9-0.1-11.9 2 1.8z"/>
<path class="f4" d="M589.4 311.3l5.3-1.1 0-11.9-5.4 1z"/>
<path class="t4" d="M587.3 297.5l5.4-1 2 1.8-5.4 1z"/>
<path class="u8" d="M630.9 310l0-0.9 5.2-1 2.3 1.9 0 0.8-5.3 1.1z"/>
<path class="v8" d="M630.9 309.1l5.2-1 2.3 1.9-5.2 1z"/>
<path class="s6" d="M611.2 311.6l-2.1-1.9 0-3.6 2.1 1.9z"/>
<path class="f6" d="M611.2 311.6l5.3-1.1 0-3.5-5.3 1z"/>
<path class="t6" d="M609.1 306.1l5.3-1 2.1 1.9-5.3 1z"/>
<path class="u1" d="M556.8 310l5.4-1.1 1.8 1.9 0 0.9-5.4 1.1-1.8-2z"/>
<path class="v1" d="M556.8 310l5.4-1.1 1.8 1.9-5.5 1.1z"/>
<path class="u3" d="M578.5 310.3l5.3-1.1 2 1.9 0 0.9-5.4 1.1-1.9-2z"/>
<path class="v3" d="M578.5 310.3l5.4-1.1 1.9 1.9-5.4 1.1z"/>
<path class="u7" d="M622.2 311.7l0-0.8 5.2-1.1 2.3 1.9-0.1 0.9-5.2 1.1z"/>
<path class="v7" d="M622.2 310.9l5.2-1.1 2.3 1.9-5.3 1.1z"/>
<path class="s5" d="M602.4 313.4l-2.1-2 0-52.7 2.2 1.6z"/>
<path class="f5" d="M602.4 313.4l5.3-1.1 0.2-52.9-5.4 0.9z"/>
<path class="t5" d="M600.3 258.7l5.5-0.9 2.1 1.6-5.4 0.9z"/>
<path class="u0" d="M547.6 311.8l5.5-1.1 1.8 1.9 0 0.9-5.5 1.1-1.7-2z"/>
<path class="v0" d="M547.6 311.8l5.5-1.1 1.8 1.9-5.5 1.1z"/>
<path class="u2" d="M569.5 312.1l5.4-1.1 1.9 1.9 0 0.9-5.4 1.1-1.9-2z"/>
<path class="v2" d="M569.5 312.1l5.4-1.1 1.9 1.9-5.5 1.1z"/>
<path class="s4" d="M593.4 315.2l-2-2-0.1-11.7 2 1.9z"/>
<path class="f4" d="M593.4 315.2l5.4-1.1 0-11.8-5.5 1.1z"/>
<path class="t4" d="M591.3 301.5l5.4-1 2.1 1.8-5.5 1.1z"/>
<path class="s6" d="M615.5 315.5l-2.1-2 0-7.2 2.2 2z"/>
<path class="f6" d="M615.5 315.5l5.3-1.1 0.1-7.2-5.3 1.1z"/>
<path class="t6" d="M613.4 306.3l5.3-1 2.2 1.9-5.3 1.1z"/>
<path class="u1" d="M560.3 313.9l5.5-1 1.9 1.9 0 0.9-5.5 1.1-1.8-2z"/>
<path class="v1" d="M560.3 313.8l5.5-1 1.9 1.9-5.5 1.1z"/>
<path class="u3" d="M582.4 314.1l5.4-1.1 2 1.9 0 0.9-5.5 1.1-1.9-2z"/>
<path class="v3" d="M582.3 314.2l5.5-1.1 2 1.9-5.5 1.1z"/>
<path class="s5" d="M606.5 317.3l-2.1-2 0.2-52.5 2.2 1.7z"/>
<path class="f5" d="M606.5 317.3l5.4-1.1 0.4-52.7-5.5 1z"/>
<path class="t5" d="M604.6 262.8l5.5-1 2.2 1.7-5.5 1z"/>
<path class="u0" d="M551.1 315.7l5.6-1.1 1.8 2 0 0.8-5.6 1.1-1.7-2z"/>
<path class="v0" d="M551.1 315.7l5.6-1.1 1.8 1.9-5.6 1.1z"/>
<path class="u2" d="M573.2 316l5.5-1.1 2 2 0 0.8-5.5 1.1-2-2z"/>
<path class="v2" d="M573.2 316l5.5-1.1 2 2-5.5 1.1z"/>
<path class="s4" d="M597.5 319.2l-2.1-2.1 0-11.6 2.1 2z"/>
<path class="f4" d="M597.5 319.2l5.4-1.2 0.1-11.6-5.5 1.1z"/>
<path class="t4" d="M595.4 305.5l5.5-1 2.1 1.9-5.5 1.1z"/>
<path class="u1" d="M564 317.8l5.6-1.1 1.9 2 0 0.9-5.6 1.1-1.9-2z"/>
<path class="v1" d="M564 317.8l5.6-1.1 1.9 2-5.6 1.1z"/>
<path class="u3" d="M586.3 318.1l5.5-1.1 2 2 0 0.9-5.5 1.1-2-2z"/>
<path class="v3" d="M586.3 318.1l5.5-1.1 2 2-5.5 1.1z"/>
<path class="u0" d="M554.7 319.7l5.6-1.2 1.9 2.1 0 0.8-5.6 1.2-1.9-2.1z"/>
<path class="v0" d="M554.7 319.7l5.6-1.2 1.9 2.1-5.7 1.1z"/>
<path class="u2" d="M577.1 320l5.5-1.1 2 2 0 0.9-5.5 1.1-2-2z"/>
<path class="v2" d="M577.1 320l5.5-1.1 2 2-5.5 1.1z"/>
<path class="u1" d="M567.8 321.9l5.6-1.2 2 2.1 0 0.9-5.7 1.1-1.9-2.1z"/>
<path class="v1" d="M567.8 321.9l5.6-1.2 1.9 2.1-5.6 1.1z"/>
<path class="u0" d="M558.4 323.8l5.6-1.2 2 2.1 0 0.9-5.7 1.1-1.9-2.1z"/>
<path class="v0" d="M558.4 323.8l5.6-1.2 2 2.1-5.7 1.2z"/>
<g font-family="Liberation Serif" fill="#111" stroke="#111" stroke-width="0.15">
<text transform="matrix(1.7003,-0.3577,0.7005,0.7801,570.00,336.10)" font-size="13" text-anchor="middle" dominant-baseline="central">0</text>
<text transform="matrix(1.6103,-0.3391,0.7883,0.7379,617.70,326.40)" font-size="13" text-anchor="middle" dominant-baseline="central">5</text>
<text transform="matrix(1.5105,-0.3170,0.8708,0.6880,668.20,314.60)" font-size="13" text-anchor="middle" dominant-baseline="central">10</text>
<text transform="matrix(1.6646,-0.3647,0.8363,0.7959,625.40,339.20)" font-size="13" font-style="italic" text-anchor="middle" dominant-baseline="central">n</text>
<text transform="matrix(0.4906,0.5908,-1.5298,0.2738,510.30,292.00)" font-size="13" text-anchor="middle" dominant-baseline="central">0</text>
<text transform="matrix(0.5525,0.6676,-1.6128,0.3079,525.00,310.70)" font-size="13" text-anchor="middle" dominant-baseline="central">5</text>
<text transform="matrix(0.6166,0.7472,-1.6927,0.3432,539.30,329.00)" font-size="13" text-anchor="middle" dominant-baseline="central">10</text>
<text transform="matrix(0.5159,0.6993,-1.6708,0.3220,502.20,318.30)" font-size="13" font-style="italic" text-anchor="middle" dominant-baseline="central">t</text>
</g>
<line x1="521.4" y1="376.7" x2="614.2" y2="363.8" stroke="#888" stroke-width="0.75" stroke-dasharray="1.3,1.4"/>
<line x1="522.9" y1="411.9" x2="614.0" y2="397.5" stroke="#888" stroke-width="0.75" stroke-dasharray="1.3,1.4"/>
<line x1="528.6" y1="445.0" x2="525.8" y2="376.1" stroke="#bbb" stroke-width="0.6" stroke-dasharray="4,2"/>
<line x1="609.8" y1="430.6" x2="610.2" y2="364.4" stroke="#bbb" stroke-width="0.6" stroke-dasharray="4,2"/>
<line x1="614.2" y1="363.8" x2="662.5" y2="392.9" stroke="#bbb" stroke-width="0.6"/>
<line x1="614.0" y1="397.5" x2="661.2" y2="430.5" stroke="#bbb" stroke-width="0.6"/>
<line x1="635.4" y1="447.1" x2="636.8" y2="377.4" stroke="#999" stroke-width="0.6" stroke-dasharray="4,2"/>
<line x1="660.0" y1="466.6" x2="662.5" y2="392.9" stroke="#666" stroke-width="0.7" stroke-dasharray="3,2"/>
<line x1="613.7" y1="429.9" x2="614.2" y2="363.8" stroke="#999" stroke-width="0.6" stroke-dasharray="4,2"/>
<line x1="524.3" y1="445.8" x2="521.4" y2="376.7" stroke="#bbb" stroke-width="0.6"/>
<line x1="524.3" y1="445.8" x2="521.4" y2="376.7" stroke="#333" stroke-width="1.0"/>
<path d="M524.3 445.8h-3.0M524.0 439.1h-1.6M523.7 432.4h-1.6M523.5 425.6h-1.6M523.2 418.8h-1.6M522.9 411.9h-3.0M522.6 405.0h-1.6M522.3 398.0h-1.6M522.0 391.0h-1.6M521.7 383.9h-1.6M521.4 376.7h-3.0M521.4 376.7h2.5" stroke="#333" stroke-width="0.7" fill="none"/>
<line x1="560.8" y1="486.9" x2="660.0" y2="466.6" stroke="#444" stroke-width="0.8"/>
<line x1="560.8" y1="486.9" x2="524.3" y2="445.8" stroke="#444" stroke-width="0.8"/>
<path d="M565.6 485.9L567.9 488.5M525.8 447.4L520.6 448.4M575.0 484.0L576.4 485.5M528.8 450.8L525.7 451.3M584.4 482.1L585.8 483.5M531.8 454.2L528.7 454.8M593.6 480.2L595.1 481.6M534.9 457.7L531.8 458.3M602.8 478.3L604.3 479.7M538.1 461.3L535.0 461.9M611.8 476.5L614.4 478.9M541.4 465.0L535.9 466.0M620.8 474.6L622.3 476.0M544.7 468.8L541.5 469.4M629.7 472.8L631.2 474.2M548.1 472.6L544.9 473.3M638.4 471.0L640.1 472.4M551.6 476.6L548.4 477.2M647.1 469.2L648.8 470.6M555.2 480.6L551.9 481.3M655.7 467.5L658.6 469.8M558.9 484.8L553.2 486.0" stroke="#444" stroke-width="0.6" fill="none"/>
<path class="u10" d="M607.1 430.7l0-0.8 4.6-0.8 1.9 1.5 0 0.8-4.7 0.8z"/>
<path class="v10" d="M607.2 429.9l4.6-0.8 1.9 1.5-4.7 0.8z"/>
<path class="u9" d="M599.4 431.3l4.6-0.8 1.9 1.5 0 0.8-4.7 0.8-1.8-1.5z"/>
<path class="v9" d="M599.3 431.3l4.7-0.8 1.9 1.5-4.8 0.8z"/>
<path class="u8" d="M591.5 432.7l4.7-0.8 1.8 1.5 0 0.8-4.8 0.8-1.7-1.5z"/>
<path class="v8" d="M591.5 432.7l4.7-0.8 1.8 1.5-4.8 0.8z"/>
<path class="u10" d="M611.8 434.5l0-0.8 4.7-0.9 1.9 1.6 0 0.7-4.7 0.9z"/>
<path class="v10" d="M611.8 433.7l4.7-0.9 1.9 1.6-4.7 0.8z"/>
<path class="u7" d="M583.5 434.1l4.8-0.8 1.7 1.5 0 0.8-4.8 0.8-1.7-1.5z"/>
<path class="v7" d="M583.5 434.1l4.8-0.8 1.7 1.5-4.8 0.9z"/>
<path class="s9" d="M605.7 437.4l-1.8-1.5 0-2.9 1.9 1.5z"/>
<path class="f9" d="M605.7 437.4l4.8-0.8 0-3-4.7 0.9z"/>
<path class="t9" d="M603.9 433l4.7-0.9 1.9 1.5-4.7 0.9z"/>
<path class="u6" d="M575.5 435.6l4.8-0.9 1.7 1.5 0 0.8-4.8 0.9-1.7-1.6z"/>
<path class="v6" d="M575.5 435.6l4.8-0.9 1.7 1.5-4.8 0.9z"/>
<path class="s8" d="M597.7 438.9l-1.8-1.6 0-5.2 1.8 1.5z"/>
<path class="f8" d="M597.7 438.9l4.9-0.9 0-5.2-4.9 0.8z"/>
<path class="t8" d="M595.9 432.1l4.8-0.9 1.9 1.6-4.9 0.8z"/>
<path class="u10" d="M615.6 436.8l4.7-0.9 2 1.5 0 0.8-4.8 0.9-1.9-1.6z"/>
<path class="v10" d="M615.6 436.8l4.7-0.9 2 1.5-4.8 0.9z"/>
<path class="s5" d="M569.1 439.3l-1.7-1.5-1.3-67.6 1.8 1.2z"/>
<path class="f5" d="M569.1 439.3l4.8-0.8-1-67.8-5 0.7z"/>
<path class="t5" d="M566.1 370.2l5.1-0.7 1.7 1.2-5 0.7z"/>
<path class="u4" d="M559.2 438.4l4.9-0.8 1.7 1.5 0 0.8-5 0.9-1.6-1.6z"/>
<path class="v4" d="M559.2 438.4l4.9-0.8 1.7 1.5-5 0.9z"/>
<path class="s7" d="M589.7 440.3l-1.8-1.5-0.1-7.3 1.8 1.6z"/>
<path class="f7" d="M589.7 440.3l4.8-0.8 0-7.3-4.9 0.9z"/>
<path class="t7" d="M587.8 431.5l4.9-0.8 1.8 1.5-4.9 0.9z"/>
<path class="s9" d="M609.5 440.6l-1.9-1.6 0-3 1.9 1.6z"/>
<path class="f9" d="M609.5 440.6l4.8-0.9 0-3-4.8 0.9z"/>
<path class="t9" d="M607.6 436l4.8-0.8 1.9 1.5-4.8 0.9z"/>
<path class="u3" d="M550.9 439.9l5-0.9 1.6 1.6 0 0.8-4.9 0.9-1.6-1.6z"/>
<path class="v3" d="M550.9 439.9l5-0.9 1.6 1.6-5 0.9z"/>
<path class="s6" d="M581.5 441.8l-1.7-1.6-0.2-12.5 1.8 1.5z"/>
<path class="f6" d="M581.5 441.8l4.9-0.9-0.1-12.6-4.9 0.9z"/>
<path class="t6" d="M579.6 427.7l4.9-0.9 1.8 1.5-4.9 0.9z"/>
<path class="s8" d="M601.4 442l-1.8-1.5 0-5.3 1.8 1.5z"/>
<path class="f8" d="M601.4 442l4.9-0.8 0-5.3-4.9 0.8z"/>
<path class="t8" d="M599.6 435.2l4.8-0.9 1.9 1.6-4.9 0.8z"/>
<path class="u10" d="M619.5 440.7l0.1-0.8 4.7-0.9 2 1.6 0 0.8-4.8 0.9z"/>
<path class="v10" d="M619.5 439.9l4.7-0.9 2 1.6-4.8 0.9z"/>
<path class="u2" d="M542.6 441.4l5-0.9 1.6 1.6 0 0.8-5 0.9-1.6-1.6z"/>
<path class="v2" d="M542.6 441.4l5-0.9 1.6 1.6-5 0.9z"/>
<path class="s5" d="M573.3 443.3l-1.7-1.6-0.3-17.3 1.7 1.5z"/>
<path class="f5" d="M573.3 443.3l4.9-0.9-0.2-17.3-5 0.8z"/>
<path class="t5" d="M571.3 424.4l5-0.8 1.7 1.5-5 0.8z"/>
<path class="s7" d="M593.3 443.5l-1.8-1.6-0.1-7.2 1.9 1.6z"/>
<path class="f7" d="M593.3 443.5l4.9-0.9 0-7.2-4.9 0.9z"/>
<path class="t7" d="M591.4 434.7l4.9-0.9 1.9 1.6-4.9 0.9z"/>
<path class="s9" d="M613.4 443.8l-2-1.6 0-3 2 1.6z"/>
<path class="f9" d="M613.4 443.8l4.8-0.9 0-3-4.8 0.9z"/>
<path class="t9" d="M611.4 439.2l4.9-0.9 1.9 1.6-4.8 0.9z"/>
<path class="u1" d="M534.2 442.9l5.1-0.9 1.5 1.6 0 0.8-5.1 0.9-1.5-1.6z"/>
<path class="v1" d="M534.2 442.9l5.1-0.9 1.5 1.6-5.1 0.9z"/>
<path class="s4" d="M565 444.8l-1.7-1.6-0.3-15.3 1.7 1.5z"/>
<path class="f4" d="M565 444.8l5-0.9-0.3-15.4-5 0.9z"/>
<path class="t4" d="M563 427.9l5-0.9 1.7 1.5-5 0.9z"/>
<path class="s6" d="M585.1 445.1l-1.8-1.7-0.1-12.5 1.8 1.6z"/>
<path class="f6" d="M585.1 445.1l4.9-1-0.1-12.5-4.9 0.9z"/>
<path class="t6" d="M583.2 430.9l4.9-0.9 1.8 1.6-4.9 0.9z"/>
<path class="u0" d="M525.7 444.4l5.1-0.9 1.5 1.6 0 0.8-5.1 0.9-1.5-1.6z"/>
<path class="v0" d="M525.7 444.4l5.1-0.9 1.5 1.6-5.1 0.9z"/>
<path class="s8" d="M605.2 445.3l-1.9-1.6 0-5.4 1.9 1.6z"/>
<path class="f8" d="M605.2 445.3l4.9-0.9 0-5.4-4.9 0.9z"/>
<path class="t8" d="M603.3 438.3l4.9-0.9 1.9 1.6-4.9 0.9z"/>
<path class="u10" d="M623.4 443.9l0-0.8 4.9-0.9 2 1.6 0 0.8-4.9 0.9z"/>
<path class="v10" d="M623.4 443.1l4.9-0.9 2 1.6-4.9 0.9z"/>
<path class="s3" d="M556.6 446.3l-1.6-1.6-0.3-8.7 1.7 1.6z"/>
<path class="f3" d="M556.6 446.3l5-0.9-0.2-8.7-5 0.9z"/>
<path class="t3" d="M554.7 436l5.1-0.9 1.6 1.6-5 0.9z"/>
<path class="s5" d="M576.8 446.6l-1.8-1.7-0.2-17.2 1.7 1.5z"/>
<path class="f5" d="M576.8 446.6l5-0.9-0.2-17.3-5.1 0.8z"/>
<path class="t5" d="M574.8 427.7l5-0.9 1.8 1.6-5.1 0.8z"/>
<path class="s7" d="M597 446.8l-1.9-1.6 0-7.3 1.9 1.7z"/>
<path class="f7" d="M597 446.8l4.9-0.9 0-7.2-4.9 0.9z"/>
<path class="t7" d="M595.1 437.9l5-0.8 1.8 1.6-4.9 0.9z"/>
<path class="s9" d="M617.3 447.1l-2-1.7 0-3 2 1.6z"/>
<path class="f9" d="M617.3 447.1l4.9-1 0-3-4.9 0.9z"/>
<path class="t9" d="M615.3 442.4l4.9-0.9 2 1.6-4.9 0.9z"/>
<path class="s2" d="M548.1 447.9l-1.6-1.7-0.1-4 1.6 1.6z"/>
<path class="f2" d="M548.1 447.9l5.1-0.9-0.1-4.1-5.1 0.9z"/>
<path class="t2" d="M546.4 442.2l5.1-0.9 1.6 1.6-5.1 0.9z"/>
<path class="s4" d="M568.4 448.1l-1.7-1.6-0.3-15.3 1.7 1.6z"/>
<path class="f4" d="M568.4 448.1l5-0.9-0.2-15.3-5.1 0.9z"/>
<path class="t4" d="M566.4 431.2l5-0.9 1.8 1.6-5.1 0.9z"/>
<path class="u1" d="M538 446.9l5.1-1 1.6 1.7 0 0.8-5.1 0.9-1.6-1.6z"/>
<path class="v1" d="M538 447l5.1-1 1.6 1.7-5.1 0.9z"/>
<path class="s6" d="M588.7 448.4l-1.8-1.7-0.1-12.5 1.8 1.6z"/>
<path class="f6" d="M588.7 448.4l5-1-0.1-12.5-5 0.9z"/>
<path class="t6" d="M586.8 434.2l5-0.9 1.8 1.6-5 0.9z"/>
<path class="s8" d="M609.1 448.6l-2-1.7 0.1-5.3 1.9 1.6z"/>
<path class="f8" d="M609.1 448.6l4.9-0.9 0.1-5.4-5 0.9z"/>
<path class="t8" d="M607.2 441.6l4.9-0.9 2 1.6-5 0.9z"/>
<path class="u10" d="M627.5 447.2l0-0.8 4.9-1 2 1.7 0 0.8-4.9 0.9z"/>
<path class="v10" d="M627.5 446.4l4.9-1 2 1.7-4.9 0.9z"/>
<path class="s3" d="M559.9 449.7l-1.7-1.7-0.2-8.8 1.7 1.7z"/>
<path class="f3" d="M559.9 449.7l5.1-1-0.2-8.7-5.1 0.9z"/>
<path class="t3" d="M558 439.2l5.1-0.9 1.7 1.7-5.1 0.9z"/>
<path class="u0" d="M529.4 448.5l5.2-0.9 1.5 1.6 0 0.8-5.1 1-1.6-1.7z"/>
<path class="v0" d="M529.4 448.5l5.2-0.9 1.5 1.6-5.2 1z"/>
<path class="s5" d="M580.3 449.9l-1.8-1.7-0.2-17.1 1.8 1.6z"/>
<path class="f5" d="M580.3 449.9l5.1-0.9-0.2-17.2-5.1 0.9z"/>
<path class="t5" d="M578.3 431.1l5.1-0.9 1.8 1.6-5.1 0.9z"/>
<path class="s7" d="M600.8 450.2l-1.9-1.7 0-7.2 1.9 1.6z"/>
<path class="f7" d="M600.8 450.2l5-1 0-7.2-5 0.9z"/>
<path class="t7" d="M598.9 441.3l5-1 1.9 1.7-5 0.9z"/>
<path class="s9" d="M621.3 450.4l-2-1.7 0-3 2.1 1.7z"/>
<path class="f9" d="M621.3 450.4l5-0.9 0-3.1-4.9 1z"/>
<path class="t9" d="M619.3 445.7l5-0.9 2 1.6-4.9 1z"/>
<path class="s2" d="M551.4 451.2l-1.7-1.7-0.1-4 1.7 1.7z"/>
<path class="f2" d="M551.4 451.2l5.1-0.9-0.1-4.1-5.1 1z"/>
<path class="t2" d="M549.6 445.5l5.1-0.9 1.7 1.6-5.1 1z"/>
<path class="s4" d="M571.9 451.5l-1.8-1.7-0.3-15.2 1.8 1.7z"/>
<path class="f4" d="M571.9 451.5l5-1-0.2-15.1-5.1 0.9z"/>
<path class="t4" d="M569.8 434.6l5.2-0.9 1.7 1.7-5.1 0.9z"/>
<path class="u1" d="M541.1 450.3l5.2-0.9 1.6 1.7 0 0.8-5.2 0.9-1.5-1.7z"/>
<path class="v1" d="M541.1 450.3l5.2-0.9 1.6 1.7-5.2 0.9z"/>
<path class="s6" d="M592.4 451.7l-1.9-1.7 0-12.4 1.9 1.6z"/>
<path class="f6" d="M592.4 451.7l5-0.9 0-12.5-5 0.9z"/>
<path class="t6" d="M590.5 437.6l5-0.9 1.9 1.6-5 0.9z"/>
<path class="u10" d="M631.6 450.5l0-0.8 5-0.9 2.1 1.7 0 0.8-5 0.9z"/>
<path class="v10" d="M631.6 449.7l4.9-0.9 2.2 1.7-5 0.9z"/>
<path class="s8" d="M613 452l-2-1.7 0.1-5.4 2 1.6z"/>
<path class="f8" d="M613 452l5-1 0.1-5.4-5 0.9z"/>
<path class="t8" d="M611.1 444.9l5-1 2 1.7-5 0.9z"/>
<path class="s3" d="M563.3 453.1l-1.7-1.7-0.2-8.9 1.7 1.7z"/>
<path class="f3" d="M563.3 453.1l5.1-1-0.1-8.8-5.2 0.9z"/>
<path class="t3" d="M561.4 442.5l5.1-0.9 1.8 1.7-5.2 0.9z"/>
<path class="u0" d="M532.4 451.9l5.3-1 1.5 1.7 0.1 0.9-5.3 0.9-1.5-1.7z"/>
<path class="v0" d="M532.4 451.9l5.3-1 1.5 1.7-5.2 1z"/>
<path class="s5" d="M583.9 453.3l-1.8-1.7-0.2-17.1 1.9 1.6z"/>
<path class="f5" d="M583.9 453.3l5.1-0.9-0.1-17.2-5.1 0.9z"/>
<path class="t5" d="M581.9 434.5l5.2-0.9 1.8 1.6-5.1 0.9z"/>
<path class="s7" d="M604.7 453.6l-2-1.7 0-7.3 2 1.7z"/>
<path class="f7" d="M604.7 453.6l5-1 0-7.2-5 0.9z"/>
<path class="t7" d="M602.7 444.6l5.1-0.9 1.9 1.7-5 0.9z"/>
<path class="s9" d="M625.4 453.8l-2-1.7 0-3 2.1 1.7z"/>
<path class="f9" d="M625.4 453.8l5-0.9 0.1-3.1-5 1z"/>
<path class="t9" d="M623.4 449.1l5-1 2.1 1.7-5 1z"/>
<path class="s2" d="M554.7 454.7l-1.7-1.7-0.1-4.1 1.7 1.7z"/>
<path class="f2" d="M554.7 454.7l5.2-1-0.1-4.1-5.2 1z"/>
<path class="t2" d="M552.9 448.9l5.2-1 1.7 1.7-5.2 1z"/>
<path class="s4" d="M575.4 454.9l-1.8-1.7-0.2-15.1 1.8 1.7z"/>
<path class="f4" d="M575.4 454.9l5.1-0.9-0.1-15.2-5.2 1z"/>
<path class="t4" d="M573.4 438.1l5.1-0.9 1.9 1.6-5.2 1z"/>
<path class="s6" d="M596.2 455.2l-1.9-1.7 0-12.5 1.9 1.7z"/>
<path class="f6" d="M596.2 455.2l5.1-1 0-12.4-5.1 0.9z"/>
<path class="t6" d="M594.3 441l5-0.9 2 1.7-5.1 0.9z"/>
<path class="u10" d="M635.9 454l0-0.8 4.9-1 2.2 1.7 0 0.9-5 0.9z"/>
<path class="v10" d="M635.9 453.2l4.9-1 2.2 1.7-5 1z"/>
<path class="u1" d="M544.3 453.7l5.2-0.9 1.7 1.7 0 0.8-5.2 1-1.7-1.7z"/>
<path class="v1" d="M544.3 453.7l5.2-0.9 1.7 1.7-5.3 1z"/>
<path class="s8" d="M617.1 455.5l-2.1-1.8 0.1-5.5 2 1.8z"/>
<path class="f8" d="M617.1 455.5l5-1 0.1-5.5-5.1 1z"/>
<path class="t8" d="M615.1 448.2l5-0.9 2.1 1.7-5.1 1z"/>
<path class="s3" d="M566.8 456.6l-1.8-1.8-0.1-8.9 1.7 1.7z"/>
<path class="f3" d="M566.8 456.6l5.2-1-0.2-9-5.2 1z"/>
<path class="t3" d="M564.9 445.9l5.1-1 1.8 1.7-5.2 1z"/>
<path class="u0" d="M535.5 455.4l5.2-1 1.6 1.7 0 0.9-5.2 0.9-1.6-1.7z"/>
<path class="v0" d="M535.5 455.3l5.3-0.9 1.6 1.7-5.3 1z"/>
<path class="s5" d="M587.7 456.8l-1.9-1.7-0.1-17.1 1.8 1.7z"/>
<path class="f5" d="M587.7 456.8l5.1-1-0.1-17-5.2 0.9z"/>
<path class="t5" d="M585.7 438l5.1-0.9 1.9 1.7-5.2 0.9z"/>
<path class="s7" d="M608.6 457.1l-2-1.8 0.1-7.1 2 1.7z"/>
<path class="f7" d="M608.6 457.1l5.1-1 0.1-7.2-5.1 1z"/>
<path class="t7" d="M606.7 448.2l5-1 2.1 1.7-5.1 1z"/>
<path class="s9" d="M629.7 457.4l-2.2-1.8 0.1-3.1 2.1 1.8z"/>
<path class="f9" d="M629.7 457.4l5-1 0.1-3.1-5.1 1z"/>
<path class="t9" d="M627.6 452.5l5-1 2.2 1.8-5.1 1z"/>
<path class="s2" d="M558.1 458.2l-1.7-1.8-0.1-4.1 1.7 1.8z"/>
<path class="f2" d="M558.1 458.2l5.2-1-0.1-4.1-5.2 1z"/>
<path class="t2" d="M556.3 452.3l5.2-1 1.7 1.8-5.2 1z"/>
<path class="s4" d="M579 458.5l-1.8-1.8-0.2-15 1.9 1.7z"/>
<path class="f4" d="M579 458.5l5.2-1-0.1-15.1-5.2 1z"/>
<path class="t4" d="M577 441.7l5.2-1 1.9 1.7-5.2 1z"/>
<path class="u10" d="M640.2 457.5l0-0.8 5-1 2.3 1.8-0.1 0.8-5 1z"/>
<path class="v10" d="M640.2 456.7l5-1 2.3 1.8-5.1 0.9z"/>
<path class="s6" d="M600.1 458.7l-2-1.7 0-12.4 2 1.7z"/>
<path class="f6" d="M600.1 458.7l5.1-0.9 0.1-12.5-5.2 1z"/>
<path class="t6" d="M598.1 444.6l5.2-1 2 1.7-5.2 1z"/>
<path class="s8" d="M621.2 459l-2.1-1.8 0.1-5.5 2.1 1.8z"/>
<path class="f8" d="M621.2 459l5.1-1 0.1-5.5-5.1 1z"/>
<path class="t8" d="M619.2 451.7l5.1-1 2.1 1.8-5.1 1z"/>
<path class="u1" d="M547.6 457.2l5.2-0.9 1.7 1.7 0.1 0.9-5.3 1-1.7-1.8z"/>
<path class="v1" d="M547.6 457.2l5.2-0.9 1.7 1.7-5.3 1z"/>
<path class="s3" d="M570.3 460.1l-1.8-1.8-0.1-9 1.8 1.8z"/>
<path class="f3" d="M570.3 460.1l5.3-1-0.2-9-5.2 1z"/>
<path class="t3" d="M568.4 449.3l5.2-0.9 1.8 1.7-5.2 1z"/>
<path class="u0" d="M538.7 458.9l5.3-1 1.7 1.8 0 0.8-5.3 1-1.6-1.8z"/>
<path class="v0" d="M538.7 458.9l5.3-1 1.7 1.8-5.4 1z"/>
<path class="s5" d="M591.5 460.4l-1.9-1.8-0.1-16.9 1.9 1.7z"/>
<path class="f5" d="M591.5 460.4l5.2-1-0.1-17-5.2 1z"/>
<path class="t5" d="M589.5 441.7l5.2-1 1.9 1.7-5.2 1z"/>
<path class="s9" d="M634 461l-2.2-1.9 0.1-3.1 2.1 1.8z"/>
<path class="f9" d="M634 461l5.1-1.1 0-3.1-5.1 1z"/>
<path class="t9" d="M631.9 456l5-1 2.2 1.8-5.1 1z"/>
<path class="s7" d="M612.7 460.7l-2.1-1.8 0.1-7.2 2 1.8z"/>
<path class="f7" d="M612.7 460.7l5.1-1 0.1-7.2-5.2 1z"/>
<path class="t7" d="M610.7 451.7l5.1-1 2.1 1.8-5.2 1z"/>
<path class="s2" d="M561.5 461.8l-1.7-1.8-0.1-4.2 1.7 1.8z"/>
<path class="f2" d="M561.5 461.8l5.3-1-0.1-4.2-5.3 1z"/>
<path class="t2" d="M559.7 455.8l5.3-1 1.7 1.8-5.3 1z"/>
<path class="s4" d="M582.8 462.1l-1.9-1.8-0.2-14.9 1.9 1.7z"/>
<path class="f4" d="M582.8 462.1l5.2-1-0.1-15-5.3 1z"/>
<path class="t4" d="M580.7 445.4l5.3-1 1.9 1.7-5.3 1z"/>
<path class="u10" d="M644.6 461.1l0.1-0.8 5-1.1 2.3 1.9 0 0.8-5.1 1z"/>
<path class="v10" d="M644.7 460.3l5-1 2.3 1.8-5.1 1z"/>
<path class="s6" d="M604.1 462.4l-2-1.9 0-12.3 2 1.7z"/>
<path class="f6" d="M604.1 462.4l5.2-1 0-12.5-5.2 1z"/>
<path class="t6" d="M602.1 448.2l5.2-1 2 1.7-5.2 1z"/>
<path class="s8" d="M625.5 462.6l-2.2-1.8 0.1-5.6 2.1 1.8z"/>
<path class="f8" d="M625.5 462.6l5.1-1 0.1-5.6-5.2 1z"/>
<path class="t8" d="M623.4 455.2l5.1-1 2.2 1.8-5.2 1z"/>
<path class="u1" d="M550.9 460.8l5.3-1 1.8 1.8 0 0.9-5.4 1-1.7-1.8z"/>
<path class="v1" d="M550.9 460.8l5.3-1 1.8 1.9-5.4 1z"/>
<path class="s3" d="M574 463.8l-1.9-1.9-0.1-9 1.8 1.7z"/>
<path class="f3" d="M574 463.8l5.3-1-0.2-9.2-5.3 1z"/>
<path class="t3" d="M572 452.9l5.3-1 1.8 1.7-5.3 1z"/>
<path class="s5" d="M595.4 464.1l-2-1.9-0.1-16.9 2 1.8z"/>
<path class="f5" d="M595.4 464.1l5.2-1.1 0-16.9-5.3 1z"/>
<path class="t5" d="M593.3 445.3l5.3-0.9 2 1.7-5.3 1z"/>
<path class="u0" d="M542 462.5l5.4-1 1.6 1.9 0.1 0.8-5.4 1-1.7-1.8z"/>
<path class="v0" d="M542 462.5l5.4-1 1.6 1.8-5.4 1.1z"/>
<path class="s9" d="M638.4 464.6l-2.2-1.8 0-3.2 2.3 1.9z"/>
<path class="f9" d="M638.4 464.6l5.1-1 0.1-3.2-5.1 1.1z"/>
<path class="t9" d="M636.2 459.6l5.1-1 2.3 1.8-5.1 1.1z"/>
<path class="s7" d="M616.8 464.4l-2-1.9 0-7.1 2.1 1.8z"/>
<path class="f7" d="M616.8 464.4l5.2-1.1 0.1-7.1-5.2 1z"/>
<path class="t7" d="M614.8 455.4l5.2-1 2.1 1.8-5.2 1z"/>
<path class="s2" d="M565.1 465.5l-1.8-1.9-0.1-4.2 1.8 1.9z"/>
<path class="f2" d="M565.1 465.5l5.3-1 0-4.2-5.4 1z"/>
<path class="t2" d="M563.2 459.4l5.3-1 1.9 1.9-5.4 1z"/>
<path class="s4" d="M586.6 465.8l-1.9-1.9-0.2-14.8 2 1.8z"/>
<path class="f4" d="M586.6 465.8l5.3-1-0.1-14.9-5.3 1z"/>
<path class="t4" d="M584.5 449.1l5.3-1 2 1.8-5.3 1z"/>
<path class="u10" d="M649.2 464.8l0-0.9 5.1-1 2.4 1.9-0.1 0.8-5.1 1.1z"/>
<path class="v10" d="M649.2 463.9l5.1-1 2.4 1.9-5.2 1z"/>
<path class="s8" d="M629.8 466.4l-2.2-1.9 0.1-5.6 2.2 1.8z"/>
<path class="f8" d="M629.8 466.4l5.2-1.1 0.1-5.6-5.2 1z"/>
<path class="t8" d="M627.7 458.9l5.2-1.1 2.2 1.9-5.2 1z"/>
<path class="s6" d="M608.1 466.1l-2-1.9 0-12.3 2.1 1.8z"/>
<path class="f6" d="M608.1 466.1l5.3-1.1 0.1-12.3-5.3 1z"/>
<path class="t6" d="M606.1 451.9l5.3-1 2.1 1.8-5.3 1z"/>
<path class="u1" d="M554.3 464.5l5.4-1 1.8 1.9 0 0.8-5.4 1-1.7-1.8z"/>
<path class="v1" d="M554.3 464.5l5.4-1 1.8 1.9-5.4 1z"/>
<path class="s3" d="M577.7 467.5l-1.9-1.9-0.1-9.1 1.9 1.8z"/>
<path class="f3" d="M577.7 467.5l5.3-1-0.1-9.2-5.3 1z"/>
<path class="t3" d="M575.7 456.5l5.3-1.1 1.9 1.9-5.3 1z"/>
<path class="s9" d="M642.9 468.4l-2.2-1.9 0-3.2 2.3 1.9z"/>
<path class="f9" d="M642.9 468.4l5.2-1 0.1-3.2-5.2 1z"/>
<path class="t9" d="M640.7 463.3l5.2-1 2.3 1.9-5.2 1z"/>
<path class="s5" d="M599.4 467.8l-2-1.9-0.1-16.8 2.1 1.8z"/>
<path class="f5" d="M599.4 467.8l5.2-1 0.1-16.9-5.3 1z"/>
<path class="t5" d="M597.3 449.1l5.3-1 2.1 1.8-5.3 1z"/>
<path class="s7" d="M621.1 468.1l-2.1-1.9 0-7.1 2.2 1.8z"/>
<path class="f7" d="M621.1 468.1l5.2-1 0.1-7.2-5.2 1z"/>
<path class="t7" d="M619 459.1l5.3-1 2.1 1.8-5.2 1z"/>
<path class="u0" d="M545.3 466.2l5.4-1 1.8 1.9 0 0.8-5.5 1.1-1.7-1.9z"/>
<path class="v0" d="M545.3 466.2l5.4-1 1.8 1.9-5.5 1z"/>
<path class="s2" d="M568.7 469.3l-1.8-1.9-0.1-4.3 1.8 1.9z"/>
<path class="f2" d="M568.7 469.3l5.4-1.1 0-4.2-5.5 1z"/>
<path class="t2" d="M566.8 463.1l5.4-1 1.9 1.9-5.5 1z"/>
<path class="s4" d="M590.5 469.6l-2-1.9-0.1-14.8 2 1.8z"/>
<path class="f4" d="M590.5 469.6l5.3-1.1 0-14.8-5.4 1z"/>
<path class="t4" d="M588.4 452.9l5.4-1 2 1.8-5.4 1z"/>
<path class="s8" d="M634.2 470.2l-2.2-1.9 0.1-5.7 2.3 1.9z"/>
<path class="f8" d="M634.2 470.2l5.3-1.1 0.1-5.7-5.2 1.1z"/>
<path class="t8" d="M632.1 462.6l5.2-1.1 2.3 1.9-5.2 1.1z"/>
<path class="s6" d="M612.3 469.9l-2.1-1.9 0.1-12.3 2.1 1.9z"/>
<path class="f6" d="M612.3 469.9l5.3-1.1 0.1-12.3-5.3 1.1z"/>
<path class="t6" d="M610.3 455.7l5.3-1 2.1 1.8-5.3 1.1z"/>
<path class="u1" d="M557.9 468.3l5.5-1.1 1.8 1.9 0 0.9-5.4 1.1-1.8-2z"/>
<path class="v1" d="M557.9 468.3l5.4-1.1 1.8 1.9-5.5 1.1z"/>
<path class="s3" d="M581.5 471.4l-1.9-2-0.1-9.2 1.9 1.8z"/>
<path class="f3" d="M581.5 471.4l5.4-1.1-0.1-9.3-5.4 1z"/>
<path class="t3" d="M579.5 460.2l5.4-1.1 1.9 1.9-5.4 1z"/>
<path class="s5" d="M603.5 471.7l-2.1-2 0-16.7 2.1 1.9z"/>
<path class="f5" d="M603.5 471.7l5.3-1.1 0.1-16.8-5.4 1.1z"/>
<path class="t5" d="M601.4 453l5.4-1 2.1 1.8-5.4 1.1z"/>
<path class="s7" d="M625.5 472l-2.2-2 0.1-7.1 2.2 1.9z"/>
<path class="f7" d="M625.5 472l5.2-1.1 0.2-7.2-5.3 1.1z"/>
<path class="t7" d="M623.4 462.9l5.2-1.1 2.3 1.9-5.3 1.1z"/>
<path class="u0" d="M548.7 470.1l5.5-1.1 1.8 1.9 0 0.9-5.5 1-1.7-1.9z"/>
<path class="v0" d="M548.7 470.1l5.5-1.1 1.8 1.9-5.5 1.1z"/>
<path class="s2" d="M572.4 473.2l-1.8-2-0.1-4.3 1.9 2z"/>
<path class="f2" d="M572.4 473.2l5.5-1.1-0.1-4.3-5.4 1.1z"/>
<path class="t2" d="M570.5 466.9l5.4-1 1.9 1.9-5.4 1.1z"/>
<path class="s4" d="M594.5 473.5l-2-2-0.1-14.6 2 1.9z"/>
<path class="f4" d="M594.5 473.5l5.4-1.1 0-14.7-5.5 1.1z"/>
<path class="t4" d="M592.4 456.9l5.4-1 2.1 1.8-5.5 1.1z"/>
<path class="s6" d="M616.6 473.8l-2.1-2 0.1-12.2 2.1 1.9z"/>
<path class="f6" d="M616.6 473.8l5.3-1.1 0.2-12.3-5.4 1.1z"/>
<path class="t6" d="M614.6 459.6l5.3-1.1 2.2 1.9-5.4 1.1z"/>
<path class="u1" d="M561.4 472.1l5.5-1.1 1.9 1.9 0 0.9-5.5 1.1-1.8-2z"/>
<path class="v1" d="M561.4 472.1l5.5-1 1.9 1.9-5.5 1.1z"/>
<path class="s3" d="M585.4 475.3l-1.9-2-0.1-9.4 1.9 2z"/>
<path class="f3" d="M585.4 475.3l5.5-1.1-0.1-9.4-5.5 1.1z"/>
<path class="t3" d="M583.4 463.9l5.4-1 2 1.9-5.5 1.1z"/>
<path class="s5" d="M607.6 475.6l-2.1-2 0.1-16.7 2.1 1.9z"/>
<path class="f5" d="M607.6 475.6l5.4-1.1 0.2-16.7-5.5 1z"/>
<path class="t5" d="M605.6 456.9l5.4-1 2.2 1.9-5.5 1z"/>
<path class="u0" d="M552.2 474l5.6-1.1 1.8 1.9 0 0.9-5.6 1.1-1.8-2z"/>
<path class="v0" d="M552.2 474l5.6-1.1 1.8 1.9-5.6 1.1z"/>
<path class="s2" d="M576.3 477.1l-2-2 0-4.3 1.9 2z"/>
<path class="f2" d="M576.3 477.1l5.5-1.1-0.1-4.3-5.5 1.1z"/>
<path class="t2" d="M574.3 470.8l5.5-1.1 1.9 2-5.5 1.1z"/>
<path class="s4" d="M598.6 477.5l-2.1-2.1 0-14.5 2.1 1.9z"/>
<path class="f4" d="M598.6 477.5l5.4-1.2 0.1-14.5-5.5 1z"/>
<path class="t4" d="M596.5 460.9l5.5-1.1 2.1 2-5.5 1z"/>
<path class="u1" d="M565.1 476.1l5.6-1.1 1.9 2 0 0.9-5.6 1.1-1.9-2z"/>
<path class="v1" d="M565.1 476.1l5.6-1.1 1.9 2-5.6 1.1z"/>
<path class="s3" d="M589.4 479.3l-2-2-0.1-9.5 2.1 2z"/>
<path class="f3" d="M589.4 479.3l5.5-1.1 0-9.5-5.5 1.1z"/>
<path class="t3" d="M587.3 467.8l5.6-1.1 2 2-5.5 1.1z"/>
<path class="u0" d="M555.8 478l5.6-1.2 1.9 2.1 0 0.8-5.6 1.2-1.9-2.1z"/>
<path class="v0" d="M555.8 478l5.6-1.2 1.9 2.1-5.7 1.1z"/>
<path class="s2" d="M580.2 481.2l-2-2 0-4.4 1.9 2z"/>
<path class="f2" d="M580.2 481.2l5.5-1.1 0-4.4-5.6 1.1z"/>
<path class="t2" d="M578.2 474.8l5.5-1.1 2 2-5.6 1.1z"/>
<path class="u1" d="M568.9 480.2l5.6-1.2 1.9 2.1 0.1 0.9-5.7 1.1-1.9-2.1z"/>
<path class="v1" d="M568.9 480.2l5.6-1.2 1.9 2.1-5.6 1.1z"/>
<path class="u0" d="M559.5 482.1l5.7-1.2 1.8 2.1 0.1 0.9-5.7 1.1-1.9-2.1z"/>
<path class="v0" d="M559.5 482.1l5.6-1.2 2 2.1-5.7 1.2z"/>
<g font-family="Liberation Serif" fill="#111" stroke="#111" stroke-width="0.15">
<text transform="matrix(1.7003,-0.3577,0.7005,0.7801,571.10,494.40)" font-size="13" text-anchor="middle" dominant-baseline="central">0</text>
<text transform="matrix(1.6103,-0.3391,0.7883,0.7379,618.80,484.70)" font-size="13" text-anchor="middle" dominant-baseline="central">5</text>
<text transform="matrix(1.5105,-0.3170,0.8708,0.6880,669.30,472.90)" font-size="13" text-anchor="middle" dominant-baseline="central">10</text>
<text transform="matrix(1.6646,-0.3647,0.8363,0.7959,626.50,497.50)" font-size="13" font-style="italic" text-anchor="middle" dominant-baseline="central">n</text>
<text transform="matrix(0.4906,0.5908,-1.5298,0.2738,511.40,450.30)" font-size="13" text-anchor="middle" dominant-baseline="central">0</text>
<text transform="matrix(0.5525,0.6676,-1.6128,0.3079,526.10,469.00)" font-size="13" text-anchor="middle" dominant-baseline="central">5</text>
<text transform="matrix(0.6166,0.7472,-1.6927,0.3432,540.40,487.30)" font-size="13" text-anchor="middle" dominant-baseline="central">10</text>
<text transform="matrix(0.5159,0.6993,-1.6708,0.3220,503.30,476.60)" font-size="13" font-style="italic" text-anchor="middle" dominant-baseline="central">t</text>
</g>
<g fill="#111">
<text transform="translate(7.75,27.80) scale(0.85,1)" font-family="Liberation Sans" font-size="34.5" font-weight="bold" font-style="normal">a</text>
<text transform="translate(227.90,27.80) scale(0.95,1)" font-family="Liberation Sans" font-size="34.5" font-weight="bold" font-style="normal">b</text>
<text transform="translate(451.60,27.80) scale(0.82,1)" font-family="Liberation Sans" font-size="34.5" font-weight="bold" font-style="normal">c</text>
<text transform="translate(73.20,34.00) scale(1.2,1)" font-family="Liberation Serif" font-size="26" font-weight="normal" font-style="italic">δ</text>
<text transform="translate(96.77,35.20) scale(1.33,1.2)" font-family="Liberation Serif" font-size="26">=</text>
<text x="123.90" y="34.00" font-family="Liberation Serif" font-size="27" font-weight="normal" font-style="normal">0</text>
<text x="137.50" y="34.00" font-family="Liberation Serif" font-size="27" font-weight="normal" font-style="normal">.</text>
<text transform="translate(143.80,34.00) scale(1.15,1)" font-family="Liberation Serif" font-size="27" font-weight="normal" font-style="normal">1</text>
<text x="158.90" y="34.00" font-family="Liberation Serif" font-size="27" font-weight="normal" font-style="italic">ω</text>
<text transform="translate(176.60,38.60) scale(1.15,1)" font-family="Liberation Serif" font-size="20" font-weight="normal" font-style="italic">e</text>
<text transform="translate(319.30,31.20) scale(1.2,1)" font-family="Liberation Serif" font-size="26" font-weight="normal" font-style="italic">δ</text>
<text transform="translate(342.67,32.40) scale(1.33,1.2)" font-family="Liberation Serif" font-size="26">=</text>
<text x="369.80" y="31.20" font-family="Liberation Serif" font-size="27" font-weight="normal" font-style="normal">0</text>
<text transform="translate(519.30,34.00) scale(1.2,1)" font-family="Liberation Serif" font-size="26" font-weight="normal" font-style="italic">δ</text>
<text transform="translate(542.67,35.20) scale(1.33,1.2)" font-family="Liberation Serif" font-size="26">=</text>
<text transform="translate(570.10,34.50) scale(1.2,1)" font-family="Liberation Serif" font-size="26">−</text>
<text x="590.00" y="34.00" font-family="Liberation Serif" font-size="27" font-weight="normal" font-style="normal">0</text>
<text x="603.20" y="34.00" font-family="Liberation Serif" font-size="27" font-weight="normal" font-style="normal">.</text>
<text transform="translate(609.50,34.00) scale(1.15,1)" font-family="Liberation Serif" font-size="27" font-weight="normal" font-style="normal">1</text>
<text x="624.50" y="34.00" font-family="Liberation Serif" font-size="27" font-weight="normal" font-style="italic">ω</text>
<text transform="translate(641.80,38.60) scale(1.15,1)" font-family="Liberation Serif" font-size="20" font-weight="normal" font-style="italic">e</text>
<text x="13.70" y="63.40" font-family="Liberation Sans" font-size="25" letter-spacing="0.45">(i)</text>
<text x="10.70" y="210.60" font-family="Liberation Sans" font-size="25" letter-spacing="0.45">(ii)</text>
<text x="8.50" y="370.60" font-family="Liberation Sans" font-size="25" letter-spacing="0.45">(iii)</text>
<text x="234.10" y="64.20" font-family="Liberation Sans" font-size="25" letter-spacing="0.45">(i)</text>
<text x="230.40" y="211.10" font-family="Liberation Sans" font-size="25" letter-spacing="0.45">(ii)</text>
<text x="228.20" y="371.20" font-family="Liberation Sans" font-size="25" letter-spacing="0.45">(iii)</text>
<text x="460.10" y="63.60" font-family="Liberation Sans" font-size="25" letter-spacing="0.45">(i)</text>
<text x="456.60" y="210.70" font-family="Liberation Sans" font-size="25" letter-spacing="0.45">(ii)</text>
<text x="455.00" y="370.40" font-family="Liberation Sans" font-size="25" letter-spacing="0.45">(iii)</text>
<text x="189.10" y="70.00" font-family="Liberation Sans" font-size="20" font-weight="normal" font-style="normal">1.0</text>
<text x="188.30" y="105.10" font-family="Liberation Sans" font-size="20" font-weight="normal" font-style="normal">0.5</text>
<text x="189.10" y="227.30" font-family="Liberation Sans" font-size="20" font-weight="normal" font-style="normal">1.0</text>
<text x="188.30" y="262.40" font-family="Liberation Sans" font-size="20" font-weight="normal" font-style="normal">0.5</text>
<text x="189.10" y="386.40" font-family="Liberation Sans" font-size="20" font-weight="normal" font-style="normal">1.0</text>
<text x="188.30" y="421.50" font-family="Liberation Sans" font-size="20" font-weight="normal" font-style="normal">0.5</text>
<text x="264.20" y="63.50" font-family="Liberation Sans" font-size="20" font-weight="normal" font-style="normal">1.0</text>
<text x="266.30" y="98.80" font-family="Liberation Sans" font-size="20" font-weight="normal" font-style="normal">0.5</text>
<text x="264.20" y="219.10" font-family="Liberation Sans" font-size="20" font-weight="normal" font-style="normal">1.0</text>
<text x="266.30" y="254.40" font-family="Liberation Sans" font-size="20" font-weight="normal" font-style="normal">0.5</text>
<text x="264.20" y="378.50" font-family="Liberation Sans" font-size="20" font-weight="normal" font-style="normal">1.0</text>
<text x="266.30" y="413.80" font-family="Liberation Sans" font-size="20" font-weight="normal" font-style="normal">0.5</text>
<text transform="translate(490.00,73.60) scale(1,1.12)" font-family="Liberation Sans" font-size="20">1.0</text>
<text transform="translate(492.90,108.20) scale(1,1.07)" font-family="Liberation Sans" font-size="20">0.5</text>
<text transform="translate(490.00,229.70) scale(1,1.12)" font-family="Liberation Sans" font-size="20">1.0</text>
<text transform="translate(492.90,264.30) scale(1,1.07)" font-family="Liberation Sans" font-size="20">0.5</text>
<text transform="translate(490.00,388.00) scale(1,1.12)" font-family="Liberation Sans" font-size="20">1.0</text>
<text transform="translate(492.90,422.60) scale(1,1.07)" font-family="Liberation Sans" font-size="20">0.5</text>
</g>
</svg>
</body></html>
